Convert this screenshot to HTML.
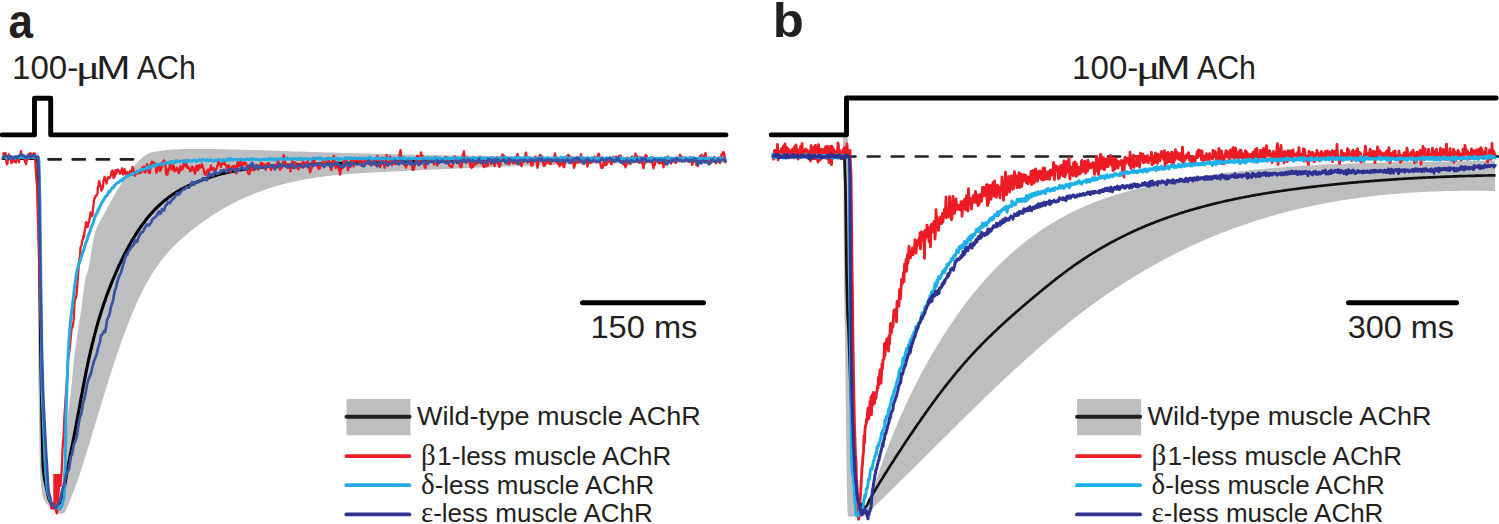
<!DOCTYPE html>
<html><head><meta charset="utf-8"><style>
html,body{margin:0;padding:0;background:#fff;}
body{width:1499px;height:524px;overflow:hidden;font-family:"Liberation Sans",sans-serif;}
svg{display:block;}
</style></head><body>
<svg width="1499" height="524" viewBox="0 0 1499 524">
<path d="M30.0 157.0L30.5 157.0L31.0 157.0L31.5 157.0L32.0 157.0L32.5 157.0L33.0 157.0L33.5 157.0L34.0 157.0L34.5 157.0L35.0 157.0L35.5 157.0L36.0 157.0L36.5 157.0L37.0 157.0L37.5 153.1L38.0 151.0L38.5 153.3L39.0 200.0L39.5 258.3L40.0 320.0L40.5 378.3L41.0 420.0L41.5 438.8L42.0 453.0L42.5 463.1L43.0 470.0L43.5 475.0L44.0 479.2L44.5 482.7L45.0 485.6L45.5 488.0L46.0 490.0L46.5 491.8L47.0 493.4L47.5 494.9L48.0 496.3L48.5 497.5L49.0 498.5L49.5 499.3L50.0 500.0L50.5 500.6L51.0 501.1L51.5 501.6L52.0 502.1L52.5 502.5L53.0 502.7L53.5 502.9L54.0 503.0L54.5 502.9L55.0 502.7L55.5 502.3L56.0 501.9L56.5 501.4L57.0 500.9L57.5 500.5L58.0 500.0L58.5 500.4L59.0 499.9L59.5 498.7L60.0 496.8L60.5 494.4L61.0 491.3L61.5 487.9L62.0 484.0L62.5 479.8L63.0 475.3L63.5 470.6L64.0 465.7L64.5 460.8L65.0 455.8L65.5 450.5L66.0 444.4L66.5 437.2L67.0 428.9L67.5 421.0L68.0 414.7L68.5 409.8L69.0 405.9L69.5 402.4L70.0 399.0L70.5 395.3L71.0 390.8L71.5 385.7L72.0 380.1L72.5 374.5L73.0 369.1L73.5 364.1L74.0 359.5L74.5 355.2L75.0 351.1L75.5 347.3L76.0 343.6L76.5 340.1L77.0 336.7L77.5 333.4L78.0 330.1L78.5 326.9L79.0 323.7L79.5 320.5L80.0 317.2L80.5 313.9L81.0 310.4L81.5 306.9L82.0 303.2L82.5 299.4L83.0 295.4L83.5 291.4L84.0 287.6L84.5 284.1L85.0 281.0L85.5 278.5L86.0 276.6L86.5 275.0L87.0 273.6L87.5 272.1L88.0 270.5L88.5 268.4L89.0 265.9L89.5 263.1L90.0 260.0L90.5 256.8L91.0 253.6L91.5 250.4L92.0 247.2L92.5 244.3L93.0 241.6L93.5 239.1L94.0 236.9L94.5 234.8L95.0 233.0L95.5 231.3L96.0 229.8L96.5 228.4L97.0 227.1L97.5 225.9L98.0 224.9L98.5 223.8L99.0 222.9L99.5 222.0L100.0 221.1L100.5 220.3L101.0 219.4L101.5 218.5L102.0 217.6L102.5 216.7L103.0 215.9L103.5 215.0L104.0 214.1L104.5 213.2L105.0 212.3L105.5 211.4L106.0 210.4L106.5 209.5L107.0 208.6L107.5 207.7L108.0 206.8L108.5 205.9L109.0 205.0L109.5 204.1L110.0 203.1L110.5 202.2L111.0 201.3L111.5 200.4L112.0 199.5L112.5 198.6L113.0 197.7L113.5 196.8L114.0 195.9L114.5 195.1L115.0 194.2L115.5 193.3L116.0 192.4L116.5 191.6L117.0 190.7L117.5 189.9L118.0 189.0L118.5 188.2L119.0 187.4L119.5 186.5L120.0 185.7L120.5 184.9L121.0 184.1L121.5 183.4L122.0 182.6L122.5 181.8L123.0 181.1L123.5 180.3L124.0 179.6L124.5 178.8L125.0 178.1L125.5 177.4L126.0 176.7L126.5 176.0L127.0 175.3L127.5 174.6L128.0 173.9L128.5 173.2L129.0 172.6L129.5 171.9L130.0 171.3L130.5 170.6L131.0 170.0L131.5 169.4L132.0 168.8L132.5 168.1L133.0 167.5L133.5 166.9L134.0 166.3L134.5 165.8L135.0 165.2L135.5 164.6L136.0 164.0L136.5 163.5L137.0 162.9L137.5 162.4L138.0 161.8L138.5 161.3L139.0 160.8L139.5 160.3L140.0 159.8L140.5 159.3L141.0 158.8L141.5 158.4L142.0 157.9L142.5 157.5L143.0 157.1L143.5 156.6L144.0 156.3L144.5 155.9L145.0 155.5L145.5 155.2L146.0 154.9L146.5 154.6L147.0 154.3L147.5 154.0L148.0 153.8L148.5 153.5L149.0 153.3L149.5 153.1L150.0 153.0L150.5 152.8L151.0 152.6L151.5 152.5L152.0 152.3L152.5 152.2L153.0 152.1L153.5 152.0L154.0 151.9L154.5 151.8L155.0 151.7L155.5 151.6L156.0 151.5L156.5 151.4L157.0 151.3L157.5 151.2L158.0 151.2L158.5 151.1L159.0 151.0L159.5 150.9L160.0 150.9L160.5 150.8L161.0 150.7L161.5 150.6L162.0 150.6L162.5 150.5L163.0 150.4L163.5 150.4L164.0 150.3L164.5 150.3L165.0 150.2L165.5 150.1L166.0 150.1L166.5 150.0L167.0 150.0L167.5 149.9L168.0 149.9L168.5 149.8L169.0 149.8L169.5 149.8L170.0 149.7L170.5 149.7L171.0 149.6L171.5 149.6L172.0 149.6L172.5 149.5L173.0 149.5L173.5 149.5L174.0 149.4L174.5 149.4L175.0 149.4L175.5 149.3L176.0 149.3L176.5 149.3L177.0 149.3L177.5 149.2L178.0 149.2L178.5 149.2L179.0 149.2L179.5 149.1L180.0 149.1L180.5 149.1L181.0 149.1L181.5 149.1L182.0 149.1L182.5 149.0L183.0 149.0L183.5 149.0L184.0 149.0L184.5 149.0L185.0 149.0L185.5 149.0L186.0 149.0L186.5 149.0L187.0 149.0L187.5 148.9L188.0 148.9L188.5 148.9L189.0 148.9L189.5 148.9L190.0 148.9L190.5 148.9L191.0 148.9L191.5 148.9L192.0 148.9L192.5 148.9L193.0 148.9L193.5 148.9L194.0 148.9L194.5 148.9L195.0 148.9L195.5 148.9L196.0 148.9L196.5 148.9L197.0 148.9L197.5 148.9L198.0 148.9L198.5 148.9L199.0 148.9L199.5 148.9L200.0 148.9L200.5 149.0L201.0 149.0L201.5 149.0L202.0 149.0L202.5 149.0L203.0 149.0L203.5 149.0L204.0 149.0L204.5 149.0L205.0 149.0L205.5 149.0L206.0 149.0L206.5 149.0L207.0 149.0L207.5 149.0L208.0 149.0L208.5 149.0L209.0 149.0L209.5 149.0L210.0 149.1L210.5 149.1L211.0 149.1L211.5 149.1L212.0 149.1L212.5 149.1L213.0 149.1L213.5 149.1L214.0 149.1L214.5 149.1L215.0 149.1L215.5 149.1L216.0 149.1L216.5 149.2L217.0 149.2L217.5 149.2L218.0 149.2L218.5 149.2L219.0 149.2L219.5 149.2L220.0 149.2L220.5 149.2L221.0 149.2L221.5 149.2L222.0 149.3L222.5 149.3L223.0 149.3L223.5 149.3L224.0 149.3L224.5 149.3L225.0 149.3L225.5 149.3L226.0 149.3L226.5 149.3L227.0 149.4L227.5 149.4L228.0 149.4L228.5 149.4L229.0 149.4L229.5 149.4L230.0 149.4L230.5 149.4L231.0 149.4L231.5 149.5L232.0 149.5L232.5 149.5L233.0 149.5L233.5 149.5L234.0 149.5L234.5 149.5L235.0 149.5L235.5 149.5L236.0 149.6L236.5 149.6L237.0 149.6L237.5 149.6L238.0 149.6L238.5 149.6L239.0 149.6L239.5 149.6L240.0 149.7L240.5 149.7L241.0 149.7L241.5 149.7L242.0 149.7L242.5 149.7L243.0 149.7L243.5 149.8L244.0 149.8L244.5 149.8L245.0 149.8L245.5 149.8L246.0 149.8L246.5 149.8L247.0 149.9L247.5 149.9L248.0 149.9L248.5 149.9L249.0 149.9L249.5 149.9L250.0 149.9L250.5 150.0L251.0 150.0L251.5 150.0L252.0 150.0L252.5 150.0L253.0 150.0L253.5 150.0L254.0 150.1L254.5 150.1L255.0 150.1L255.5 150.1L256.0 150.1L256.5 150.1L257.0 150.1L257.5 150.2L258.0 150.2L258.5 150.2L259.0 150.2L259.5 150.2L260.0 150.2L260.5 150.3L261.0 150.3L261.5 150.3L262.0 150.3L262.5 150.3L263.0 150.3L263.5 150.3L264.0 150.4L264.5 150.4L265.0 150.4L265.5 150.4L266.0 150.4L266.5 150.4L267.0 150.5L267.5 150.5L268.0 150.5L268.5 150.5L269.0 150.5L269.5 150.5L270.0 150.6L270.5 150.6L271.0 150.6L271.5 150.6L272.0 150.6L272.5 150.6L273.0 150.7L273.5 150.7L274.0 150.7L274.5 150.7L275.0 150.7L275.5 150.7L276.0 150.8L276.5 150.8L277.0 150.8L277.5 150.8L278.0 150.8L278.5 150.8L279.0 150.9L279.5 150.9L280.0 150.9L280.5 150.9L281.0 150.9L281.5 150.9L282.0 151.0L282.5 151.0L283.0 151.0L283.5 151.0L284.0 151.0L284.5 151.0L285.0 151.1L285.5 151.1L286.0 151.1L286.5 151.1L287.0 151.1L287.5 151.1L288.0 151.2L288.5 151.2L289.0 151.2L289.5 151.2L290.0 151.2L290.5 151.2L291.0 151.3L291.5 151.3L292.0 151.3L292.5 151.3L293.0 151.3L293.5 151.4L294.0 151.4L294.5 151.4L295.0 151.4L295.5 151.4L296.0 151.4L296.5 151.5L297.0 151.5L297.5 151.5L298.0 151.5L298.5 151.5L299.0 151.5L299.5 151.6L300.0 151.6L300.5 151.6L301.0 151.6L301.5 151.6L302.0 151.6L302.5 151.7L303.0 151.7L303.5 151.7L304.0 151.7L304.5 151.7L305.0 151.7L305.5 151.8L306.0 151.8L306.5 151.8L307.0 151.8L307.5 151.8L308.0 151.8L308.5 151.9L309.0 151.9L309.5 151.9L310.0 151.9L310.5 151.9L311.0 151.9L311.5 151.9L312.0 152.0L312.5 152.0L313.0 152.0L313.5 152.0L314.0 152.0L314.5 152.0L315.0 152.1L315.5 152.1L316.0 152.1L316.5 152.1L317.0 152.1L317.5 152.1L318.0 152.2L318.5 152.2L319.0 152.2L319.5 152.2L320.0 152.2L320.5 152.2L321.0 152.3L321.5 152.3L322.0 152.3L322.5 152.3L323.0 152.3L323.5 152.3L324.0 152.3L324.5 152.4L325.0 152.4L325.5 152.4L326.0 152.4L326.5 152.4L327.0 152.4L327.5 152.5L328.0 152.5L328.5 152.5L329.0 152.5L329.5 152.5L330.0 152.5L330.5 152.5L331.0 152.6L331.5 152.6L332.0 152.6L332.5 152.6L333.0 152.6L333.5 152.6L334.0 152.6L334.5 152.7L335.0 152.7L335.5 152.7L336.0 152.7L336.5 152.7L337.0 152.7L337.5 152.7L338.0 152.8L338.5 152.8L339.0 152.8L339.5 152.8L340.0 152.8L340.5 152.8L341.0 152.9L341.5 152.9L342.0 152.9L342.5 152.9L343.0 152.9L343.5 152.9L344.0 152.9L344.5 153.0L345.0 153.0L345.5 153.0L346.0 153.0L346.5 153.0L347.0 153.0L347.5 153.0L348.0 153.0L348.5 153.1L349.0 153.1L349.5 153.1L350.0 153.1L350.5 153.1L351.0 153.1L351.5 153.1L352.0 153.2L352.5 153.2L353.0 153.2L353.5 153.2L354.0 153.2L354.5 153.2L355.0 153.2L355.5 153.3L356.0 153.3L356.5 153.3L357.0 153.3L357.5 153.3L358.0 153.3L358.5 153.3L359.0 153.4L359.5 153.4L360.0 153.4L360.5 153.4L361.0 153.4L361.5 153.4L362.0 153.4L362.5 153.4L363.0 153.5L363.5 153.5L364.0 153.5L364.5 153.5L365.0 153.5L365.5 153.5L366.0 153.5L366.5 153.5L367.0 153.6L367.5 153.6L368.0 153.6L368.5 153.6L369.0 153.6L369.5 153.6L370.0 153.6L370.5 153.7L371.0 153.7L371.5 153.7L372.0 153.7L372.5 153.7L373.0 153.7L373.5 153.7L374.0 153.7L374.5 153.8L375.0 153.8L375.5 153.8L376.0 153.8L376.5 153.8L377.0 153.8L377.5 153.8L378.0 153.8L378.5 153.9L379.0 153.9L379.5 153.9L380.0 153.9L380.5 153.9L381.0 153.9L381.5 153.9L382.0 153.9L382.5 153.9L383.0 154.0L383.5 154.0L384.0 154.0L384.5 154.0L385.0 154.0L385.5 154.0L386.0 154.0L386.5 154.0L387.0 154.1L387.5 154.1L388.0 154.1L388.5 154.1L389.0 154.1L389.5 154.1L390.0 154.1L390.5 154.1L391.0 154.2L391.5 154.2L392.0 154.2L392.5 154.2L393.0 154.2L393.5 154.2L394.0 154.2L394.5 154.2L395.0 154.2L395.5 154.3L396.0 154.3L396.5 154.3L397.0 154.3L397.5 154.3L398.0 154.3L398.5 154.3L399.0 154.3L399.5 154.3L400.0 154.4L400.5 154.4L401.0 154.4L401.5 154.4L402.0 154.4L402.5 154.4L403.0 154.4L403.5 154.4L404.0 154.4L404.5 154.5L405.0 154.5L405.5 154.5L406.0 154.5L406.5 154.5L407.0 154.5L407.5 154.5L408.0 154.5L408.5 154.5L409.0 154.6L409.5 154.6L410.0 154.6L410.5 154.6L411.0 154.6L411.5 154.6L412.0 154.6L412.5 154.6L413.0 154.6L413.5 154.6L414.0 154.7L414.5 154.7L415.0 154.7L415.5 154.7L416.0 154.7L416.5 154.7L417.0 154.7L417.5 154.7L418.0 154.7L418.5 154.8L419.0 154.8L419.5 154.8L420.0 154.8L420.5 154.8L421.0 154.8L421.5 154.8L422.0 154.8L422.5 154.8L423.0 154.8L423.5 154.9L424.0 154.9L424.5 154.9L425.0 154.9L425.5 154.9L426.0 154.9L426.5 154.9L427.0 154.9L427.5 154.9L428.0 154.9L428.5 154.9L429.0 155.0L429.5 155.0L430.0 155.0L430.5 155.0L431.0 155.0L431.5 155.0L432.0 155.0L432.5 155.0L433.0 155.0L433.5 155.0L434.0 155.1L434.5 155.1L435.0 155.1L435.5 155.1L436.0 155.1L436.5 155.1L437.0 155.1L437.5 155.1L438.0 155.1L438.5 155.1L439.0 155.1L439.5 155.2L440.0 155.2L440.5 155.2L441.0 155.2L441.5 155.2L442.0 155.2L442.5 155.2L443.0 155.2L443.5 155.2L444.0 155.2L444.5 155.2L445.0 155.3L445.5 155.3L446.0 155.3L446.5 155.3L447.0 155.3L447.5 155.3L448.0 155.3L448.5 155.3L449.0 155.3L449.5 155.3L450.0 155.3L450.5 155.4L451.0 155.4L451.5 155.4L452.0 155.4L452.5 155.4L453.0 155.4L453.5 155.4L454.0 155.4L454.5 155.4L455.0 155.4L455.5 155.4L456.0 155.4L456.5 155.5L457.0 155.5L457.5 155.5L458.0 155.5L458.5 155.5L459.0 155.5L459.5 155.5L460.0 155.5L460.5 155.5L461.0 155.5L461.5 155.5L462.0 155.5L462.5 155.5L463.0 155.6L463.5 155.6L464.0 155.6L464.5 155.6L465.0 155.6L465.5 155.6L466.0 155.6L466.5 155.6L467.0 155.6L467.5 155.6L468.0 155.6L468.5 155.6L469.0 155.7L469.5 155.7L470.0 155.7L470.5 155.7L471.0 155.7L471.5 155.7L472.0 155.7L472.5 155.7L473.0 155.7L473.5 155.7L474.0 155.7L474.5 155.7L475.0 155.7L475.5 155.7L476.0 155.8L476.5 155.8L477.0 155.8L477.5 155.8L478.0 155.8L478.5 155.8L479.0 155.8L479.5 155.8L480.0 155.8L480.5 155.8L481.0 155.8L481.5 155.8L482.0 155.8L482.5 155.8L483.0 155.9L483.5 155.9L484.0 155.9L484.5 155.9L485.0 155.9L485.5 155.9L486.0 155.9L486.5 155.9L487.0 155.9L487.5 155.9L488.0 155.9L488.5 155.9L489.0 155.9L489.5 155.9L490.0 156.0L490.5 156.0L491.0 156.0L491.5 156.0L492.0 156.0L492.5 156.0L493.0 156.0L493.5 156.0L494.0 156.0L494.5 156.0L495.0 156.0L495.5 156.0L496.0 156.0L496.5 156.0L497.0 156.0L497.5 156.0L498.0 156.1L498.5 156.1L499.0 156.1L499.5 156.1L500.0 156.1L500.5 156.1L501.0 156.1L501.5 156.1L502.0 156.1L502.5 156.1L503.0 156.1L503.5 156.1L504.0 156.1L504.5 156.1L505.0 156.1L505.5 156.1L506.0 156.2L506.5 156.2L507.0 156.2L507.5 156.2L508.0 156.2L508.5 156.2L509.0 156.2L509.5 156.2L510.0 156.2L510.5 156.2L511.0 156.2L511.5 156.2L512.0 156.2L512.5 156.2L513.0 156.2L513.5 156.2L514.0 156.2L514.5 156.2L515.0 156.3L515.5 156.3L516.0 156.3L516.5 156.3L517.0 156.3L517.5 156.3L518.0 156.3L518.5 156.3L519.0 156.3L519.5 156.3L520.0 156.3L520.5 156.3L521.0 156.3L521.5 156.3L522.0 156.3L522.5 156.3L523.0 156.3L523.5 156.3L524.0 156.3L524.5 156.4L525.0 156.4L525.5 156.4L526.0 156.4L526.5 156.4L527.0 156.4L527.5 156.4L528.0 156.4L528.5 156.4L529.0 156.4L529.5 156.4L530.0 156.4L530.5 156.4L531.0 156.4L531.5 156.4L532.0 156.4L532.5 156.4L533.0 156.4L533.5 156.4L534.0 156.4L534.5 156.5L535.0 156.5L535.5 156.5L536.0 156.5L536.5 156.5L537.0 156.5L537.5 156.5L538.0 156.5L538.5 156.5L539.0 156.5L539.5 156.5L540.0 156.5L540.5 156.5L541.0 156.5L541.5 156.5L542.0 156.5L542.5 156.5L543.0 156.5L543.5 156.5L544.0 156.5L544.5 156.5L545.0 156.5L545.5 156.5L546.0 156.6L546.5 156.6L547.0 156.6L547.5 156.6L548.0 156.6L548.5 156.6L549.0 156.6L549.5 156.6L550.0 156.6L550.5 156.6L551.0 156.6L551.5 156.6L552.0 156.6L552.5 156.6L553.0 156.6L553.5 156.6L554.0 156.6L554.5 156.6L555.0 156.6L555.5 156.6L556.0 156.6L556.5 156.6L557.0 156.6L557.5 156.6L558.0 156.6L558.5 156.6L559.0 156.7L559.5 156.7L560.0 156.7L560.5 156.7L561.0 156.7L561.5 156.7L562.0 156.7L562.5 156.7L563.0 156.7L563.5 156.7L564.0 156.7L564.5 156.7L565.0 156.7L565.5 156.7L566.0 156.7L566.5 156.7L567.0 156.7L567.5 156.7L568.0 156.7L568.5 156.7L569.0 156.7L569.5 156.7L570.0 156.7L570.5 156.7L571.0 156.7L571.5 156.7L572.0 156.7L572.5 156.7L573.0 156.7L573.5 156.7L574.0 156.8L574.5 156.8L575.0 156.8L575.5 156.8L576.0 156.8L576.5 156.8L577.0 156.8L577.5 156.8L578.0 156.8L578.5 156.8L579.0 156.8L579.5 156.8L580.0 156.8L580.5 156.8L581.0 156.8L581.5 156.8L582.0 156.8L582.5 156.8L583.0 156.8L583.5 156.8L584.0 156.8L584.5 156.8L585.0 156.8L585.5 156.8L586.0 156.8L586.5 156.8L587.0 156.8L587.5 156.8L588.0 156.8L588.5 156.8L589.0 156.8L589.5 156.8L590.0 156.8L590.5 156.8L591.0 156.8L591.5 156.8L592.0 156.8L592.5 156.8L593.0 156.8L593.5 156.9L594.0 156.9L594.5 156.9L595.0 156.9L595.5 156.9L596.0 156.9L596.5 156.9L597.0 156.9L597.5 156.9L598.0 156.9L598.5 156.9L599.0 156.9L599.5 156.9L600.0 156.9L600.5 156.9L601.0 156.9L601.5 156.9L602.0 156.9L602.5 156.9L603.0 156.9L603.5 156.9L604.0 156.9L604.5 156.9L605.0 156.9L605.5 156.9L606.0 156.9L606.5 156.9L607.0 156.9L607.5 156.9L608.0 156.9L608.5 156.9L609.0 156.9L609.5 156.9L610.0 156.9L610.5 156.9L611.0 156.9L611.5 156.9L612.0 156.9L612.5 156.9L613.0 156.9L613.5 156.9L614.0 156.9L614.5 156.9L615.0 156.9L615.5 156.9L616.0 156.9L616.5 156.9L617.0 156.9L617.5 156.9L618.0 156.9L618.5 156.9L619.0 156.9L619.5 156.9L620.0 156.9L620.5 156.9L621.0 156.9L621.5 156.9L622.0 156.9L622.5 156.9L623.0 156.9L623.5 156.9L624.0 157.0L624.5 157.0L625.0 157.0L625.5 157.0L626.0 157.0L626.5 157.0L627.0 157.0L627.5 157.0L628.0 157.0L628.5 157.0L629.0 157.0L629.5 157.0L630.0 157.0L630.5 157.0L631.0 157.0L631.5 157.0L632.0 157.0L632.5 157.0L633.0 157.0L633.5 157.0L634.0 157.0L634.5 157.0L635.0 157.0L635.5 157.0L636.0 157.0L636.5 157.0L637.0 157.0L637.5 157.0L638.0 157.0L638.5 157.0L639.0 157.0L639.5 157.0L640.0 157.0L640.5 157.0L641.0 157.0L641.5 157.0L642.0 157.0L642.5 157.0L643.0 157.0L643.5 157.0L644.0 157.0L644.5 157.0L645.0 157.0L645.5 157.0L646.0 157.0L646.5 157.0L647.0 157.0L647.5 157.0L648.0 157.0L648.5 157.0L649.0 157.0L649.5 157.0L650.0 157.0L650.5 157.0L651.0 157.0L651.5 157.0L652.0 157.0L652.5 157.0L653.0 157.0L653.5 157.0L654.0 157.0L654.5 157.0L655.0 157.0L655.5 157.0L656.0 157.0L656.5 157.0L657.0 157.0L657.5 157.0L658.0 157.0L658.5 157.0L659.0 157.0L659.5 157.0L660.0 157.0L660.5 157.0L661.0 157.0L661.5 157.0L662.0 157.0L662.5 157.0L663.0 157.0L663.5 157.0L664.0 157.0L664.5 157.0L665.0 157.0L665.5 157.0L666.0 157.0L666.5 157.0L667.0 157.0L667.5 157.0L668.0 157.0L668.5 157.0L669.0 157.0L669.5 157.0L670.0 157.0L670.5 157.0L671.0 157.0L671.5 157.0L672.0 157.0L672.5 157.0L673.0 157.0L673.5 157.0L674.0 157.0L674.5 157.0L675.0 157.0L675.5 157.0L676.0 157.0L676.5 157.0L677.0 157.0L677.5 157.0L678.0 157.0L678.5 157.0L679.0 157.0L679.5 157.0L680.0 157.0L680.5 157.0L681.0 157.0L681.5 156.9L682.0 156.9L682.5 156.9L683.0 156.9L683.5 156.9L684.0 156.9L684.5 156.9L685.0 156.9L685.5 156.9L686.0 156.9L686.5 156.9L687.0 156.9L687.5 156.9L688.0 156.9L688.5 156.9L689.0 156.9L689.5 156.9L690.0 156.9L690.5 156.9L691.0 156.9L691.5 156.9L692.0 156.9L692.5 156.9L693.0 156.9L693.5 156.9L694.0 156.9L694.5 156.9L695.0 156.9L695.5 156.9L696.0 156.9L696.5 156.9L697.0 156.9L697.5 156.9L698.0 156.9L698.5 156.9L699.0 156.9L699.5 156.9L700.0 156.9L700.5 156.9L701.0 156.9L701.5 156.9L702.0 156.9L702.5 156.9L703.0 156.9L703.5 156.9L704.0 156.9L704.5 156.9L705.0 156.9L705.5 156.9L706.0 156.9L706.5 156.9L707.0 156.9L707.5 156.9L708.0 156.9L708.5 156.9L709.0 156.9L709.5 156.9L710.0 156.9L710.5 156.9L711.0 156.9L711.5 156.9L712.0 156.9L712.5 156.9L713.0 156.9L713.5 156.9L714.0 156.9L714.5 156.8L715.0 156.8L715.5 156.8L716.0 156.8L716.5 156.8L717.0 156.8L717.5 156.8L718.0 156.8L718.5 156.8L719.0 156.8L719.5 156.8L720.0 156.8L720.5 156.8L721.0 156.8L721.5 156.8L722.0 156.8L722.5 156.8L723.0 156.8L723.5 156.8L724.0 156.8L724.5 156.8L725.0 156.8L725.5 156.8L726.0 156.8L726.0 162.7L725.5 162.7L725.0 162.7L724.5 162.7L724.0 162.7L723.5 162.7L723.0 162.7L722.5 162.7L722.0 162.7L721.5 162.7L721.0 162.7L720.5 162.7L720.0 162.7L719.5 162.7L719.0 162.7L718.5 162.7L718.0 162.7L717.5 162.7L717.0 162.7L716.5 162.7L716.0 162.7L715.5 162.7L715.0 162.6L714.5 162.6L714.0 162.6L713.5 162.6L713.0 162.6L712.5 162.6L712.0 162.6L711.5 162.6L711.0 162.6L710.5 162.6L710.0 162.6L709.5 162.6L709.0 162.6L708.5 162.6L708.0 162.6L707.5 162.6L707.0 162.6L706.5 162.6L706.0 162.6L705.5 162.6L705.0 162.6L704.5 162.6L704.0 162.6L703.5 162.6L703.0 162.6L702.5 162.6L702.0 162.6L701.5 162.6L701.0 162.6L700.5 162.6L700.0 162.6L699.5 162.6L699.0 162.6L698.5 162.6L698.0 162.6L697.5 162.6L697.0 162.6L696.5 162.6L696.0 162.6L695.5 162.6L695.0 162.6L694.5 162.6L694.0 162.6L693.5 162.6L693.0 162.6L692.5 162.6L692.0 162.6L691.5 162.6L691.0 162.6L690.5 162.6L690.0 162.6L689.5 162.6L689.0 162.6L688.5 162.6L688.0 162.6L687.5 162.6L687.0 162.6L686.5 162.6L686.0 162.6L685.5 162.6L685.0 162.6L684.5 162.6L684.0 162.6L683.5 162.6L683.0 162.6L682.5 162.6L682.0 162.6L681.5 162.6L681.0 162.6L680.5 162.6L680.0 162.6L679.5 162.6L679.0 162.6L678.5 162.6L678.0 162.6L677.5 162.6L677.0 162.6L676.5 162.6L676.0 162.6L675.5 162.6L675.0 162.6L674.5 162.6L674.0 162.6L673.5 162.6L673.0 162.6L672.5 162.6L672.0 162.6L671.5 162.6L671.0 162.6L670.5 162.6L670.0 162.6L669.5 162.6L669.0 162.6L668.5 162.6L668.0 162.6L667.5 162.6L667.0 162.6L666.5 162.6L666.0 162.6L665.5 162.6L665.0 162.6L664.5 162.6L664.0 162.6L663.5 162.7L663.0 162.7L662.5 162.7L662.0 162.7L661.5 162.7L661.0 162.7L660.5 162.7L660.0 162.7L659.5 162.7L659.0 162.7L658.5 162.7L658.0 162.7L657.5 162.7L657.0 162.7L656.5 162.7L656.0 162.7L655.5 162.7L655.0 162.7L654.5 162.7L654.0 162.7L653.5 162.7L653.0 162.7L652.5 162.7L652.0 162.8L651.5 162.8L651.0 162.8L650.5 162.8L650.0 162.8L649.5 162.8L649.0 162.8L648.5 162.8L648.0 162.8L647.5 162.8L647.0 162.8L646.5 162.8L646.0 162.8L645.5 162.8L645.0 162.8L644.5 162.8L644.0 162.8L643.5 162.8L643.0 162.9L642.5 162.9L642.0 162.9L641.5 162.9L641.0 162.9L640.5 162.9L640.0 162.9L639.5 162.9L639.0 162.9L638.5 162.9L638.0 162.9L637.5 162.9L637.0 162.9L636.5 162.9L636.0 162.9L635.5 163.0L635.0 163.0L634.5 163.0L634.0 163.0L633.5 163.0L633.0 163.0L632.5 163.0L632.0 163.0L631.5 163.0L631.0 163.0L630.5 163.0L630.0 163.0L629.5 163.0L629.0 163.1L628.5 163.1L628.0 163.1L627.5 163.1L627.0 163.1L626.5 163.1L626.0 163.1L625.5 163.1L625.0 163.1L624.5 163.1L624.0 163.1L623.5 163.1L623.0 163.2L622.5 163.2L622.0 163.2L621.5 163.2L621.0 163.2L620.5 163.2L620.0 163.2L619.5 163.2L619.0 163.2L618.5 163.2L618.0 163.2L617.5 163.3L617.0 163.3L616.5 163.3L616.0 163.3L615.5 163.3L615.0 163.3L614.5 163.3L614.0 163.3L613.5 163.3L613.0 163.3L612.5 163.4L612.0 163.4L611.5 163.4L611.0 163.4L610.5 163.4L610.0 163.4L609.5 163.4L609.0 163.4L608.5 163.4L608.0 163.4L607.5 163.5L607.0 163.5L606.5 163.5L606.0 163.5L605.5 163.5L605.0 163.5L604.5 163.5L604.0 163.5L603.5 163.5L603.0 163.5L602.5 163.6L602.0 163.6L601.5 163.6L601.0 163.6L600.5 163.6L600.0 163.6L599.5 163.6L599.0 163.6L598.5 163.6L598.0 163.7L597.5 163.7L597.0 163.7L596.5 163.7L596.0 163.7L595.5 163.7L595.0 163.7L594.5 163.7L594.0 163.8L593.5 163.8L593.0 163.8L592.5 163.8L592.0 163.8L591.5 163.8L591.0 163.8L590.5 163.8L590.0 163.8L589.5 163.9L589.0 163.9L588.5 163.9L588.0 163.9L587.5 163.9L587.0 163.9L586.5 163.9L586.0 163.9L585.5 164.0L585.0 164.0L584.5 164.0L584.0 164.0L583.5 164.0L583.0 164.0L582.5 164.0L582.0 164.1L581.5 164.1L581.0 164.1L580.5 164.1L580.0 164.1L579.5 164.1L579.0 164.1L578.5 164.1L578.0 164.2L577.5 164.2L577.0 164.2L576.5 164.2L576.0 164.2L575.5 164.2L575.0 164.2L574.5 164.3L574.0 164.3L573.5 164.3L573.0 164.3L572.5 164.3L572.0 164.3L571.5 164.3L571.0 164.4L570.5 164.4L570.0 164.4L569.5 164.4L569.0 164.4L568.5 164.4L568.0 164.4L567.5 164.5L567.0 164.5L566.5 164.5L566.0 164.5L565.5 164.5L565.0 164.5L564.5 164.5L564.0 164.6L563.5 164.6L563.0 164.6L562.5 164.6L562.0 164.6L561.5 164.6L561.0 164.6L560.5 164.7L560.0 164.7L559.5 164.7L559.0 164.7L558.5 164.7L558.0 164.7L557.5 164.7L557.0 164.8L556.5 164.8L556.0 164.8L555.5 164.8L555.0 164.8L554.5 164.8L554.0 164.9L553.5 164.9L553.0 164.9L552.5 164.9L552.0 164.9L551.5 164.9L551.0 165.0L550.5 165.0L550.0 165.0L549.5 165.0L549.0 165.0L548.5 165.0L548.0 165.0L547.5 165.1L547.0 165.1L546.5 165.1L546.0 165.1L545.5 165.1L545.0 165.1L544.5 165.2L544.0 165.2L543.5 165.2L543.0 165.2L542.5 165.2L542.0 165.2L541.5 165.3L541.0 165.3L540.5 165.3L540.0 165.3L539.5 165.3L539.0 165.3L538.5 165.4L538.0 165.4L537.5 165.4L537.0 165.4L536.5 165.4L536.0 165.4L535.5 165.5L535.0 165.5L534.5 165.5L534.0 165.5L533.5 165.5L533.0 165.5L532.5 165.6L532.0 165.6L531.5 165.6L531.0 165.6L530.5 165.6L530.0 165.7L529.5 165.7L529.0 165.7L528.5 165.7L528.0 165.7L527.5 165.7L527.0 165.8L526.5 165.8L526.0 165.8L525.5 165.8L525.0 165.8L524.5 165.8L524.0 165.9L523.5 165.9L523.0 165.9L522.5 165.9L522.0 165.9L521.5 166.0L521.0 166.0L520.5 166.0L520.0 166.0L519.5 166.0L519.0 166.0L518.5 166.1L518.0 166.1L517.5 166.1L517.0 166.1L516.5 166.1L516.0 166.2L515.5 166.2L515.0 166.2L514.5 166.2L514.0 166.2L513.5 166.3L513.0 166.3L512.5 166.3L512.0 166.3L511.5 166.3L511.0 166.3L510.5 166.4L510.0 166.4L509.5 166.4L509.0 166.4L508.5 166.4L508.0 166.5L507.5 166.5L507.0 166.5L506.5 166.5L506.0 166.5L505.5 166.6L505.0 166.6L504.5 166.6L504.0 166.6L503.5 166.6L503.0 166.7L502.5 166.7L502.0 166.7L501.5 166.7L501.0 166.7L500.5 166.8L500.0 166.8L499.5 166.8L499.0 166.8L498.5 166.8L498.0 166.8L497.5 166.9L497.0 166.9L496.5 166.9L496.0 166.9L495.5 166.9L495.0 167.0L494.5 167.0L494.0 167.0L493.5 167.0L493.0 167.0L492.5 167.1L492.0 167.1L491.5 167.1L491.0 167.1L490.5 167.1L490.0 167.2L489.5 167.2L489.0 167.2L488.5 167.2L488.0 167.3L487.5 167.3L487.0 167.3L486.5 167.3L486.0 167.3L485.5 167.4L485.0 167.4L484.5 167.4L484.0 167.4L483.5 167.4L483.0 167.5L482.5 167.5L482.0 167.5L481.5 167.5L481.0 167.5L480.5 167.6L480.0 167.6L479.5 167.6L479.0 167.6L478.5 167.6L478.0 167.7L477.5 167.7L477.0 167.7L476.5 167.7L476.0 167.7L475.5 167.8L475.0 167.8L474.5 167.8L474.0 167.8L473.5 167.9L473.0 167.9L472.5 167.9L472.0 167.9L471.5 167.9L471.0 168.0L470.5 168.0L470.0 168.0L469.5 168.0L469.0 168.0L468.5 168.1L468.0 168.1L467.5 168.1L467.0 168.1L466.5 168.2L466.0 168.2L465.5 168.2L465.0 168.2L464.5 168.2L464.0 168.3L463.5 168.3L463.0 168.3L462.5 168.3L462.0 168.3L461.5 168.4L461.0 168.4L460.5 168.4L460.0 168.4L459.5 168.5L459.0 168.5L458.5 168.5L458.0 168.5L457.5 168.5L457.0 168.6L456.5 168.6L456.0 168.6L455.5 168.6L455.0 168.7L454.5 168.7L454.0 168.7L453.5 168.7L453.0 168.7L452.5 168.8L452.0 168.8L451.5 168.8L451.0 168.8L450.5 168.9L450.0 168.9L449.5 168.9L449.0 168.9L448.5 168.9L448.0 169.0L447.5 169.0L447.0 169.0L446.5 169.0L446.0 169.1L445.5 169.1L445.0 169.1L444.5 169.1L444.0 169.1L443.5 169.2L443.0 169.2L442.5 169.2L442.0 169.2L441.5 169.3L441.0 169.3L440.5 169.3L440.0 169.3L439.5 169.3L439.0 169.4L438.5 169.4L438.0 169.4L437.5 169.4L437.0 169.5L436.5 169.5L436.0 169.5L435.5 169.5L435.0 169.5L434.5 169.6L434.0 169.6L433.5 169.6L433.0 169.6L432.5 169.7L432.0 169.7L431.5 169.7L431.0 169.7L430.5 169.8L430.0 169.8L429.5 169.8L429.0 169.8L428.5 169.8L428.0 169.9L427.5 169.9L427.0 169.9L426.5 169.9L426.0 170.0L425.5 170.0L425.0 170.0L424.5 170.0L424.0 170.1L423.5 170.1L423.0 170.1L422.5 170.1L422.0 170.1L421.5 170.2L421.0 170.2L420.5 170.2L420.0 170.2L419.5 170.3L419.0 170.3L418.5 170.3L418.0 170.3L417.5 170.4L417.0 170.4L416.5 170.4L416.0 170.4L415.5 170.5L415.0 170.5L414.5 170.5L414.0 170.5L413.5 170.5L413.0 170.6L412.5 170.6L412.0 170.6L411.5 170.6L411.0 170.7L410.5 170.7L410.0 170.7L409.5 170.7L409.0 170.8L408.5 170.8L408.0 170.8L407.5 170.8L407.0 170.8L406.5 170.9L406.0 170.9L405.5 170.9L405.0 170.9L404.5 171.0L404.0 171.0L403.5 171.0L403.0 171.0L402.5 171.1L402.0 171.1L401.5 171.1L401.0 171.1L400.5 171.2L400.0 171.2L399.5 171.2L399.0 171.2L398.5 171.3L398.0 171.3L397.5 171.3L397.0 171.3L396.5 171.3L396.0 171.4L395.5 171.4L395.0 171.4L394.5 171.4L394.0 171.5L393.5 171.5L393.0 171.5L392.5 171.5L392.0 171.6L391.5 171.6L391.0 171.6L390.5 171.6L390.0 171.7L389.5 171.7L389.0 171.7L388.5 171.7L388.0 171.8L387.5 171.8L387.0 171.8L386.5 171.8L386.0 171.8L385.5 171.9L385.0 171.9L384.5 171.9L384.0 171.9L383.5 172.0L383.0 172.0L382.5 172.0L382.0 172.0L381.5 172.1L381.0 172.1L380.5 172.1L380.0 172.1L379.5 172.2L379.0 172.2L378.5 172.2L378.0 172.2L377.5 172.3L377.0 172.3L376.5 172.3L376.0 172.3L375.5 172.4L375.0 172.4L374.5 172.4L374.0 172.4L373.5 172.5L373.0 172.5L372.5 172.5L372.0 172.5L371.5 172.6L371.0 172.6L370.5 172.6L370.0 172.7L369.5 172.7L369.0 172.7L368.5 172.7L368.0 172.8L367.5 172.8L367.0 172.8L366.5 172.8L366.0 172.9L365.5 172.9L365.0 172.9L364.5 173.0L364.0 173.0L363.5 173.0L363.0 173.0L362.5 173.1L362.0 173.1L361.5 173.1L361.0 173.2L360.5 173.2L360.0 173.2L359.5 173.3L359.0 173.3L358.5 173.3L358.0 173.4L357.5 173.4L357.0 173.4L356.5 173.5L356.0 173.5L355.5 173.5L355.0 173.6L354.5 173.6L354.0 173.6L353.5 173.7L353.0 173.7L352.5 173.7L352.0 173.8L351.5 173.8L351.0 173.8L350.5 173.9L350.0 173.9L349.5 174.0L349.0 174.0L348.5 174.0L348.0 174.1L347.5 174.1L347.0 174.2L346.5 174.2L346.0 174.2L345.5 174.3L345.0 174.3L344.5 174.4L344.0 174.4L343.5 174.4L343.0 174.5L342.5 174.5L342.0 174.6L341.5 174.6L341.0 174.7L340.5 174.7L340.0 174.8L339.5 174.8L339.0 174.8L338.5 174.9L338.0 174.9L337.5 175.0L337.0 175.0L336.5 175.1L336.0 175.1L335.5 175.2L335.0 175.2L334.5 175.3L334.0 175.3L333.5 175.4L333.0 175.4L332.5 175.5L332.0 175.6L331.5 175.6L331.0 175.7L330.5 175.7L330.0 175.8L329.5 175.8L329.0 175.9L328.5 175.9L328.0 176.0L327.5 176.1L327.0 176.1L326.5 176.2L326.0 176.2L325.5 176.3L325.0 176.4L324.5 176.4L324.0 176.5L323.5 176.6L323.0 176.6L322.5 176.7L322.0 176.8L321.5 176.8L321.0 176.9L320.5 177.0L320.0 177.0L319.5 177.1L319.0 177.2L318.5 177.2L318.0 177.3L317.5 177.4L317.0 177.4L316.5 177.5L316.0 177.6L315.5 177.7L315.0 177.7L314.5 177.8L314.0 177.9L313.5 178.0L313.0 178.1L312.5 178.1L312.0 178.2L311.5 178.3L311.0 178.4L310.5 178.5L310.0 178.5L309.5 178.6L309.0 178.7L308.5 178.8L308.0 178.9L307.5 179.0L307.0 179.0L306.5 179.1L306.0 179.2L305.5 179.3L305.0 179.4L304.5 179.5L304.0 179.6L303.5 179.7L303.0 179.8L302.5 179.9L302.0 180.0L301.5 180.1L301.0 180.2L300.5 180.3L300.0 180.4L299.5 180.5L299.0 180.6L298.5 180.7L298.0 180.8L297.5 180.9L297.0 181.0L296.5 181.1L296.0 181.2L295.5 181.3L295.0 181.4L294.5 181.5L294.0 181.6L293.5 181.7L293.0 181.8L292.5 181.9L292.0 182.1L291.5 182.2L291.0 182.3L290.5 182.4L290.0 182.5L289.5 182.6L289.0 182.8L288.5 182.9L288.0 183.0L287.5 183.1L287.0 183.2L286.5 183.4L286.0 183.5L285.5 183.6L285.0 183.7L284.5 183.9L284.0 184.0L283.5 184.1L283.0 184.3L282.5 184.4L282.0 184.5L281.5 184.7L281.0 184.8L280.5 184.9L280.0 185.1L279.5 185.2L279.0 185.3L278.5 185.5L278.0 185.6L277.5 185.8L277.0 185.9L276.5 186.0L276.0 186.2L275.5 186.3L275.0 186.5L274.5 186.6L274.0 186.8L273.5 186.9L273.0 187.1L272.5 187.2L272.0 187.4L271.5 187.6L271.0 187.7L270.5 187.9L270.0 188.0L269.5 188.2L269.0 188.4L268.5 188.5L268.0 188.7L267.5 188.8L267.0 189.0L266.5 189.2L266.0 189.3L265.5 189.5L265.0 189.7L264.5 189.9L264.0 190.0L263.5 190.2L263.0 190.4L262.5 190.6L262.0 190.7L261.5 190.9L261.0 191.1L260.5 191.3L260.0 191.5L259.5 191.6L259.0 191.8L258.5 192.0L258.0 192.2L257.5 192.4L257.0 192.6L256.5 192.8L256.0 193.0L255.5 193.2L255.0 193.4L254.5 193.6L254.0 193.8L253.5 194.0L253.0 194.2L252.5 194.4L252.0 194.6L251.5 194.8L251.0 195.0L250.5 195.2L250.0 195.4L249.5 195.6L249.0 195.8L248.5 196.0L248.0 196.2L247.5 196.5L247.0 196.7L246.5 196.9L246.0 197.1L245.5 197.3L245.0 197.6L244.5 197.8L244.0 198.0L243.5 198.2L243.0 198.5L242.5 198.7L242.0 198.9L241.5 199.2L241.0 199.4L240.5 199.6L240.0 199.9L239.5 200.1L239.0 200.3L238.5 200.6L238.0 200.8L237.5 201.1L237.0 201.3L236.5 201.6L236.0 201.8L235.5 202.1L235.0 202.3L234.5 202.6L234.0 202.8L233.5 203.1L233.0 203.3L232.5 203.6L232.0 203.9L231.5 204.1L231.0 204.4L230.5 204.6L230.0 204.9L229.5 205.2L229.0 205.5L228.5 205.7L228.0 206.0L227.5 206.3L227.0 206.5L226.5 206.8L226.0 207.1L225.5 207.4L225.0 207.7L224.5 208.0L224.0 208.2L223.5 208.5L223.0 208.8L222.5 209.1L222.0 209.4L221.5 209.7L221.0 210.0L220.5 210.3L220.0 210.6L219.5 210.9L219.0 211.2L218.5 211.5L218.0 211.8L217.5 212.1L217.0 212.4L216.5 212.7L216.0 213.0L215.5 213.3L215.0 213.7L214.5 214.0L214.0 214.3L213.5 214.6L213.0 214.9L212.5 215.3L212.0 215.6L211.5 215.9L211.0 216.3L210.5 216.6L210.0 216.9L209.5 217.2L209.0 217.6L208.5 217.9L208.0 218.3L207.5 218.6L207.0 218.9L206.5 219.3L206.0 219.6L205.5 220.0L205.0 220.3L204.5 220.7L204.0 221.0L203.5 221.4L203.0 221.8L202.5 222.1L202.0 222.5L201.5 222.8L201.0 223.2L200.5 223.6L200.0 223.9L199.5 224.3L199.0 224.7L198.5 225.1L198.0 225.4L197.5 225.8L197.0 226.2L196.5 226.6L196.0 227.0L195.5 227.3L195.0 227.7L194.5 228.1L194.0 228.5L193.5 228.9L193.0 229.3L192.5 229.7L192.0 230.1L191.5 230.5L191.0 230.9L190.5 231.3L190.0 231.7L189.5 232.1L189.0 232.5L188.5 232.9L188.0 233.4L187.5 233.8L187.0 234.2L186.5 234.6L186.0 235.0L185.5 235.5L185.0 235.9L184.5 236.3L184.0 236.7L183.5 237.2L183.0 237.6L182.5 238.1L182.0 238.5L181.5 238.9L181.0 239.4L180.5 239.8L180.0 240.3L179.5 240.8L179.0 241.2L178.5 241.7L178.0 242.1L177.5 242.6L177.0 243.1L176.5 243.6L176.0 244.1L175.5 244.5L175.0 245.0L174.5 245.5L174.0 246.0L173.5 246.5L173.0 247.1L172.5 247.6L172.0 248.1L171.5 248.6L171.0 249.1L170.5 249.7L170.0 250.2L169.5 250.8L169.0 251.3L168.5 251.9L168.0 252.4L167.5 253.0L167.0 253.6L166.5 254.2L166.0 254.7L165.5 255.3L165.0 255.9L164.5 256.5L164.0 257.1L163.5 257.8L163.0 258.4L162.5 259.0L162.0 259.7L161.5 260.3L161.0 260.9L160.5 261.6L160.0 262.3L159.5 262.9L159.0 263.6L158.5 264.3L158.0 265.0L157.5 265.7L157.0 266.4L156.5 267.1L156.0 267.9L155.5 268.6L155.0 269.3L154.5 270.1L154.0 270.9L153.5 271.6L153.0 272.4L152.5 273.2L152.0 274.0L151.5 274.8L151.0 275.6L150.5 276.4L150.0 277.3L149.5 278.1L149.0 278.9L148.5 279.8L148.0 280.7L147.5 281.5L147.0 282.4L146.5 283.3L146.0 284.2L145.5 285.2L145.0 286.1L144.5 287.0L144.0 288.0L143.5 288.9L143.0 289.9L142.5 290.9L142.0 291.9L141.5 292.9L141.0 293.9L140.5 294.9L140.0 295.9L139.5 297.0L139.0 298.1L138.5 299.1L138.0 300.2L137.5 301.3L137.0 302.4L136.5 303.5L136.0 304.6L135.5 305.8L135.0 306.9L134.5 308.1L134.0 309.3L133.5 310.4L133.0 311.6L132.5 312.8L132.0 314.0L131.5 315.3L131.0 316.5L130.5 317.7L130.0 319.0L129.5 320.2L129.0 321.5L128.5 322.8L128.0 324.1L127.5 325.4L127.0 326.7L126.5 328.0L126.0 329.3L125.5 330.7L125.0 332.0L124.5 333.3L124.0 334.7L123.5 336.1L123.0 337.5L122.5 338.8L122.0 340.2L121.5 341.6L121.0 343.1L120.5 344.5L120.0 345.9L119.5 347.3L119.0 348.8L118.5 350.2L118.0 351.7L117.5 353.1L117.0 354.6L116.5 356.1L116.0 357.6L115.5 359.1L115.0 360.6L114.5 362.1L114.0 363.6L113.5 365.1L113.0 366.7L112.5 368.2L112.0 369.7L111.5 371.3L111.0 372.8L110.5 374.4L110.0 375.9L109.5 377.5L109.0 379.1L108.5 380.7L108.0 382.3L107.5 383.9L107.0 385.5L106.5 387.1L106.0 388.7L105.5 390.3L105.0 391.9L104.5 393.5L104.0 395.1L103.5 396.8L103.0 398.4L102.5 400.1L102.0 401.7L101.5 403.4L101.0 405.0L100.5 406.7L100.0 408.3L99.5 410.0L99.0 411.6L98.5 413.3L98.0 415.0L97.5 416.6L97.0 418.3L96.5 420.0L96.0 421.6L95.5 423.3L95.0 425.0L94.5 426.6L94.0 428.3L93.5 430.0L93.0 431.6L92.5 433.3L92.0 435.0L91.5 436.6L91.0 438.3L90.5 439.9L90.0 441.6L89.5 443.2L89.0 444.8L88.5 446.5L88.0 448.1L87.5 449.7L87.0 451.3L86.5 452.9L86.0 454.5L85.5 456.1L85.0 457.7L84.5 459.3L84.0 460.9L83.5 462.5L83.0 464.0L82.5 465.6L82.0 467.1L81.5 468.7L81.0 470.2L80.5 471.7L80.0 473.2L79.5 474.7L79.0 476.2L78.5 477.6L78.0 479.1L77.5 480.6L77.0 482.0L76.5 483.4L76.0 484.8L75.5 486.2L75.0 487.6L74.5 489.0L74.0 490.4L73.5 491.7L73.0 493.0L72.5 494.3L72.0 495.6L71.5 496.9L71.0 498.2L70.5 499.5L70.0 500.7L69.5 501.9L69.0 503.1L68.5 504.3L68.0 505.5L67.5 506.6L67.0 507.8L66.5 508.9L66.0 510.0L65.5 511.0L65.0 512.1L64.5 512.8L64.0 513.0L63.5 513.2L63.0 513.3L62.5 513.4L62.0 513.5L61.5 513.6L61.0 513.7L60.5 513.7L60.0 513.7L59.5 513.7L59.0 513.6L58.5 513.4L58.0 513.2L57.5 512.9L57.0 512.6L56.5 512.3L56.0 511.9L55.5 511.6L55.0 511.2L54.5 510.8L54.0 510.5L53.5 510.2L53.0 509.8L52.5 509.4L52.0 509.0L51.5 508.5L51.0 508.1L50.5 507.6L50.0 507.1L49.5 506.6L49.0 506.1L48.5 505.6L48.0 505.0L47.5 504.5L47.0 503.9L46.5 503.4L46.0 502.9L45.5 502.2L45.0 501.6L44.5 500.8L44.0 499.8L43.5 498.8L43.0 497.4L42.5 495.4L42.0 492.6L41.5 489.1L41.0 485.0L40.5 479.3L40.0 470.0L39.5 449.5L39.0 420.0L38.5 388.2L38.0 322.1L37.5 181.2L37.0 160.0L36.5 160.0L36.0 160.0L35.5 160.0L35.0 160.0L34.5 160.0L34.0 160.0L33.5 160.0L33.0 160.0L32.5 160.0L32.0 160.0L31.5 160.0L31.0 160.0L30.5 160.0L30.0 160.0Z" fill="#bcbec0"/>
<path d="M840.0 158.0L840.5 158.0L841.0 158.0L841.5 158.0L842.0 158.0L842.5 158.0L843.0 158.0L843.5 158.0L844.0 137.0L844.5 137.0L845.0 137.0L845.5 137.0L846.0 137.0L846.5 137.0L847.0 137.0L847.5 137.0L848.0 155.4L848.5 195.5L849.0 250.0L849.5 300.0L850.0 337.1L850.5 369.7L851.0 400.0L851.5 431.5L852.0 455.0L852.5 467.5L853.0 477.2L853.5 484.6L854.0 490.0L854.5 494.5L855.0 498.5L855.5 502.0L856.0 504.9L856.5 506.9L857.0 508.0L857.5 508.6L858.0 509.1L858.5 509.5L859.0 509.9L859.5 510.2L860.0 510.5L860.5 510.7L861.0 510.9L861.5 511.0L862.0 511.0L862.5 511.0L863.0 510.8L863.5 510.7L864.0 510.4L864.5 510.1L865.0 509.8L865.5 509.4L866.0 509.0L866.5 508.5L867.0 508.0L867.5 507.3L868.0 506.3L868.5 504.9L869.0 503.3L869.5 501.6L870.0 499.8L870.5 497.9L871.0 496.1L871.5 494.3L872.0 492.7L872.5 491.1L873.0 489.6L873.5 488.0L874.0 486.5L874.5 485.0L875.0 483.5L875.5 482.0L876.0 480.5L876.5 479.0L877.0 477.6L877.5 476.1L878.0 474.7L878.5 473.2L879.0 471.8L879.5 470.3L880.0 468.9L880.5 467.5L881.0 466.1L881.5 464.7L882.0 463.3L882.5 461.9L883.0 460.5L883.5 459.1L884.0 457.8L884.5 456.4L885.0 455.1L885.5 453.7L886.0 452.4L886.5 451.1L887.0 449.7L887.5 448.4L888.0 447.1L888.5 445.8L889.0 444.5L889.5 443.2L890.0 442.0L890.5 440.7L891.0 439.4L891.5 438.2L892.0 436.9L892.5 435.7L893.0 434.4L893.5 433.2L894.0 432.0L894.5 430.7L895.0 429.5L895.5 428.3L896.0 427.1L896.5 425.9L897.0 424.7L897.5 423.5L898.0 422.4L898.5 421.2L899.0 420.0L899.5 418.9L900.0 417.7L900.5 416.6L901.0 415.4L901.5 414.3L902.0 413.2L902.5 412.0L903.0 410.9L903.5 409.8L904.0 408.7L904.5 407.6L905.0 406.5L905.5 405.4L906.0 404.3L906.5 403.2L907.0 402.2L907.5 401.1L908.0 400.0L908.5 399.0L909.0 397.9L909.5 396.9L910.0 395.8L910.5 394.8L911.0 393.7L911.5 392.7L912.0 391.7L912.5 390.7L913.0 389.7L913.5 388.7L914.0 387.7L914.5 386.7L915.0 385.7L915.5 384.7L916.0 383.7L916.5 382.7L917.0 381.7L917.5 380.8L918.0 379.8L918.5 378.8L919.0 377.9L919.5 376.9L920.0 376.0L920.5 375.0L921.0 374.1L921.5 373.1L922.0 372.2L922.5 371.3L923.0 370.3L923.5 369.4L924.0 368.5L924.5 367.6L925.0 366.7L925.5 365.8L926.0 364.9L926.5 364.0L927.0 363.1L927.5 362.2L928.0 361.3L928.5 360.4L929.0 359.5L929.5 358.7L930.0 357.8L930.5 356.9L931.0 356.0L931.5 355.2L932.0 354.3L932.5 353.5L933.0 352.6L933.5 351.7L934.0 350.9L934.5 350.1L935.0 349.2L935.5 348.4L936.0 347.5L936.5 346.7L937.0 345.9L937.5 345.0L938.0 344.2L938.5 343.4L939.0 342.6L939.5 341.8L940.0 341.0L940.5 340.2L941.0 339.4L941.5 338.6L942.0 337.8L942.5 337.0L943.0 336.2L943.5 335.4L944.0 334.6L944.5 333.8L945.0 333.0L945.5 332.2L946.0 331.5L946.5 330.7L947.0 329.9L947.5 329.2L948.0 328.4L948.5 327.6L949.0 326.9L949.5 326.1L950.0 325.4L950.5 324.6L951.0 323.9L951.5 323.2L952.0 322.4L952.5 321.7L953.0 320.9L953.5 320.2L954.0 319.5L954.5 318.8L955.0 318.0L955.5 317.3L956.0 316.6L956.5 315.9L957.0 315.2L957.5 314.5L958.0 313.8L958.5 313.1L959.0 312.4L959.5 311.7L960.0 311.0L960.5 310.3L961.0 309.6L961.5 308.9L962.0 308.2L962.5 307.6L963.0 306.9L963.5 306.2L964.0 305.6L964.5 304.9L965.0 304.2L965.5 303.6L966.0 302.9L966.5 302.2L967.0 301.6L967.5 300.9L968.0 300.3L968.5 299.6L969.0 299.0L969.5 298.4L970.0 297.7L970.5 297.1L971.0 296.4L971.5 295.8L972.0 295.2L972.5 294.6L973.0 293.9L973.5 293.3L974.0 292.7L974.5 292.1L975.0 291.5L975.5 290.9L976.0 290.3L976.5 289.7L977.0 289.0L977.5 288.4L978.0 287.9L978.5 287.3L979.0 286.7L979.5 286.1L980.0 285.5L980.5 284.9L981.0 284.3L981.5 283.7L982.0 283.2L982.5 282.6L983.0 282.0L983.5 281.5L984.0 280.9L984.5 280.3L985.0 279.8L985.5 279.2L986.0 278.6L986.5 278.1L987.0 277.5L987.5 277.0L988.0 276.4L988.5 275.9L989.0 275.3L989.5 274.8L990.0 274.3L990.5 273.7L991.0 273.2L991.5 272.7L992.0 272.1L992.5 271.6L993.0 271.1L993.5 270.6L994.0 270.0L994.5 269.5L995.0 269.0L995.5 268.5L996.0 268.0L996.5 267.5L997.0 267.0L997.5 266.5L998.0 266.0L998.5 265.5L999.0 265.0L999.5 264.5L1000.0 264.0L1000.5 263.5L1001.0 263.0L1001.5 262.5L1002.0 262.0L1002.5 261.5L1003.0 261.1L1003.5 260.6L1004.0 260.1L1004.5 259.6L1005.0 259.2L1005.5 258.7L1006.0 258.2L1006.5 257.8L1007.0 257.3L1007.5 256.8L1008.0 256.4L1008.5 255.9L1009.0 255.5L1009.5 255.0L1010.0 254.6L1010.5 254.1L1011.0 253.7L1011.5 253.2L1012.0 252.8L1012.5 252.3L1013.0 251.9L1013.5 251.5L1014.0 251.0L1014.5 250.6L1015.0 250.2L1015.5 249.7L1016.0 249.3L1016.5 248.9L1017.0 248.5L1017.5 248.0L1018.0 247.6L1018.5 247.2L1019.0 246.8L1019.5 246.4L1020.0 246.0L1020.5 245.6L1021.0 245.2L1021.5 244.7L1022.0 244.3L1022.5 243.9L1023.0 243.5L1023.5 243.1L1024.0 242.7L1024.5 242.4L1025.0 242.0L1025.5 241.6L1026.0 241.2L1026.5 240.8L1027.0 240.4L1027.5 240.0L1028.0 239.6L1028.5 239.3L1029.0 238.9L1029.5 238.5L1030.0 238.1L1030.5 237.8L1031.0 237.4L1031.5 237.0L1032.0 236.7L1032.5 236.3L1033.0 235.9L1033.5 235.6L1034.0 235.2L1034.5 234.8L1035.0 234.5L1035.5 234.1L1036.0 233.8L1036.5 233.4L1037.0 233.1L1037.5 232.7L1038.0 232.4L1038.5 232.0L1039.0 231.7L1039.5 231.3L1040.0 231.0L1040.5 230.7L1041.0 230.3L1041.5 230.0L1042.0 229.6L1042.5 229.3L1043.0 229.0L1043.5 228.6L1044.0 228.3L1044.5 228.0L1045.0 227.7L1045.5 227.3L1046.0 227.0L1046.5 226.7L1047.0 226.4L1047.5 226.1L1048.0 225.7L1048.5 225.4L1049.0 225.1L1049.5 224.8L1050.0 224.5L1050.5 224.2L1051.0 223.9L1051.5 223.6L1052.0 223.3L1052.5 223.0L1053.0 222.7L1053.5 222.4L1054.0 222.1L1054.5 221.8L1055.0 221.5L1055.5 221.2L1056.0 220.9L1056.5 220.6L1057.0 220.3L1057.5 220.0L1058.0 219.7L1058.5 219.4L1059.0 219.2L1059.5 218.9L1060.0 218.6L1060.5 218.3L1061.0 218.0L1061.5 217.8L1062.0 217.5L1062.5 217.2L1063.0 216.9L1063.5 216.7L1064.0 216.4L1064.5 216.1L1065.0 215.9L1065.5 215.6L1066.0 215.3L1066.5 215.1L1067.0 214.8L1067.5 214.5L1068.0 214.3L1068.5 214.0L1069.0 213.8L1069.5 213.5L1070.0 213.2L1070.5 213.0L1071.0 212.7L1071.5 212.5L1072.0 212.2L1072.5 212.0L1073.0 211.7L1073.5 211.5L1074.0 211.3L1074.5 211.0L1075.0 210.8L1075.5 210.5L1076.0 210.3L1076.5 210.1L1077.0 209.8L1077.5 209.6L1078.0 209.3L1078.5 209.1L1079.0 208.9L1079.5 208.6L1080.0 208.4L1080.5 208.2L1081.0 208.0L1081.5 207.7L1082.0 207.5L1082.5 207.3L1083.0 207.1L1083.5 206.8L1084.0 206.6L1084.5 206.4L1085.0 206.2L1085.5 206.0L1086.0 205.8L1086.5 205.5L1087.0 205.3L1087.5 205.1L1088.0 204.9L1088.5 204.7L1089.0 204.5L1089.5 204.3L1090.0 204.1L1090.5 203.9L1091.0 203.7L1091.5 203.5L1092.0 203.2L1092.5 203.0L1093.0 202.8L1093.5 202.6L1094.0 202.4L1094.5 202.3L1095.0 202.1L1095.5 201.9L1096.0 201.7L1096.5 201.5L1097.0 201.3L1097.5 201.1L1098.0 200.9L1098.5 200.7L1099.0 200.5L1099.5 200.3L1100.0 200.2L1100.5 200.0L1101.0 199.8L1101.5 199.6L1102.0 199.4L1102.5 199.2L1103.0 199.1L1103.5 198.9L1104.0 198.7L1104.5 198.5L1105.0 198.3L1105.5 198.2L1106.0 198.0L1106.5 197.8L1107.0 197.7L1107.5 197.5L1108.0 197.3L1108.5 197.1L1109.0 197.0L1109.5 196.8L1110.0 196.6L1110.5 196.5L1111.0 196.3L1111.5 196.1L1112.0 196.0L1112.5 195.8L1113.0 195.7L1113.5 195.5L1114.0 195.3L1114.5 195.2L1115.0 195.0L1115.5 194.9L1116.0 194.7L1116.5 194.5L1117.0 194.4L1117.5 194.2L1118.0 194.1L1118.5 193.9L1119.0 193.8L1119.5 193.6L1120.0 193.5L1120.5 193.3L1121.0 193.2L1121.5 193.0L1122.0 192.9L1122.5 192.7L1123.0 192.6L1123.5 192.4L1124.0 192.3L1124.5 192.2L1125.0 192.0L1125.5 191.9L1126.0 191.7L1126.5 191.6L1127.0 191.5L1127.5 191.3L1128.0 191.2L1128.5 191.0L1129.0 190.9L1129.5 190.8L1130.0 190.6L1130.5 190.5L1131.0 190.4L1131.5 190.2L1132.0 190.1L1132.5 190.0L1133.0 189.8L1133.5 189.7L1134.0 189.6L1134.5 189.5L1135.0 189.3L1135.5 189.2L1136.0 189.1L1136.5 188.9L1137.0 188.8L1137.5 188.7L1138.0 188.6L1138.5 188.4L1139.0 188.3L1139.5 188.2L1140.0 188.1L1140.5 188.0L1141.0 187.8L1141.5 187.7L1142.0 187.6L1142.5 187.5L1143.0 187.4L1143.5 187.2L1144.0 187.1L1144.5 187.0L1145.0 186.9L1145.5 186.8L1146.0 186.7L1146.5 186.5L1147.0 186.4L1147.5 186.3L1148.0 186.2L1148.5 186.1L1149.0 186.0L1149.5 185.9L1150.0 185.7L1150.5 185.6L1151.0 185.5L1151.5 185.4L1152.0 185.3L1152.5 185.2L1153.0 185.1L1153.5 185.0L1154.0 184.9L1154.5 184.8L1155.0 184.7L1155.5 184.6L1156.0 184.5L1156.5 184.3L1157.0 184.2L1157.5 184.1L1158.0 184.0L1158.5 183.9L1159.0 183.8L1159.5 183.7L1160.0 183.6L1160.5 183.5L1161.0 183.4L1161.5 183.3L1162.0 183.2L1162.5 183.1L1163.0 183.0L1163.5 182.9L1164.0 182.8L1164.5 182.7L1165.0 182.6L1165.5 182.5L1166.0 182.4L1166.5 182.3L1167.0 182.2L1167.5 182.1L1168.0 182.0L1168.5 181.9L1169.0 181.8L1169.5 181.8L1170.0 181.7L1170.5 181.6L1171.0 181.5L1171.5 181.4L1172.0 181.3L1172.5 181.2L1173.0 181.1L1173.5 181.0L1174.0 180.9L1174.5 180.8L1175.0 180.7L1175.5 180.6L1176.0 180.5L1176.5 180.4L1177.0 180.4L1177.5 180.3L1178.0 180.2L1178.5 180.1L1179.0 180.0L1179.5 179.9L1180.0 179.8L1180.5 179.7L1181.0 179.6L1181.5 179.6L1182.0 179.5L1182.5 179.4L1183.0 179.3L1183.5 179.2L1184.0 179.1L1184.5 179.0L1185.0 178.9L1185.5 178.9L1186.0 178.8L1186.5 178.7L1187.0 178.6L1187.5 178.5L1188.0 178.4L1188.5 178.4L1189.0 178.3L1189.5 178.2L1190.0 178.1L1190.5 178.0L1191.0 177.9L1191.5 177.9L1192.0 177.8L1192.5 177.7L1193.0 177.6L1193.5 177.5L1194.0 177.4L1194.5 177.4L1195.0 177.3L1195.5 177.2L1196.0 177.1L1196.5 177.1L1197.0 177.0L1197.5 176.9L1198.0 176.8L1198.5 176.7L1199.0 176.7L1199.5 176.6L1200.0 176.5L1200.5 176.4L1201.0 176.4L1201.5 176.3L1202.0 176.2L1202.5 176.1L1203.0 176.0L1203.5 176.0L1204.0 175.9L1204.5 175.8L1205.0 175.7L1205.5 175.7L1206.0 175.6L1206.5 175.5L1207.0 175.5L1207.5 175.4L1208.0 175.3L1208.5 175.2L1209.0 175.2L1209.5 175.1L1210.0 175.0L1210.5 174.9L1211.0 174.9L1211.5 174.8L1212.0 174.7L1212.5 174.7L1213.0 174.6L1213.5 174.5L1214.0 174.5L1214.5 174.4L1215.0 174.3L1215.5 174.3L1216.0 174.2L1216.5 174.1L1217.0 174.0L1217.5 174.0L1218.0 173.9L1218.5 173.8L1219.0 173.8L1219.5 173.7L1220.0 173.6L1220.5 173.6L1221.0 173.5L1221.5 173.4L1222.0 173.4L1222.5 173.3L1223.0 173.3L1223.5 173.2L1224.0 173.1L1224.5 173.1L1225.0 173.0L1225.5 172.9L1226.0 172.9L1226.5 172.8L1227.0 172.7L1227.5 172.7L1228.0 172.6L1228.5 172.6L1229.0 172.5L1229.5 172.4L1230.0 172.4L1230.5 172.3L1231.0 172.3L1231.5 172.2L1232.0 172.1L1232.5 172.1L1233.0 172.0L1233.5 172.0L1234.0 171.9L1234.5 171.8L1235.0 171.8L1235.5 171.7L1236.0 171.7L1236.5 171.6L1237.0 171.5L1237.5 171.5L1238.0 171.4L1238.5 171.4L1239.0 171.3L1239.5 171.3L1240.0 171.2L1240.5 171.1L1241.0 171.1L1241.5 171.0L1242.0 171.0L1242.5 170.9L1243.0 170.9L1243.5 170.8L1244.0 170.8L1244.5 170.7L1245.0 170.7L1245.5 170.6L1246.0 170.5L1246.5 170.5L1247.0 170.4L1247.5 170.4L1248.0 170.3L1248.5 170.3L1249.0 170.2L1249.5 170.2L1250.0 170.1L1250.5 170.1L1251.0 170.0L1251.5 170.0L1252.0 169.9L1252.5 169.9L1253.0 169.8L1253.5 169.8L1254.0 169.7L1254.5 169.7L1255.0 169.6L1255.5 169.6L1256.0 169.5L1256.5 169.5L1257.0 169.4L1257.5 169.4L1258.0 169.3L1258.5 169.3L1259.0 169.2L1259.5 169.2L1260.0 169.1L1260.5 169.1L1261.0 169.0L1261.5 169.0L1262.0 169.0L1262.5 168.9L1263.0 168.9L1263.5 168.8L1264.0 168.8L1264.5 168.7L1265.0 168.7L1265.5 168.6L1266.0 168.6L1266.5 168.5L1267.0 168.5L1267.5 168.5L1268.0 168.4L1268.5 168.4L1269.0 168.3L1269.5 168.3L1270.0 168.2L1270.5 168.2L1271.0 168.2L1271.5 168.1L1272.0 168.1L1272.5 168.0L1273.0 168.0L1273.5 167.9L1274.0 167.9L1274.5 167.9L1275.0 167.8L1275.5 167.8L1276.0 167.7L1276.5 167.7L1277.0 167.7L1277.5 167.6L1278.0 167.6L1278.5 167.5L1279.0 167.5L1279.5 167.5L1280.0 167.4L1280.5 167.4L1281.0 167.3L1281.5 167.3L1282.0 167.3L1282.5 167.2L1283.0 167.2L1283.5 167.1L1284.0 167.1L1284.5 167.1L1285.0 167.0L1285.5 167.0L1286.0 167.0L1286.5 166.9L1287.0 166.9L1287.5 166.9L1288.0 166.8L1288.5 166.8L1289.0 166.7L1289.5 166.7L1290.0 166.7L1290.5 166.6L1291.0 166.6L1291.5 166.6L1292.0 166.5L1292.5 166.5L1293.0 166.5L1293.5 166.4L1294.0 166.4L1294.5 166.4L1295.0 166.3L1295.5 166.3L1296.0 166.3L1296.5 166.2L1297.0 166.2L1297.5 166.2L1298.0 166.1L1298.5 166.1L1299.0 166.1L1299.5 166.0L1300.0 166.0L1300.5 166.0L1301.0 165.9L1301.5 165.9L1302.0 165.9L1302.5 165.8L1303.0 165.8L1303.5 165.8L1304.0 165.8L1304.5 165.7L1305.0 165.7L1305.5 165.7L1306.0 165.6L1306.5 165.6L1307.0 165.6L1307.5 165.5L1308.0 165.5L1308.5 165.5L1309.0 165.5L1309.5 165.4L1310.0 165.4L1310.5 165.4L1311.0 165.3L1311.5 165.3L1312.0 165.3L1312.5 165.3L1313.0 165.2L1313.5 165.2L1314.0 165.2L1314.5 165.1L1315.0 165.1L1315.5 165.1L1316.0 165.1L1316.5 165.0L1317.0 165.0L1317.5 165.0L1318.0 165.0L1318.5 164.9L1319.0 164.9L1319.5 164.9L1320.0 164.9L1320.5 164.8L1321.0 164.8L1321.5 164.8L1322.0 164.8L1322.5 164.7L1323.0 164.7L1323.5 164.7L1324.0 164.7L1324.5 164.6L1325.0 164.6L1325.5 164.6L1326.0 164.6L1326.5 164.5L1327.0 164.5L1327.5 164.5L1328.0 164.5L1328.5 164.4L1329.0 164.4L1329.5 164.4L1330.0 164.4L1330.5 164.3L1331.0 164.3L1331.5 164.3L1332.0 164.3L1332.5 164.3L1333.0 164.2L1333.5 164.2L1334.0 164.2L1334.5 164.2L1335.0 164.1L1335.5 164.1L1336.0 164.1L1336.5 164.1L1337.0 164.1L1337.5 164.0L1338.0 164.0L1338.5 164.0L1339.0 164.0L1339.5 164.0L1340.0 163.9L1340.5 163.9L1341.0 163.9L1341.5 163.9L1342.0 163.9L1342.5 163.8L1343.0 163.8L1343.5 163.8L1344.0 163.8L1344.5 163.8L1345.0 163.7L1345.5 163.7L1346.0 163.7L1346.5 163.7L1347.0 163.7L1347.5 163.6L1348.0 163.6L1348.5 163.6L1349.0 163.6L1349.5 163.6L1350.0 163.6L1350.5 163.5L1351.0 163.5L1351.5 163.5L1352.0 163.5L1352.5 163.5L1353.0 163.4L1353.5 163.4L1354.0 163.4L1354.5 163.4L1355.0 163.4L1355.5 163.4L1356.0 163.3L1356.5 163.3L1357.0 163.3L1357.5 163.3L1358.0 163.3L1358.5 163.3L1359.0 163.2L1359.5 163.2L1360.0 163.2L1360.5 163.2L1361.0 163.2L1361.5 163.2L1362.0 163.2L1362.5 163.1L1363.0 163.1L1363.5 163.1L1364.0 163.1L1364.5 163.1L1365.0 163.1L1365.5 163.0L1366.0 163.0L1366.5 163.0L1367.0 163.0L1367.5 163.0L1368.0 163.0L1368.5 163.0L1369.0 162.9L1369.5 162.9L1370.0 162.9L1370.5 162.9L1371.0 162.9L1371.5 162.9L1372.0 162.9L1372.5 162.8L1373.0 162.8L1373.5 162.8L1374.0 162.8L1374.5 162.8L1375.0 162.8L1375.5 162.8L1376.0 162.8L1376.5 162.7L1377.0 162.7L1377.5 162.7L1378.0 162.7L1378.5 162.7L1379.0 162.7L1379.5 162.7L1380.0 162.7L1380.5 162.6L1381.0 162.6L1381.5 162.6L1382.0 162.6L1382.5 162.6L1383.0 162.6L1383.5 162.6L1384.0 162.6L1384.5 162.5L1385.0 162.5L1385.5 162.5L1386.0 162.5L1386.5 162.5L1387.0 162.5L1387.5 162.5L1388.0 162.5L1388.5 162.4L1389.0 162.4L1389.5 162.4L1390.0 162.4L1390.5 162.4L1391.0 162.4L1391.5 162.4L1392.0 162.4L1392.5 162.4L1393.0 162.3L1393.5 162.3L1394.0 162.3L1394.5 162.3L1395.0 162.3L1395.5 162.3L1396.0 162.3L1396.5 162.3L1397.0 162.3L1397.5 162.3L1398.0 162.2L1398.5 162.2L1399.0 162.2L1399.5 162.2L1400.0 162.2L1400.5 162.2L1401.0 162.2L1401.5 162.2L1402.0 162.2L1402.5 162.2L1403.0 162.1L1403.5 162.1L1404.0 162.1L1404.5 162.1L1405.0 162.1L1405.5 162.1L1406.0 162.1L1406.5 162.1L1407.0 162.1L1407.5 162.1L1408.0 162.1L1408.5 162.0L1409.0 162.0L1409.5 162.0L1410.0 162.0L1410.5 162.0L1411.0 162.0L1411.5 162.0L1412.0 162.0L1412.5 162.0L1413.0 162.0L1413.5 162.0L1414.0 161.9L1414.5 161.9L1415.0 161.9L1415.5 161.9L1416.0 161.9L1416.5 161.9L1417.0 161.9L1417.5 161.9L1418.0 161.9L1418.5 161.9L1419.0 161.9L1419.5 161.9L1420.0 161.8L1420.5 161.8L1421.0 161.8L1421.5 161.8L1422.0 161.8L1422.5 161.8L1423.0 161.8L1423.5 161.8L1424.0 161.8L1424.5 161.8L1425.0 161.8L1425.5 161.8L1426.0 161.7L1426.5 161.7L1427.0 161.7L1427.5 161.7L1428.0 161.7L1428.5 161.7L1429.0 161.7L1429.5 161.7L1430.0 161.7L1430.5 161.7L1431.0 161.7L1431.5 161.7L1432.0 161.6L1432.5 161.6L1433.0 161.6L1433.5 161.6L1434.0 161.6L1434.5 161.6L1435.0 161.6L1435.5 161.6L1436.0 161.6L1436.5 161.6L1437.0 161.6L1437.5 161.6L1438.0 161.6L1438.5 161.5L1439.0 161.5L1439.5 161.5L1440.0 161.5L1440.5 161.5L1441.0 161.5L1441.5 161.5L1442.0 161.5L1442.5 161.5L1443.0 161.5L1443.5 161.5L1444.0 161.5L1444.5 161.5L1445.0 161.4L1445.5 161.4L1446.0 161.4L1446.5 161.4L1447.0 161.4L1447.5 161.4L1448.0 161.4L1448.5 161.4L1449.0 161.4L1449.5 161.4L1450.0 161.4L1450.5 161.4L1451.0 161.4L1451.5 161.3L1452.0 161.3L1452.5 161.3L1453.0 161.3L1453.5 161.3L1454.0 161.3L1454.5 161.3L1455.0 161.3L1455.5 161.3L1456.0 161.3L1456.5 161.3L1457.0 161.3L1457.5 161.3L1458.0 161.2L1458.5 161.2L1459.0 161.2L1459.5 161.2L1460.0 161.2L1460.5 161.2L1461.0 161.2L1461.5 161.2L1462.0 161.2L1462.5 161.2L1463.0 161.2L1463.5 161.2L1464.0 161.2L1464.5 161.1L1465.0 161.1L1465.5 161.1L1466.0 161.1L1466.5 161.1L1467.0 161.1L1467.5 161.1L1468.0 161.1L1468.5 161.1L1469.0 161.1L1469.5 161.1L1470.0 161.1L1470.5 161.0L1471.0 161.0L1471.5 161.0L1472.0 161.0L1472.5 161.0L1473.0 161.0L1473.5 161.0L1474.0 161.0L1474.5 161.0L1475.0 161.0L1475.5 161.0L1476.0 161.0L1476.5 160.9L1477.0 160.9L1477.5 160.9L1478.0 160.9L1478.5 160.9L1479.0 160.9L1479.5 160.9L1480.0 160.9L1480.5 160.9L1481.0 160.9L1481.5 160.9L1482.0 160.8L1482.5 160.8L1483.0 160.8L1483.5 160.8L1484.0 160.8L1484.5 160.8L1485.0 160.8L1485.5 160.8L1486.0 160.8L1486.5 160.8L1487.0 160.7L1487.5 160.7L1488.0 160.7L1488.5 160.7L1489.0 160.7L1489.5 160.7L1490.0 160.7L1490.5 160.7L1491.0 160.7L1491.5 160.7L1492.0 160.6L1492.5 160.6L1493.0 160.6L1493.5 160.6L1494.0 160.6L1494.5 160.6L1495.0 160.6L1495.0 191.0L1494.5 191.0L1494.0 191.0L1493.5 191.0L1493.0 190.9L1492.5 190.9L1492.0 190.9L1491.5 190.9L1491.0 190.9L1490.5 190.9L1490.0 190.9L1489.5 190.9L1489.0 190.9L1488.5 190.9L1488.0 190.9L1487.5 190.9L1487.0 190.9L1486.5 190.9L1486.0 190.9L1485.5 190.8L1485.0 190.8L1484.5 190.8L1484.0 190.8L1483.5 190.8L1483.0 190.8L1482.5 190.8L1482.0 190.8L1481.5 190.8L1481.0 190.8L1480.5 190.8L1480.0 190.8L1479.5 190.8L1479.0 190.8L1478.5 190.8L1478.0 190.8L1477.5 190.8L1477.0 190.8L1476.5 190.8L1476.0 190.8L1475.5 190.8L1475.0 190.8L1474.5 190.8L1474.0 190.8L1473.5 190.8L1473.0 190.8L1472.5 190.8L1472.0 190.8L1471.5 190.8L1471.0 190.8L1470.5 190.8L1470.0 190.8L1469.5 190.8L1469.0 190.8L1468.5 190.8L1468.0 190.8L1467.5 190.8L1467.0 190.8L1466.5 190.8L1466.0 190.8L1465.5 190.8L1465.0 190.8L1464.5 190.8L1464.0 190.8L1463.5 190.8L1463.0 190.8L1462.5 190.8L1462.0 190.8L1461.5 190.8L1461.0 190.8L1460.5 190.8L1460.0 190.8L1459.5 190.9L1459.0 190.9L1458.5 190.9L1458.0 190.9L1457.5 190.9L1457.0 190.9L1456.5 190.9L1456.0 190.9L1455.5 190.9L1455.0 190.9L1454.5 190.9L1454.0 190.9L1453.5 190.9L1453.0 191.0L1452.5 191.0L1452.0 191.0L1451.5 191.0L1451.0 191.0L1450.5 191.0L1450.0 191.0L1449.5 191.0L1449.0 191.0L1448.5 191.0L1448.0 191.1L1447.5 191.1L1447.0 191.1L1446.5 191.1L1446.0 191.1L1445.5 191.1L1445.0 191.1L1444.5 191.1L1444.0 191.2L1443.5 191.2L1443.0 191.2L1442.5 191.2L1442.0 191.2L1441.5 191.2L1441.0 191.2L1440.5 191.3L1440.0 191.3L1439.5 191.3L1439.0 191.3L1438.5 191.3L1438.0 191.3L1437.5 191.4L1437.0 191.4L1436.5 191.4L1436.0 191.4L1435.5 191.4L1435.0 191.4L1434.5 191.5L1434.0 191.5L1433.5 191.5L1433.0 191.5L1432.5 191.5L1432.0 191.6L1431.5 191.6L1431.0 191.6L1430.5 191.6L1430.0 191.6L1429.5 191.7L1429.0 191.7L1428.5 191.7L1428.0 191.7L1427.5 191.8L1427.0 191.8L1426.5 191.8L1426.0 191.8L1425.5 191.8L1425.0 191.9L1424.5 191.9L1424.0 191.9L1423.5 191.9L1423.0 192.0L1422.5 192.0L1422.0 192.0L1421.5 192.0L1421.0 192.1L1420.5 192.1L1420.0 192.1L1419.5 192.2L1419.0 192.2L1418.5 192.2L1418.0 192.2L1417.5 192.3L1417.0 192.3L1416.5 192.3L1416.0 192.4L1415.5 192.4L1415.0 192.4L1414.5 192.4L1414.0 192.5L1413.5 192.5L1413.0 192.5L1412.5 192.6L1412.0 192.6L1411.5 192.6L1411.0 192.7L1410.5 192.7L1410.0 192.7L1409.5 192.8L1409.0 192.8L1408.5 192.8L1408.0 192.9L1407.5 192.9L1407.0 192.9L1406.5 193.0L1406.0 193.0L1405.5 193.0L1405.0 193.1L1404.5 193.1L1404.0 193.1L1403.5 193.2L1403.0 193.2L1402.5 193.3L1402.0 193.3L1401.5 193.3L1401.0 193.4L1400.5 193.4L1400.0 193.5L1399.5 193.5L1399.0 193.5L1398.5 193.6L1398.0 193.6L1397.5 193.7L1397.0 193.7L1396.5 193.7L1396.0 193.8L1395.5 193.8L1395.0 193.9L1394.5 193.9L1394.0 193.9L1393.5 194.0L1393.0 194.0L1392.5 194.1L1392.0 194.1L1391.5 194.2L1391.0 194.2L1390.5 194.3L1390.0 194.3L1389.5 194.3L1389.0 194.4L1388.5 194.4L1388.0 194.5L1387.5 194.5L1387.0 194.6L1386.5 194.6L1386.0 194.7L1385.5 194.7L1385.0 194.8L1384.5 194.8L1384.0 194.9L1383.5 194.9L1383.0 195.0L1382.5 195.0L1382.0 195.1L1381.5 195.1L1381.0 195.2L1380.5 195.2L1380.0 195.3L1379.5 195.3L1379.0 195.4L1378.5 195.4L1378.0 195.5L1377.5 195.6L1377.0 195.6L1376.5 195.7L1376.0 195.7L1375.5 195.8L1375.0 195.8L1374.5 195.9L1374.0 195.9L1373.5 196.0L1373.0 196.1L1372.5 196.1L1372.0 196.2L1371.5 196.2L1371.0 196.3L1370.5 196.3L1370.0 196.4L1369.5 196.5L1369.0 196.5L1368.5 196.6L1368.0 196.7L1367.5 196.7L1367.0 196.8L1366.5 196.8L1366.0 196.9L1365.5 197.0L1365.0 197.0L1364.5 197.1L1364.0 197.2L1363.5 197.2L1363.0 197.3L1362.5 197.3L1362.0 197.4L1361.5 197.5L1361.0 197.5L1360.5 197.6L1360.0 197.7L1359.5 197.7L1359.0 197.8L1358.5 197.9L1358.0 197.9L1357.5 198.0L1357.0 198.1L1356.5 198.2L1356.0 198.2L1355.5 198.3L1355.0 198.4L1354.5 198.4L1354.0 198.5L1353.5 198.6L1353.0 198.7L1352.5 198.7L1352.0 198.8L1351.5 198.9L1351.0 198.9L1350.5 199.0L1350.0 199.1L1349.5 199.2L1349.0 199.2L1348.5 199.3L1348.0 199.4L1347.5 199.5L1347.0 199.5L1346.5 199.6L1346.0 199.7L1345.5 199.8L1345.0 199.9L1344.5 199.9L1344.0 200.0L1343.5 200.1L1343.0 200.2L1342.5 200.3L1342.0 200.3L1341.5 200.4L1341.0 200.5L1340.5 200.6L1340.0 200.7L1339.5 200.7L1339.0 200.8L1338.5 200.9L1338.0 201.0L1337.5 201.1L1337.0 201.2L1336.5 201.3L1336.0 201.3L1335.5 201.4L1335.0 201.5L1334.5 201.6L1334.0 201.7L1333.5 201.8L1333.0 201.9L1332.5 201.9L1332.0 202.0L1331.5 202.1L1331.0 202.2L1330.5 202.3L1330.0 202.4L1329.5 202.5L1329.0 202.6L1328.5 202.7L1328.0 202.8L1327.5 202.9L1327.0 202.9L1326.5 203.0L1326.0 203.1L1325.5 203.2L1325.0 203.3L1324.5 203.4L1324.0 203.5L1323.5 203.6L1323.0 203.7L1322.5 203.8L1322.0 203.9L1321.5 204.0L1321.0 204.1L1320.5 204.2L1320.0 204.3L1319.5 204.4L1319.0 204.5L1318.5 204.6L1318.0 204.7L1317.5 204.8L1317.0 204.9L1316.5 205.0L1316.0 205.1L1315.5 205.2L1315.0 205.3L1314.5 205.4L1314.0 205.5L1313.5 205.6L1313.0 205.7L1312.5 205.8L1312.0 205.9L1311.5 206.0L1311.0 206.2L1310.5 206.3L1310.0 206.4L1309.5 206.5L1309.0 206.6L1308.5 206.7L1308.0 206.8L1307.5 206.9L1307.0 207.0L1306.5 207.1L1306.0 207.2L1305.5 207.4L1305.0 207.5L1304.5 207.6L1304.0 207.7L1303.5 207.8L1303.0 207.9L1302.5 208.0L1302.0 208.2L1301.5 208.3L1301.0 208.4L1300.5 208.5L1300.0 208.6L1299.5 208.7L1299.0 208.8L1298.5 209.0L1298.0 209.1L1297.5 209.2L1297.0 209.3L1296.5 209.4L1296.0 209.6L1295.5 209.7L1295.0 209.8L1294.5 209.9L1294.0 210.1L1293.5 210.2L1293.0 210.3L1292.5 210.4L1292.0 210.5L1291.5 210.7L1291.0 210.8L1290.5 210.9L1290.0 211.0L1289.5 211.2L1289.0 211.3L1288.5 211.4L1288.0 211.6L1287.5 211.7L1287.0 211.8L1286.5 211.9L1286.0 212.1L1285.5 212.2L1285.0 212.3L1284.5 212.5L1284.0 212.6L1283.5 212.7L1283.0 212.9L1282.5 213.0L1282.0 213.1L1281.5 213.3L1281.0 213.4L1280.5 213.5L1280.0 213.7L1279.5 213.8L1279.0 213.9L1278.5 214.1L1278.0 214.2L1277.5 214.3L1277.0 214.5L1276.5 214.6L1276.0 214.8L1275.5 214.9L1275.0 215.0L1274.5 215.2L1274.0 215.3L1273.5 215.5L1273.0 215.6L1272.5 215.8L1272.0 215.9L1271.5 216.0L1271.0 216.2L1270.5 216.3L1270.0 216.5L1269.5 216.6L1269.0 216.8L1268.5 216.9L1268.0 217.1L1267.5 217.2L1267.0 217.4L1266.5 217.5L1266.0 217.7L1265.5 217.8L1265.0 218.0L1264.5 218.1L1264.0 218.3L1263.5 218.4L1263.0 218.6L1262.5 218.7L1262.0 218.9L1261.5 219.0L1261.0 219.2L1260.5 219.3L1260.0 219.5L1259.5 219.6L1259.0 219.8L1258.5 220.0L1258.0 220.1L1257.5 220.3L1257.0 220.4L1256.5 220.6L1256.0 220.7L1255.5 220.9L1255.0 221.1L1254.5 221.2L1254.0 221.4L1253.5 221.5L1253.0 221.7L1252.5 221.9L1252.0 222.0L1251.5 222.2L1251.0 222.4L1250.5 222.5L1250.0 222.7L1249.5 222.9L1249.0 223.0L1248.5 223.2L1248.0 223.4L1247.5 223.5L1247.0 223.7L1246.5 223.9L1246.0 224.0L1245.5 224.2L1245.0 224.4L1244.5 224.6L1244.0 224.7L1243.5 224.9L1243.0 225.1L1242.5 225.2L1242.0 225.4L1241.5 225.6L1241.0 225.8L1240.5 225.9L1240.0 226.1L1239.5 226.3L1239.0 226.5L1238.5 226.7L1238.0 226.8L1237.5 227.0L1237.0 227.2L1236.5 227.4L1236.0 227.5L1235.5 227.7L1235.0 227.9L1234.5 228.1L1234.0 228.3L1233.5 228.5L1233.0 228.6L1232.5 228.8L1232.0 229.0L1231.5 229.2L1231.0 229.4L1230.5 229.6L1230.0 229.8L1229.5 229.9L1229.0 230.1L1228.5 230.3L1228.0 230.5L1227.5 230.7L1227.0 230.9L1226.5 231.1L1226.0 231.3L1225.5 231.5L1225.0 231.7L1224.5 231.9L1224.0 232.0L1223.5 232.2L1223.0 232.4L1222.5 232.6L1222.0 232.8L1221.5 233.0L1221.0 233.2L1220.5 233.4L1220.0 233.6L1219.5 233.8L1219.0 234.0L1218.5 234.2L1218.0 234.4L1217.5 234.6L1217.0 234.8L1216.5 235.0L1216.0 235.2L1215.5 235.4L1215.0 235.6L1214.5 235.8L1214.0 236.0L1213.5 236.2L1213.0 236.5L1212.5 236.7L1212.0 236.9L1211.5 237.1L1211.0 237.3L1210.5 237.5L1210.0 237.7L1209.5 237.9L1209.0 238.1L1208.5 238.3L1208.0 238.5L1207.5 238.8L1207.0 239.0L1206.5 239.2L1206.0 239.4L1205.5 239.6L1205.0 239.8L1204.5 240.0L1204.0 240.3L1203.5 240.5L1203.0 240.7L1202.5 240.9L1202.0 241.1L1201.5 241.4L1201.0 241.6L1200.5 241.8L1200.0 242.0L1199.5 242.2L1199.0 242.5L1198.5 242.7L1198.0 242.9L1197.5 243.1L1197.0 243.4L1196.5 243.6L1196.0 243.8L1195.5 244.0L1195.0 244.3L1194.5 244.5L1194.0 244.7L1193.5 245.0L1193.0 245.2L1192.5 245.4L1192.0 245.6L1191.5 245.9L1191.0 246.1L1190.5 246.3L1190.0 246.6L1189.5 246.8L1189.0 247.0L1188.5 247.3L1188.0 247.5L1187.5 247.8L1187.0 248.0L1186.5 248.2L1186.0 248.5L1185.5 248.7L1185.0 248.9L1184.5 249.2L1184.0 249.4L1183.5 249.7L1183.0 249.9L1182.5 250.1L1182.0 250.4L1181.5 250.6L1181.0 250.9L1180.5 251.1L1180.0 251.4L1179.5 251.6L1179.0 251.9L1178.5 252.1L1178.0 252.4L1177.5 252.6L1177.0 252.9L1176.5 253.1L1176.0 253.4L1175.5 253.6L1175.0 253.9L1174.5 254.1L1174.0 254.4L1173.5 254.6L1173.0 254.9L1172.5 255.1L1172.0 255.4L1171.5 255.6L1171.0 255.9L1170.5 256.2L1170.0 256.4L1169.5 256.7L1169.0 256.9L1168.5 257.2L1168.0 257.5L1167.5 257.7L1167.0 258.0L1166.5 258.2L1166.0 258.5L1165.5 258.8L1165.0 259.0L1164.5 259.3L1164.0 259.6L1163.5 259.8L1163.0 260.1L1162.5 260.4L1162.0 260.6L1161.5 260.9L1161.0 261.2L1160.5 261.4L1160.0 261.7L1159.5 262.0L1159.0 262.3L1158.5 262.5L1158.0 262.8L1157.5 263.1L1157.0 263.4L1156.5 263.6L1156.0 263.9L1155.5 264.2L1155.0 264.5L1154.5 264.7L1154.0 265.0L1153.5 265.3L1153.0 265.6L1152.5 265.9L1152.0 266.1L1151.5 266.4L1151.0 266.7L1150.5 267.0L1150.0 267.3L1149.5 267.6L1149.0 267.8L1148.5 268.1L1148.0 268.4L1147.5 268.7L1147.0 269.0L1146.5 269.3L1146.0 269.6L1145.5 269.9L1145.0 270.1L1144.5 270.4L1144.0 270.7L1143.5 271.0L1143.0 271.3L1142.5 271.6L1142.0 271.9L1141.5 272.2L1141.0 272.5L1140.5 272.8L1140.0 273.1L1139.5 273.4L1139.0 273.7L1138.5 274.0L1138.0 274.3L1137.5 274.6L1137.0 274.9L1136.5 275.2L1136.0 275.5L1135.5 275.8L1135.0 276.1L1134.5 276.4L1134.0 276.7L1133.5 277.0L1133.0 277.3L1132.5 277.6L1132.0 277.9L1131.5 278.2L1131.0 278.6L1130.5 278.9L1130.0 279.2L1129.5 279.5L1129.0 279.8L1128.5 280.1L1128.0 280.4L1127.5 280.7L1127.0 281.1L1126.5 281.4L1126.0 281.7L1125.5 282.0L1125.0 282.3L1124.5 282.6L1124.0 283.0L1123.5 283.3L1123.0 283.6L1122.5 283.9L1122.0 284.2L1121.5 284.6L1121.0 284.9L1120.5 285.2L1120.0 285.5L1119.5 285.9L1119.0 286.2L1118.5 286.5L1118.0 286.8L1117.5 287.2L1117.0 287.5L1116.5 287.8L1116.0 288.2L1115.5 288.5L1115.0 288.8L1114.5 289.2L1114.0 289.5L1113.5 289.8L1113.0 290.2L1112.5 290.5L1112.0 290.8L1111.5 291.2L1111.0 291.5L1110.5 291.8L1110.0 292.2L1109.5 292.5L1109.0 292.9L1108.5 293.2L1108.0 293.5L1107.5 293.9L1107.0 294.2L1106.5 294.6L1106.0 294.9L1105.5 295.3L1105.0 295.6L1104.5 296.0L1104.0 296.3L1103.5 296.7L1103.0 297.0L1102.5 297.4L1102.0 297.7L1101.5 298.1L1101.0 298.4L1100.5 298.8L1100.0 299.1L1099.5 299.5L1099.0 299.8L1098.5 300.2L1098.0 300.5L1097.5 300.9L1097.0 301.3L1096.5 301.6L1096.0 302.0L1095.5 302.3L1095.0 302.7L1094.5 303.1L1094.0 303.4L1093.5 303.8L1093.0 304.1L1092.5 304.5L1092.0 304.9L1091.5 305.2L1091.0 305.6L1090.5 306.0L1090.0 306.3L1089.5 306.7L1089.0 307.1L1088.5 307.4L1088.0 307.8L1087.5 308.2L1087.0 308.6L1086.5 308.9L1086.0 309.3L1085.5 309.7L1085.0 310.1L1084.5 310.4L1084.0 310.8L1083.5 311.2L1083.0 311.6L1082.5 311.9L1082.0 312.3L1081.5 312.7L1081.0 313.1L1080.5 313.5L1080.0 313.9L1079.5 314.2L1079.0 314.6L1078.5 315.0L1078.0 315.4L1077.5 315.8L1077.0 316.2L1076.5 316.6L1076.0 316.9L1075.5 317.3L1075.0 317.7L1074.5 318.1L1074.0 318.5L1073.5 318.9L1073.0 319.3L1072.5 319.7L1072.0 320.1L1071.5 320.5L1071.0 320.9L1070.5 321.3L1070.0 321.7L1069.5 322.1L1069.0 322.5L1068.5 322.9L1068.0 323.3L1067.5 323.7L1067.0 324.1L1066.5 324.5L1066.0 324.9L1065.5 325.3L1065.0 325.7L1064.5 326.1L1064.0 326.5L1063.5 326.9L1063.0 327.3L1062.5 327.7L1062.0 328.1L1061.5 328.5L1061.0 329.0L1060.5 329.4L1060.0 329.8L1059.5 330.2L1059.0 330.6L1058.5 331.0L1058.0 331.4L1057.5 331.8L1057.0 332.3L1056.5 332.7L1056.0 333.1L1055.5 333.5L1055.0 333.9L1054.5 334.4L1054.0 334.8L1053.5 335.2L1053.0 335.6L1052.5 336.0L1052.0 336.5L1051.5 336.9L1051.0 337.3L1050.5 337.7L1050.0 338.2L1049.5 338.6L1049.0 339.0L1048.5 339.4L1048.0 339.9L1047.5 340.3L1047.0 340.7L1046.5 341.1L1046.0 341.6L1045.5 342.0L1045.0 342.4L1044.5 342.9L1044.0 343.3L1043.5 343.7L1043.0 344.2L1042.5 344.6L1042.0 345.0L1041.5 345.5L1041.0 345.9L1040.5 346.3L1040.0 346.8L1039.5 347.2L1039.0 347.6L1038.5 348.1L1038.0 348.5L1037.5 349.0L1037.0 349.4L1036.5 349.8L1036.0 350.3L1035.5 350.7L1035.0 351.2L1034.5 351.6L1034.0 352.0L1033.5 352.5L1033.0 352.9L1032.5 353.4L1032.0 353.8L1031.5 354.3L1031.0 354.7L1030.5 355.2L1030.0 355.6L1029.5 356.1L1029.0 356.5L1028.5 356.9L1028.0 357.4L1027.5 357.8L1027.0 358.3L1026.5 358.7L1026.0 359.2L1025.5 359.6L1025.0 360.1L1024.5 360.6L1024.0 361.0L1023.5 361.5L1023.0 361.9L1022.5 362.4L1022.0 362.8L1021.5 363.3L1021.0 363.7L1020.5 364.2L1020.0 364.6L1019.5 365.1L1019.0 365.6L1018.5 366.0L1018.0 366.5L1017.5 366.9L1017.0 367.4L1016.5 367.9L1016.0 368.3L1015.5 368.8L1015.0 369.2L1014.5 369.7L1014.0 370.2L1013.5 370.6L1013.0 371.1L1012.5 371.5L1012.0 372.0L1011.5 372.5L1011.0 372.9L1010.5 373.4L1010.0 373.9L1009.5 374.3L1009.0 374.8L1008.5 375.3L1008.0 375.7L1007.5 376.2L1007.0 376.7L1006.5 377.1L1006.0 377.6L1005.5 378.1L1005.0 378.5L1004.5 379.0L1004.0 379.5L1003.5 380.0L1003.0 380.4L1002.5 380.9L1002.0 381.4L1001.5 381.8L1001.0 382.3L1000.5 382.8L1000.0 383.3L999.5 383.7L999.0 384.2L998.5 384.7L998.0 385.2L997.5 385.6L997.0 386.1L996.5 386.6L996.0 387.1L995.5 387.5L995.0 388.0L994.5 388.5L994.0 389.0L993.5 389.4L993.0 389.9L992.5 390.4L992.0 390.9L991.5 391.4L991.0 391.8L990.5 392.3L990.0 392.8L989.5 393.3L989.0 393.7L988.5 394.2L988.0 394.7L987.5 395.2L987.0 395.7L986.5 396.2L986.0 396.6L985.5 397.1L985.0 397.6L984.5 398.1L984.0 398.6L983.5 399.0L983.0 399.5L982.5 400.0L982.0 400.5L981.5 401.0L981.0 401.5L980.5 402.0L980.0 402.4L979.5 402.9L979.0 403.4L978.5 403.9L978.0 404.4L977.5 404.9L977.0 405.4L976.5 405.8L976.0 406.3L975.5 406.8L975.0 407.3L974.5 407.8L974.0 408.3L973.5 408.8L973.0 409.3L972.5 409.7L972.0 410.2L971.5 410.7L971.0 411.2L970.5 411.7L970.0 412.2L969.5 412.7L969.0 413.2L968.5 413.7L968.0 414.2L967.5 414.6L967.0 415.1L966.5 415.6L966.0 416.1L965.5 416.6L965.0 417.1L964.5 417.6L964.0 418.1L963.5 418.6L963.0 419.1L962.5 419.6L962.0 420.1L961.5 420.5L961.0 421.0L960.5 421.5L960.0 422.0L959.5 422.5L959.0 423.0L958.5 423.5L958.0 424.0L957.5 424.5L957.0 425.0L956.5 425.5L956.0 426.0L955.5 426.5L955.0 427.0L954.5 427.5L954.0 428.0L953.5 428.4L953.0 428.9L952.5 429.4L952.0 429.9L951.5 430.4L951.0 430.9L950.5 431.4L950.0 431.9L949.5 432.4L949.0 432.9L948.5 433.4L948.0 433.9L947.5 434.4L947.0 434.9L946.5 435.4L946.0 435.9L945.5 436.4L945.0 436.9L944.5 437.4L944.0 437.9L943.5 438.4L943.0 438.9L942.5 439.4L942.0 439.9L941.5 440.4L941.0 440.9L940.5 441.3L940.0 441.8L939.5 442.3L939.0 442.8L938.5 443.3L938.0 443.8L937.5 444.3L937.0 444.8L936.5 445.3L936.0 445.8L935.5 446.3L935.0 446.8L934.5 447.3L934.0 447.8L933.5 448.3L933.0 448.8L932.5 449.3L932.0 449.8L931.5 450.3L931.0 450.8L930.5 451.3L930.0 451.8L929.5 452.3L929.0 452.8L928.5 453.3L928.0 453.8L927.5 454.3L927.0 454.8L926.5 455.3L926.0 455.8L925.5 456.3L925.0 456.8L924.5 457.3L924.0 457.8L923.5 458.3L923.0 458.8L922.5 459.3L922.0 459.8L921.5 460.3L921.0 460.7L920.5 461.2L920.0 461.7L919.5 462.2L919.0 462.7L918.5 463.2L918.0 463.7L917.5 464.2L917.0 464.7L916.5 465.2L916.0 465.7L915.5 466.2L915.0 466.7L914.5 467.2L914.0 467.7L913.5 468.2L913.0 468.7L912.5 469.2L912.0 469.7L911.5 470.2L911.0 470.7L910.5 471.2L910.0 471.7L909.5 472.2L909.0 472.7L908.5 473.2L908.0 473.6L907.5 474.1L907.0 474.6L906.5 475.1L906.0 475.6L905.5 476.1L905.0 476.6L904.5 477.1L904.0 477.6L903.5 478.1L903.0 478.6L902.5 479.1L902.0 479.6L901.5 480.1L901.0 480.6L900.5 481.1L900.0 481.5L899.5 482.0L899.0 482.5L898.5 483.0L898.0 483.5L897.5 484.0L897.0 484.5L896.5 485.0L896.0 485.5L895.5 486.0L895.0 486.5L894.5 487.0L894.0 487.4L893.5 487.9L893.0 488.4L892.5 488.9L892.0 489.4L891.5 489.9L891.0 490.4L890.5 490.9L890.0 491.4L889.5 491.9L889.0 492.3L888.5 492.8L888.0 493.3L887.5 493.8L887.0 494.3L886.5 494.8L886.0 495.3L885.5 495.8L885.0 496.2L884.5 496.7L884.0 497.2L883.5 497.7L883.0 498.2L882.5 498.7L882.0 499.2L881.5 499.6L881.0 500.1L880.5 500.6L880.0 501.1L879.5 501.6L879.0 502.1L878.5 502.6L878.0 503.0L877.5 503.5L877.0 504.0L876.5 504.5L876.0 505.0L875.5 505.4L875.0 505.9L874.5 506.4L874.0 506.9L873.5 507.4L873.0 507.9L872.5 508.3L872.0 508.8L871.5 509.3L871.0 509.8L870.5 510.3L870.0 511.5L869.5 514.6L869.0 516.4L868.5 516.4L868.0 516.4L867.5 516.4L867.0 516.4L866.5 516.4L866.0 516.4L865.5 516.4L865.0 516.4L864.5 516.4L864.0 516.4L863.5 516.4L863.0 516.4L862.5 516.4L862.0 516.4L861.5 516.4L861.0 516.4L860.5 516.4L860.0 516.4L859.5 516.4L859.0 516.4L858.5 516.4L858.0 516.4L857.5 516.4L857.0 516.4L856.5 516.4L856.0 516.4L855.5 516.4L855.0 516.4L854.5 516.4L854.0 516.4L853.5 516.4L853.0 516.4L852.5 516.4L852.0 516.4L851.5 516.4L851.0 516.4L850.5 516.4L850.0 516.4L849.5 516.4L849.0 516.4L848.5 516.4L848.0 516.4L847.5 511.0L847.0 494.0L846.5 462.7L846.0 424.3L845.5 381.7L845.0 336.1L844.5 316.4L844.0 287.4L843.5 186.3L843.0 160.0L842.5 160.0L842.0 160.0L841.5 160.0L841.0 160.0L840.5 160.0L840.0 160.0Z" fill="#bcbec0"/>
<rect x="843.1" y="137" width="4.5" height="40" fill="#bcbec0"/>
<line x1="48.6" y1="159.45" x2="136" y2="159.45" stroke="#231f20" stroke-width="2.8" stroke-linecap="round" stroke-dasharray="12.1 12.0"/>
<line x1="843.6" y1="156.5" x2="1499" y2="156.5" stroke="#231f20" stroke-width="2.7" stroke-linecap="round" stroke-dasharray="11.9 12.15"/>
<path d="M2.2 134.9H34.5V98.2H50.7V134.9H726" fill="none" stroke="#000" stroke-width="4.9" stroke-linejoin="round" stroke-linecap="round"/>
<path d="M771.2 134.9H846.5V98H1496.3" fill="none" stroke="#000" stroke-width="4.9" stroke-linejoin="round" stroke-linecap="round"/>
<path d="M2.0 158.5L3.0 158.5L4.0 158.5L5.0 158.5L6.0 158.5L7.0 158.5L8.0 158.5L9.0 158.5L10.0 158.5L11.0 158.5L12.0 158.5L13.0 158.5L14.0 158.5L15.0 158.5L16.0 158.5L17.0 158.5L18.0 158.5L19.0 158.5L20.0 158.5L21.0 158.5L22.0 158.5L23.0 158.5L24.0 158.5L25.0 158.5L26.0 158.5L27.0 158.5L28.0 158.5L29.0 158.5L30.0 158.5L31.0 158.5L32.0 158.5L33.0 158.5L34.0 158.5L35.0 158.5L36.0 158.5L37.0 158.5L38.0 163.7L39.0 206.5L40.0 285.1L41.0 370.0L42.0 420.0L43.0 465.6L44.0 475.2L45.0 481.5L46.0 486.0L47.0 490.5L48.0 495.3L49.0 499.2L50.0 501.4L51.0 503.0L52.0 504.0L53.0 504.6L54.0 505.1L55.0 505.4L56.0 505.5L57.0 505.2L58.0 504.4L59.0 503.5L60.0 502.6L61.0 501.5L62.0 499.1L63.0 494.5L64.0 489.4L65.0 483.8L66.0 478.0L67.0 472.3L68.0 466.7L69.0 461.4L70.0 456.3L71.0 451.3L72.0 446.4L73.0 441.4L74.0 436.3L75.0 431.0L76.0 425.7L77.0 420.4L78.0 414.9L79.0 409.5L80.0 404.1L81.0 398.6L82.0 393.2L83.0 387.9L84.0 382.6L85.0 377.5L86.0 372.4L87.0 367.5L88.0 362.8L89.0 358.2L90.0 353.7L91.0 349.4L92.0 345.2L93.0 341.1L94.0 337.1L95.0 333.3L96.0 329.6L97.0 325.9L98.0 322.4L99.0 319.0L100.0 315.7L101.0 312.5L102.0 309.3L103.0 306.3L104.0 303.3L105.0 300.4L106.0 297.6L107.0 294.8L108.0 292.1L109.0 289.5L110.0 286.9L111.0 284.4L112.0 281.9L113.0 279.5L114.0 277.1L115.0 274.8L116.0 272.4L117.0 270.2L118.0 267.9L119.0 265.7L120.0 263.6L121.0 261.5L122.0 259.4L123.0 257.3L124.0 255.3L125.0 253.3L126.0 251.4L127.0 249.5L128.0 247.6L129.0 245.8L130.0 244.0L131.0 242.3L132.0 240.5L133.0 238.8L134.0 237.2L135.0 235.6L136.0 234.0L137.0 232.4L138.0 230.9L139.0 229.4L140.0 227.9L141.0 226.5L142.0 225.1L143.0 223.7L144.0 222.4L145.0 221.1L146.0 219.8L147.0 218.5L148.0 217.3L149.0 216.1L150.0 214.9L151.0 213.8L152.0 212.6L153.0 211.6L154.0 210.5L155.0 209.4L156.0 208.4L157.0 207.4L158.0 206.4L159.0 205.5L160.0 204.6L161.0 203.7L162.0 202.8L163.0 201.9L164.0 201.1L165.0 200.2L166.0 199.4L167.0 198.7L168.0 197.9L169.0 197.1L170.0 196.4L171.0 195.7L172.0 195.0L173.0 194.3L174.0 193.7L175.0 193.0L176.0 192.4L177.0 191.8L178.0 191.2L179.0 190.6L180.0 190.0L181.0 189.5L182.0 188.9L183.0 188.4L184.0 187.9L185.0 187.4L186.0 186.9L187.0 186.4L188.0 185.9L189.0 185.4L190.0 185.0L191.0 184.5L192.0 184.1L193.0 183.6L194.0 183.2L195.0 182.8L196.0 182.4L197.0 182.0L198.0 181.6L199.0 181.2L200.0 180.8L201.0 180.4L202.0 180.0L203.0 179.6L204.0 179.3L205.0 178.9L206.0 178.6L207.0 178.2L208.0 177.9L209.0 177.6L210.0 177.2L211.0 176.9L212.0 176.6L213.0 176.3L214.0 176.0L215.0 175.7L216.0 175.4L217.0 175.1L218.0 174.8L219.0 174.5L220.0 174.3L221.0 174.0L222.0 173.8L223.0 173.5L224.0 173.3L225.0 173.0L226.0 172.8L227.0 172.5L228.0 172.3L229.0 172.1L230.0 171.9L231.0 171.6L232.0 171.4L233.0 171.2L234.0 171.0L235.0 170.8L236.0 170.6L237.0 170.4L238.0 170.3L239.0 170.1L240.0 169.9L241.0 169.7L242.0 169.6L243.0 169.4L244.0 169.2L245.0 169.1L246.0 168.9L247.0 168.8L248.0 168.6L249.0 168.5L250.0 168.4L251.0 168.2L252.0 168.1L253.0 168.0L254.0 167.8L255.0 167.7L256.0 167.6L257.0 167.5L258.0 167.4L259.0 167.3L260.0 167.2L261.0 167.1L262.0 167.0L263.0 166.9L264.0 166.8L265.0 166.7L266.0 166.6L267.0 166.5L268.0 166.4L269.0 166.3L270.0 166.3L271.0 166.2L272.0 166.1L273.0 166.0L274.0 166.0L275.0 165.9L276.0 165.8L277.0 165.8L278.0 165.7L279.0 165.6L280.0 165.6L281.0 165.5L282.0 165.5L283.0 165.4L284.0 165.4L285.0 165.3L286.0 165.3L287.0 165.2L288.0 165.2L289.0 165.1L290.0 165.1L291.0 165.0L292.0 165.0L293.0 165.0L294.0 164.9L295.0 164.9L296.0 164.8L297.0 164.8L298.0 164.8L299.0 164.7L300.0 164.7L301.0 164.6L302.0 164.6L303.0 164.6L304.0 164.5L305.0 164.5L306.0 164.5L307.0 164.4L308.0 164.4L309.0 164.4L310.0 164.3L311.0 164.3L312.0 164.3L313.0 164.2L314.0 164.2L315.0 164.2L316.0 164.1L317.0 164.1L318.0 164.1L319.0 164.0L320.0 164.0L321.0 164.0L322.0 163.9L323.0 163.9L324.0 163.9L325.0 163.9L326.0 163.8L327.0 163.8L328.0 163.8L329.0 163.7L330.0 163.7L331.0 163.7L332.0 163.6L333.0 163.6L334.0 163.6L335.0 163.5L336.0 163.5L337.0 163.5L338.0 163.5L339.0 163.4L340.0 163.4L341.0 163.4L342.0 163.3L343.0 163.3L344.0 163.3L345.0 163.3L346.0 163.2L347.0 163.2L348.0 163.2L349.0 163.1L350.0 163.1L351.0 163.1L352.0 163.1L353.0 163.0L354.0 163.0L355.0 163.0L356.0 162.9L357.0 162.9L358.0 162.9L359.0 162.9L360.0 162.8L361.0 162.8L362.0 162.8L363.0 162.8L364.0 162.7L365.0 162.7L366.0 162.7L367.0 162.7L368.0 162.6L369.0 162.6L370.0 162.6L371.0 162.6L372.0 162.5L373.0 162.5L374.0 162.5L375.0 162.5L376.0 162.4L377.0 162.4L378.0 162.4L379.0 162.4L380.0 162.3L381.0 162.3L382.0 162.3L383.0 162.3L384.0 162.2L385.0 162.2L386.0 162.2L387.0 162.2L388.0 162.1L389.0 162.1L390.0 162.1L391.0 162.1L392.0 162.1L393.0 162.0L394.0 162.0L395.0 162.0L396.0 162.0L397.0 161.9L398.0 161.9L399.0 161.9L400.0 161.9L401.0 161.9L402.0 161.8L403.0 161.8L404.0 161.8L405.0 161.8L406.0 161.7L407.0 161.7L408.0 161.7L409.0 161.7L410.0 161.7L411.0 161.6L412.0 161.6L413.0 161.6L414.0 161.6L415.0 161.6L416.0 161.5L417.0 161.5L418.0 161.5L419.0 161.5L420.0 161.5L421.0 161.4L422.0 161.4L423.0 161.4L424.0 161.4L425.0 161.4L426.0 161.3L427.0 161.3L428.0 161.3L429.0 161.3L430.0 161.3L431.0 161.3L432.0 161.2L433.0 161.2L434.0 161.2L435.0 161.2L436.0 161.2L437.0 161.2L438.0 161.1L439.0 161.1L440.0 161.1L441.0 161.1L442.0 161.1L443.0 161.0L444.0 161.0L445.0 161.0L446.0 161.0L447.0 161.0L448.0 161.0L449.0 160.9L450.0 160.9L451.0 160.9L452.0 160.9L453.0 160.9L454.0 160.9L455.0 160.9L456.0 160.8L457.0 160.8L458.0 160.8L459.0 160.8L460.0 160.8L461.0 160.8L462.0 160.7L463.0 160.7L464.0 160.7L465.0 160.7L466.0 160.7L467.0 160.7L468.0 160.7L469.0 160.6L470.0 160.6L471.0 160.6L472.0 160.6L473.0 160.6L474.0 160.6L475.0 160.6L476.0 160.5L477.0 160.5L478.0 160.5L479.0 160.5L480.0 160.5L481.0 160.5L482.0 160.5L483.0 160.5L484.0 160.4L485.0 160.4L486.0 160.4L487.0 160.4L488.0 160.4L489.0 160.4L490.0 160.4L491.0 160.4L492.0 160.3L493.0 160.3L494.0 160.3L495.0 160.3L496.0 160.3L497.0 160.3L498.0 160.3L499.0 160.3L500.0 160.3L501.0 160.2L502.0 160.2L503.0 160.2L504.0 160.2L505.0 160.2L506.0 160.2L507.0 160.2L508.0 160.2L509.0 160.2L510.0 160.1L511.0 160.1L512.0 160.1L513.0 160.1L514.0 160.1L515.0 160.1L516.0 160.1L517.0 160.1L518.0 160.1L519.0 160.1L520.0 160.0L521.0 160.0L522.0 160.0L523.0 160.0L524.0 160.0L525.0 160.0L526.0 160.0L527.0 160.0L528.0 160.0L529.0 160.0L530.0 160.0L531.0 159.9L532.0 159.9L533.0 159.9L534.0 159.9L535.0 159.9L536.0 159.9L537.0 159.9L538.0 159.9L539.0 159.9L540.0 159.9L541.0 159.9L542.0 159.9L543.0 159.8L544.0 159.8L545.0 159.8L546.0 159.8L547.0 159.8L548.0 159.8L549.0 159.8L550.0 159.8L551.0 159.8L552.0 159.8L553.0 159.8L554.0 159.8L555.0 159.8L556.0 159.8L557.0 159.7L558.0 159.7L559.0 159.7L560.0 159.7L561.0 159.7L562.0 159.7L563.0 159.7L564.0 159.7L565.0 159.7L566.0 159.7L567.0 159.7L568.0 159.7L569.0 159.7L570.0 159.7L571.0 159.7L572.0 159.7L573.0 159.7L574.0 159.6L575.0 159.6L576.0 159.6L577.0 159.6L578.0 159.6L579.0 159.6L580.0 159.6L581.0 159.6L582.0 159.6L583.0 159.6L584.0 159.6L585.0 159.6L586.0 159.6L587.0 159.6L588.0 159.6L589.0 159.6L590.0 159.6L591.0 159.6L592.0 159.6L593.0 159.6L594.0 159.6L595.0 159.5L596.0 159.5L597.0 159.5L598.0 159.5L599.0 159.5L600.0 159.5L601.0 159.5L602.0 159.5L603.0 159.5L604.0 159.5L605.0 159.5L606.0 159.5L607.0 159.5L608.0 159.5L609.0 159.5L610.0 159.5L611.0 159.5L612.0 159.5L613.0 159.5L614.0 159.5L615.0 159.5L616.0 159.5L617.0 159.5L618.0 159.5L619.0 159.5L620.0 159.5L621.0 159.5L622.0 159.5L623.0 159.5L624.0 159.5L625.0 159.5L626.0 159.5L627.0 159.5L628.0 159.5L629.0 159.4L630.0 159.4L631.0 159.4L632.0 159.4L633.0 159.4L634.0 159.4L635.0 159.4L636.0 159.4L637.0 159.4L638.0 159.4L639.0 159.4L640.0 159.4L641.0 159.4L642.0 159.4L643.0 159.4L644.0 159.4L645.0 159.4L646.0 159.4L647.0 159.4L648.0 159.4L649.0 159.4L650.0 159.4L651.0 159.4L652.0 159.4L653.0 159.4L654.0 159.4L655.0 159.4L656.0 159.4L657.0 159.4L658.0 159.4L659.0 159.4L660.0 159.4L661.0 159.4L662.0 159.4L663.0 159.4L664.0 159.4L665.0 159.4L666.0 159.4L667.0 159.4L668.0 159.4L669.0 159.4L670.0 159.4L671.0 159.4L672.0 159.4L673.0 159.4L674.0 159.4L675.0 159.4L676.0 159.4L677.0 159.4L678.0 159.4L679.0 159.4L680.0 159.4L681.0 159.4L682.0 159.4L683.0 159.4L684.0 159.4L685.0 159.4L686.0 159.4L687.0 159.4L688.0 159.4L689.0 159.4L690.0 159.4L691.0 159.4L692.0 159.4L693.0 159.4L694.0 159.4L695.0 159.4L696.0 159.4L697.0 159.4L698.0 159.4L699.0 159.4L700.0 159.4L701.0 159.4L702.0 159.4L703.0 159.4L704.0 159.4L705.0 159.4L706.0 159.4L707.0 159.4L708.0 159.4L709.0 159.4L710.0 159.4L711.0 159.4L712.0 159.4L713.0 159.4L714.0 159.4L715.0 159.4L716.0 159.4L717.0 159.5L718.0 159.5L719.0 159.5L720.0 159.5L721.0 159.5L722.0 159.5L723.0 159.5L724.0 159.5L725.0 159.5L726.0 159.5" fill="none" stroke="#000" stroke-width="3.1" stroke-linejoin="round"/>
<path d="M2.0 157.6L2.5 158.3L3.0 157.4L3.5 153.3L4.0 157.1L4.5 153.1L5.0 153.7L5.5 153.0L6.0 158.8L6.5 162.6L7.0 164.3L7.5 163.3L8.0 156.7L8.5 158.0L9.0 154.5L9.5 155.8L10.0 156.5L10.5 159.8L11.0 160.2L11.5 163.2L12.0 162.4L12.5 161.7L13.0 161.2L13.5 160.8L14.0 159.2L14.5 161.5L15.0 161.9L15.5 161.8L16.0 162.5L16.5 156.8L17.0 157.8L17.5 159.7L18.0 159.0L18.5 160.6L19.0 162.2L19.5 156.0L20.0 156.8L20.5 155.0L21.0 151.1L21.5 156.3L22.0 155.8L22.5 156.6L23.0 156.0L23.5 157.2L24.0 155.9L24.5 159.0L25.0 162.0L25.5 162.3L26.0 164.2L26.5 161.6L27.0 158.8L27.5 159.4L28.0 158.6L28.5 158.5L29.0 158.0L29.5 158.2L30.0 153.1L30.5 154.6L31.0 156.7L31.5 153.6L32.0 157.8L32.5 155.1L33.0 155.5L33.5 154.9L34.0 153.3L34.5 156.0L35.0 153.7L35.5 165.2L36.0 173.3L36.5 180.1L37.0 185.5L37.5 204.3L38.0 219.9L38.5 239.0L39.0 256.9L39.5 275.8L40.0 297.6L40.5 316.1L41.0 331.4L41.5 350.7L42.0 373.9L42.5 391.6L43.0 411.3L43.5 422.7L44.0 433.9L44.5 444.7L45.0 453.9L45.5 466.6L46.0 474.1L46.5 482.3L47.0 488.2L47.5 488.7L48.0 494.3L48.5 494.7L49.0 493.5L49.5 494.3L50.0 496.8L50.5 502.0L51.0 507.1L51.5 508.2L52.0 507.9L52.5 507.1L53.0 508.7L53.5 507.7L54.0 507.0L54.5 506.7L55.0 505.6L55.5 506.8L56.0 510.5L56.5 512.6L57.0 513.3L57.5 508.0L58.0 501.1L58.5 492.5L59.0 485.6L59.5 483.3L60.0 484.8L60.5 485.9L61.0 478.4L61.5 474.5L62.0 462.6L62.5 450.2L63.0 442.2L63.5 436.4L64.0 426.9L64.5 414.6L65.0 408.3L65.5 399.3L66.0 393.2L66.5 387.2L67.0 378.5L67.5 369.0L68.0 360.8L68.5 356.0L69.0 354.4L69.5 349.9L70.0 346.5L70.5 340.7L71.0 334.5L71.5 329.7L72.0 327.7L72.5 327.6L73.0 324.6L73.5 321.4L74.0 314.3L74.5 303.2L75.0 300.2L75.5 298.2L76.0 297.8L76.5 294.1L77.0 288.7L77.5 282.7L78.0 275.3L78.5 269.3L79.0 263.2L79.5 258.6L80.0 256.2L80.5 247.6L81.0 246.5L81.5 245.7L82.0 242.2L82.5 240.0L83.0 239.0L83.5 235.8L84.0 237.2L84.5 231.5L85.0 229.8L85.5 226.3L86.0 222.2L86.5 226.3L87.0 225.6L87.5 227.2L88.0 226.1L88.5 222.3L89.0 222.3L89.5 218.6L90.0 218.1L90.5 212.5L91.0 215.0L91.5 215.3L92.0 215.9L92.5 215.0L93.0 208.5L93.5 204.9L94.0 200.8L94.5 198.1L95.0 197.9L95.5 196.0L96.0 196.2L96.5 194.8L97.0 194.9L97.5 192.7L98.0 187.1L98.5 186.1L99.0 181.2L99.5 181.9L100.0 184.8L100.5 185.8L101.0 188.5L101.5 190.6L102.0 189.5L102.5 188.4L103.0 186.3L103.5 180.1L104.0 180.6L104.5 176.8L105.0 178.1L105.5 180.6L106.0 180.9L106.5 183.5L107.0 180.6L107.5 178.7L108.0 177.6L108.5 177.1L109.0 178.3L109.5 177.1L110.0 177.5L110.5 176.0L111.0 175.3L111.5 171.5L112.0 171.3L112.5 170.4L113.0 172.4L113.5 178.1L114.0 174.7L114.5 176.8L115.0 174.4L115.5 170.1L116.0 174.2L116.5 173.0L117.0 169.9L117.5 171.0L118.0 169.6L118.5 170.4L119.0 171.1L119.5 172.5L120.0 173.8L120.5 171.4L121.0 172.3L121.5 170.9L122.0 168.5L122.5 173.5L123.0 174.6L123.5 172.8L124.0 172.3L124.5 169.0L125.0 172.5L125.5 173.8L126.0 175.2L126.5 176.0L127.0 171.9L127.5 176.0L128.0 174.7L128.5 175.0L129.0 175.2L129.5 172.2L130.0 171.0L130.5 172.7L131.0 172.1L131.5 171.0L132.0 171.3L132.5 166.9L133.0 168.0L133.5 169.6L134.0 172.3L134.5 175.6L135.0 175.8L135.5 174.0L136.0 174.1L136.5 173.0L137.0 171.5L137.5 172.6L138.0 173.3L138.5 172.7L139.0 172.2L139.5 172.1L140.0 173.1L140.5 172.3L141.0 172.7L141.5 171.2L142.0 170.0L142.5 167.2L143.0 167.9L143.5 170.1L144.0 166.6L144.5 172.3L145.0 172.5L145.5 169.5L146.0 171.2L146.5 166.1L147.0 164.2L147.5 168.2L148.0 166.3L148.5 172.0L149.0 172.8L149.5 171.4L150.0 173.0L150.5 164.3L151.0 165.1L151.5 163.8L152.0 161.7L152.5 163.2L153.0 164.8L153.5 163.4L154.0 162.4L154.5 163.6L155.0 164.4L155.5 164.7L156.0 169.1L156.5 172.9L157.0 171.5L157.5 170.3L158.0 166.5L158.5 163.9L159.0 165.3L159.5 167.7L160.0 170.8L160.5 170.1L161.0 169.1L161.5 167.8L162.0 166.4L162.5 164.9L163.0 161.7L163.5 161.7L164.0 160.4L164.5 160.9L165.0 164.7L165.5 165.3L166.0 172.2L166.5 174.7L167.0 173.1L167.5 174.6L168.0 170.3L168.5 168.6L169.0 170.5L169.5 167.8L170.0 162.0L170.5 164.5L171.0 161.6L171.5 165.4L172.0 169.5L172.5 166.1L173.0 169.8L173.5 165.5L174.0 166.9L174.5 171.3L175.0 168.9L175.5 170.6L176.0 170.4L176.5 169.4L177.0 167.8L177.5 168.9L178.0 169.7L178.5 172.3L179.0 173.1L179.5 170.5L180.0 170.7L180.5 166.1L181.0 167.1L181.5 168.9L182.0 169.6L182.5 169.2L183.0 168.5L183.5 163.9L184.0 160.4L184.5 164.2L185.0 163.1L185.5 166.3L186.0 165.7L186.5 164.1L187.0 165.5L187.5 167.9L188.0 167.9L188.5 167.3L189.0 168.3L189.5 169.2L190.0 171.0L190.5 171.2L191.0 169.7L191.5 169.9L192.0 166.6L192.5 167.3L193.0 167.1L193.5 169.7L194.0 171.1L194.5 171.9L195.0 173.8L195.5 171.8L196.0 167.6L196.5 165.8L197.0 165.8L197.5 166.1L198.0 170.3L198.5 169.0L199.0 167.0L199.5 165.1L200.0 166.4L200.5 167.5L201.0 167.3L201.5 166.6L202.0 164.1L202.5 166.2L203.0 167.8L203.5 168.8L204.0 171.5L204.5 174.1L205.0 172.3L205.5 174.9L206.0 174.4L206.5 172.9L207.0 171.0L207.5 169.9L208.0 170.4L208.5 169.9L209.0 172.0L209.5 169.8L210.0 168.5L210.5 169.7L211.0 165.7L211.5 169.9L212.0 170.0L212.5 169.3L213.0 168.9L213.5 167.9L214.0 168.4L214.5 169.5L215.0 170.6L215.5 171.0L216.0 169.6L216.5 169.1L217.0 167.2L217.5 164.8L218.0 164.6L218.5 161.0L219.0 161.8L219.5 164.2L220.0 164.8L220.5 164.8L221.0 167.1L221.5 164.0L222.0 164.1L222.5 163.2L223.0 159.7L223.5 163.7L224.0 162.1L224.5 163.4L225.0 164.8L225.5 164.5L226.0 165.1L226.5 166.4L227.0 168.9L227.5 166.9L228.0 169.3L228.5 165.3L229.0 165.5L229.5 168.4L230.0 171.3L230.5 171.9L231.0 169.9L231.5 169.6L232.0 166.8L232.5 168.2L233.0 169.7L233.5 166.0L234.0 167.6L234.5 165.9L235.0 167.6L235.5 173.2L236.0 173.1L236.5 173.3L237.0 166.5L237.5 162.5L238.0 162.7L238.5 160.8L239.0 166.0L239.5 163.0L240.0 162.6L240.5 164.6L241.0 161.2L241.5 165.3L242.0 167.4L242.5 164.8L243.0 164.5L243.5 164.1L244.0 162.2L244.5 162.5L245.0 164.4L245.5 163.2L246.0 162.9L246.5 164.8L247.0 167.5L247.5 170.7L248.0 173.2L248.5 172.9L249.0 174.1L249.5 173.3L250.0 172.2L250.5 168.9L251.0 168.6L251.5 166.4L252.0 168.0L252.5 170.2L253.0 169.6L253.5 170.0L254.0 170.1L254.5 170.2L255.0 168.9L255.5 168.8L256.0 165.2L256.5 165.2L257.0 165.6L257.5 165.5L258.0 169.5L258.5 168.5L259.0 168.6L259.5 167.2L260.0 165.7L260.5 164.3L261.0 163.1L261.5 163.4L262.0 163.1L262.5 165.0L263.0 165.3L263.5 163.9L264.0 163.9L264.5 166.3L265.0 167.7L265.5 169.5L266.0 169.3L266.5 165.3L267.0 164.2L267.5 163.5L268.0 163.2L268.5 164.7L269.0 163.2L269.5 165.5L270.0 167.8L270.5 167.4L271.0 170.1L271.5 168.7L272.0 167.1L272.5 165.1L273.0 167.1L273.5 165.9L274.0 166.6L274.5 169.3L275.0 165.9L275.5 166.4L276.0 165.8L276.5 164.2L277.0 164.2L277.5 163.6L278.0 159.2L278.5 162.8L279.0 164.4L279.5 165.2L280.0 170.0L280.5 166.2L281.0 165.1L281.5 168.0L282.0 167.7L282.5 165.5L283.0 160.0L283.5 155.4L284.0 155.5L284.5 158.4L285.0 163.6L285.5 166.4L286.0 163.1L286.5 164.2L287.0 165.9L287.5 165.7L288.0 167.8L288.5 166.4L289.0 166.0L289.5 164.4L290.0 165.9L290.5 171.3L291.0 169.1L291.5 166.2L292.0 163.3L292.5 159.2L293.0 162.6L293.5 168.0L294.0 167.4L294.5 165.4L295.0 165.8L295.5 162.1L296.0 165.2L296.5 166.2L297.0 165.3L297.5 168.3L298.0 167.8L298.5 169.5L299.0 166.6L299.5 164.6L300.0 164.6L300.5 163.7L301.0 167.4L301.5 166.5L302.0 165.2L302.5 163.5L303.0 160.9L303.5 162.6L304.0 162.4L304.5 165.5L305.0 166.5L305.5 164.9L306.0 164.0L306.5 162.5L307.0 163.1L307.5 160.5L308.0 164.7L308.5 167.1L309.0 166.5L309.5 169.0L310.0 172.3L310.5 171.6L311.0 169.5L311.5 168.6L312.0 164.3L312.5 162.0L313.0 159.5L313.5 160.8L314.0 160.0L314.5 158.2L315.0 164.2L315.5 164.4L316.0 164.9L316.5 163.3L317.0 164.4L317.5 166.8L318.0 165.3L318.5 168.9L319.0 168.4L319.5 165.2L320.0 168.2L320.5 164.6L321.0 165.8L321.5 165.8L322.0 164.0L322.5 163.3L323.0 160.2L323.5 162.8L324.0 162.4L324.5 164.5L325.0 165.1L325.5 164.1L326.0 161.4L326.5 159.5L327.0 159.9L327.5 157.8L328.0 158.9L328.5 160.7L329.0 160.7L329.5 161.7L330.0 165.7L330.5 167.5L331.0 169.7L331.5 170.0L332.0 166.4L332.5 162.3L333.0 159.6L333.5 156.2L334.0 156.0L334.5 159.7L335.0 163.0L335.5 168.1L336.0 167.6L336.5 167.1L337.0 163.1L337.5 162.9L338.0 164.1L338.5 164.7L339.0 170.3L339.5 170.5L340.0 174.5L340.5 173.4L341.0 168.5L341.5 169.2L342.0 168.2L342.5 166.9L343.0 167.6L343.5 163.0L344.0 159.7L344.5 162.1L345.0 161.9L345.5 163.3L346.0 160.4L346.5 160.4L347.0 163.7L347.5 163.8L348.0 170.3L348.5 163.8L349.0 165.4L349.5 164.3L350.0 163.6L350.5 167.0L351.0 160.4L351.5 160.4L352.0 160.4L352.5 159.8L353.0 161.8L353.5 166.5L354.0 163.7L354.5 162.5L355.0 160.5L355.5 160.0L356.0 160.9L356.5 158.7L357.0 159.2L357.5 159.6L358.0 161.6L358.5 161.5L359.0 163.6L359.5 158.1L360.0 157.6L360.5 163.9L361.0 160.7L361.5 165.9L362.0 164.5L362.5 163.3L363.0 161.4L363.5 161.4L364.0 163.6L364.5 159.6L365.0 163.2L365.5 160.4L366.0 159.0L366.5 160.7L367.0 158.6L367.5 161.7L368.0 161.8L368.5 163.9L369.0 163.7L369.5 162.0L370.0 159.9L370.5 161.7L371.0 162.2L371.5 163.8L372.0 164.2L372.5 161.4L373.0 163.2L373.5 160.8L374.0 161.0L374.5 164.8L375.0 161.6L375.5 163.2L376.0 160.5L376.5 157.2L377.0 156.5L377.5 156.0L378.0 157.7L378.5 158.8L379.0 163.9L379.5 165.0L380.0 167.0L380.5 166.6L381.0 163.6L381.5 161.7L382.0 157.6L382.5 157.8L383.0 160.9L383.5 163.1L384.0 165.2L384.5 167.8L385.0 164.4L385.5 162.5L386.0 161.4L386.5 155.1L387.0 157.3L387.5 161.7L388.0 161.3L388.5 163.2L389.0 162.6L389.5 158.9L390.0 156.4L390.5 158.3L391.0 160.5L391.5 163.6L392.0 165.2L392.5 162.9L393.0 161.6L393.5 160.5L394.0 161.3L394.5 160.8L395.0 164.0L395.5 161.9L396.0 161.0L396.5 163.9L397.0 162.7L397.5 163.0L398.0 162.3L398.5 161.9L399.0 159.6L399.5 154.3L400.0 152.7L400.5 150.1L401.0 153.6L401.5 159.7L402.0 161.5L402.5 163.6L403.0 163.3L403.5 164.0L404.0 162.3L404.5 164.5L405.0 165.5L405.5 164.0L406.0 167.6L406.5 164.9L407.0 165.3L407.5 163.3L408.0 159.6L408.5 159.0L409.0 158.2L409.5 158.2L410.0 159.5L410.5 159.4L411.0 160.4L411.5 165.0L412.0 165.3L412.5 169.9L413.0 169.0L413.5 169.6L414.0 169.4L414.5 164.0L415.0 165.6L415.5 161.7L416.0 159.8L416.5 161.4L417.0 156.2L417.5 156.1L418.0 156.0L418.5 159.6L419.0 163.4L419.5 160.9L420.0 160.1L420.5 156.7L421.0 152.4L421.5 155.0L422.0 157.4L422.5 155.6L423.0 159.4L423.5 160.4L424.0 162.8L424.5 166.5L425.0 167.5L425.5 168.1L426.0 164.5L426.5 162.7L427.0 161.0L427.5 160.8L428.0 160.0L428.5 157.7L429.0 159.2L429.5 159.0L430.0 158.6L430.5 159.3L431.0 160.1L431.5 159.0L432.0 160.0L432.5 161.0L433.0 160.4L433.5 162.3L434.0 164.6L434.5 162.2L435.0 159.0L435.5 156.9L436.0 157.9L436.5 160.4L437.0 165.5L437.5 163.1L438.0 160.3L438.5 161.2L439.0 159.9L439.5 161.8L440.0 161.8L440.5 160.9L441.0 159.6L441.5 159.8L442.0 161.2L442.5 159.8L443.0 159.9L443.5 160.7L444.0 161.7L444.5 161.4L445.0 160.7L445.5 156.8L446.0 159.2L446.5 157.5L447.0 157.7L447.5 160.5L448.0 160.0L448.5 162.8L449.0 165.5L449.5 165.7L450.0 165.4L450.5 165.7L451.0 167.1L451.5 166.2L452.0 167.1L452.5 165.3L453.0 164.1L453.5 161.7L454.0 156.7L454.5 159.3L455.0 156.4L455.5 159.2L456.0 160.0L456.5 161.8L457.0 163.2L457.5 160.6L458.0 162.7L458.5 161.5L459.0 160.2L459.5 162.9L460.0 166.0L460.5 166.0L461.0 167.3L461.5 166.7L462.0 163.0L462.5 159.1L463.0 154.1L463.5 153.9L464.0 151.1L464.5 156.5L465.0 161.8L465.5 161.3L466.0 161.2L466.5 159.1L467.0 157.5L467.5 158.1L468.0 159.9L468.5 159.2L469.0 160.8L469.5 161.9L470.0 164.2L470.5 166.9L471.0 164.0L471.5 168.1L472.0 166.2L472.5 165.4L473.0 166.9L473.5 163.2L474.0 163.3L474.5 161.5L475.0 164.1L475.5 164.6L476.0 162.6L476.5 162.2L477.0 162.0L477.5 162.1L478.0 163.2L478.5 162.9L479.0 161.4L479.5 158.5L480.0 156.9L480.5 159.9L481.0 159.5L481.5 161.5L482.0 162.4L482.5 161.9L483.0 165.5L483.5 165.0L484.0 167.1L484.5 163.6L485.0 160.9L485.5 165.6L486.0 163.3L486.5 166.6L487.0 164.3L487.5 163.4L488.0 165.4L488.5 159.1L489.0 160.7L489.5 161.1L490.0 160.4L490.5 159.9L491.0 164.2L491.5 162.8L492.0 161.9L492.5 162.3L493.0 160.1L493.5 162.1L494.0 163.4L494.5 166.0L495.0 162.3L495.5 160.1L496.0 158.9L496.5 157.5L497.0 160.8L497.5 158.0L498.0 163.9L498.5 161.2L499.0 164.7L499.5 167.0L500.0 163.2L500.5 165.0L501.0 159.6L501.5 156.4L502.0 156.3L502.5 154.3L503.0 157.4L503.5 155.3L504.0 156.0L504.5 158.4L505.0 159.4L505.5 162.3L506.0 160.1L506.5 157.3L507.0 158.4L507.5 159.0L508.0 160.0L508.5 164.0L509.0 164.4L509.5 163.2L510.0 163.0L510.5 159.8L511.0 157.7L511.5 160.3L512.0 159.0L512.5 160.3L513.0 163.4L513.5 159.7L514.0 161.4L514.5 161.9L515.0 162.2L515.5 163.1L516.0 160.8L516.5 156.4L517.0 156.1L517.5 153.9L518.0 156.6L518.5 160.7L519.0 160.3L519.5 161.9L520.0 162.7L520.5 164.1L521.0 165.6L521.5 166.2L522.0 163.5L522.5 161.4L523.0 161.8L523.5 160.9L524.0 161.8L524.5 160.2L525.0 158.4L525.5 153.8L526.0 152.6L526.5 156.6L527.0 161.3L527.5 162.5L528.0 160.6L528.5 159.8L529.0 158.6L529.5 157.9L530.0 162.3L530.5 161.2L531.0 162.7L531.5 165.5L532.0 165.2L532.5 165.4L533.0 162.4L533.5 160.7L534.0 158.1L534.5 159.0L535.0 158.9L535.5 156.7L536.0 159.0L536.5 159.5L537.0 163.5L537.5 167.9L538.0 164.2L538.5 161.2L539.0 157.9L539.5 156.0L540.0 154.9L540.5 156.1L541.0 157.4L541.5 155.9L542.0 159.6L542.5 161.6L543.0 161.2L543.5 164.6L544.0 166.0L544.5 164.7L545.0 165.3L545.5 162.9L546.0 163.3L546.5 161.8L547.0 160.1L547.5 161.8L548.0 158.6L548.5 160.1L549.0 163.0L549.5 161.9L550.0 163.3L550.5 164.1L551.0 163.6L551.5 160.9L552.0 158.6L552.5 159.3L553.0 158.7L553.5 157.8L554.0 157.7L554.5 155.5L555.0 153.3L555.5 157.5L556.0 161.8L556.5 160.6L557.0 160.3L557.5 160.6L558.0 163.7L558.5 161.5L559.0 164.5L559.5 166.2L560.0 164.1L560.5 165.3L561.0 161.2L561.5 158.1L562.0 158.3L562.5 160.0L563.0 164.0L563.5 167.0L564.0 167.2L564.5 164.9L565.0 160.9L565.5 159.6L566.0 159.0L566.5 159.8L567.0 159.3L567.5 158.1L568.0 154.8L568.5 154.9L569.0 155.7L569.5 156.3L570.0 159.3L570.5 159.2L571.0 163.2L571.5 161.7L572.0 157.5L572.5 158.9L573.0 158.9L573.5 163.1L574.0 168.0L574.5 166.5L575.0 164.4L575.5 159.9L576.0 158.5L576.5 158.4L577.0 157.3L577.5 162.6L578.0 161.0L578.5 159.4L579.0 162.2L579.5 158.0L580.0 158.7L580.5 157.2L581.0 154.2L581.5 157.7L582.0 160.2L582.5 163.3L583.0 163.6L583.5 162.5L584.0 162.0L584.5 159.7L585.0 159.8L585.5 158.7L586.0 160.5L586.5 161.9L587.0 163.5L587.5 166.5L588.0 163.2L588.5 161.2L589.0 162.0L589.5 159.4L590.0 160.6L590.5 163.1L591.0 160.9L591.5 161.0L592.0 160.6L592.5 161.5L593.0 160.1L593.5 157.9L594.0 158.7L594.5 156.6L595.0 159.7L595.5 160.9L596.0 159.8L596.5 161.0L597.0 158.9L597.5 156.4L598.0 155.5L598.5 153.8L599.0 153.9L599.5 156.6L600.0 160.0L600.5 164.6L601.0 166.0L601.5 167.9L602.0 166.1L602.5 167.9L603.0 166.9L603.5 163.0L604.0 164.9L604.5 164.0L605.0 161.5L605.5 164.9L606.0 165.0L606.5 164.4L607.0 163.4L607.5 162.4L608.0 161.1L608.5 161.1L609.0 158.8L609.5 158.7L610.0 161.4L610.5 161.2L611.0 164.0L611.5 164.3L612.0 160.9L612.5 158.5L613.0 158.0L613.5 156.8L614.0 159.8L614.5 159.7L615.0 162.0L615.5 159.6L616.0 156.7L616.5 158.1L617.0 158.4L617.5 160.0L618.0 157.7L618.5 158.5L619.0 156.5L619.5 155.7L620.0 157.6L620.5 155.7L621.0 155.9L621.5 158.8L622.0 158.1L622.5 163.0L623.0 162.8L623.5 161.1L624.0 164.6L624.5 161.0L625.0 164.9L625.5 167.4L626.0 165.6L626.5 164.8L627.0 160.1L627.5 157.7L628.0 159.5L628.5 159.0L629.0 162.5L629.5 162.9L630.0 161.6L630.5 164.2L631.0 158.3L631.5 156.9L632.0 158.1L632.5 156.6L633.0 159.8L633.5 162.0L634.0 160.0L634.5 159.7L635.0 157.5L635.5 153.7L636.0 156.8L636.5 155.5L637.0 156.6L637.5 162.0L638.0 161.7L638.5 162.3L639.0 162.6L639.5 160.2L640.0 156.9L640.5 158.6L641.0 159.7L641.5 160.1L642.0 162.9L642.5 163.2L643.0 166.0L643.5 168.3L644.0 164.2L644.5 164.5L645.0 159.6L645.5 155.2L646.0 158.7L646.5 155.7L647.0 157.4L647.5 161.6L648.0 159.3L648.5 159.0L649.0 160.0L649.5 159.2L650.0 162.2L650.5 161.2L651.0 159.5L651.5 157.3L652.0 159.6L652.5 163.6L653.0 166.1L653.5 168.3L654.0 164.6L654.5 163.9L655.0 164.9L655.5 159.8L656.0 160.1L656.5 160.4L657.0 157.8L657.5 160.7L658.0 162.0L658.5 162.8L659.0 163.3L659.5 162.1L660.0 163.3L660.5 162.9L661.0 162.8L661.5 163.0L662.0 163.0L662.5 161.5L663.0 163.5L663.5 167.3L664.0 164.9L664.5 164.9L665.0 162.6L665.5 157.3L666.0 159.8L666.5 159.7L667.0 159.4L667.5 159.0L668.0 156.5L668.5 158.0L669.0 158.7L669.5 161.4L670.0 160.6L670.5 159.9L671.0 163.6L671.5 161.8L672.0 161.9L672.5 161.0L673.0 161.0L673.5 157.9L674.0 158.8L674.5 160.0L675.0 160.8L675.5 162.9L676.0 162.3L676.5 161.7L677.0 160.0L677.5 158.4L678.0 159.4L678.5 159.6L679.0 159.1L679.5 158.9L680.0 154.7L680.5 155.6L681.0 156.4L681.5 157.3L682.0 159.0L682.5 157.5L683.0 159.1L683.5 160.3L684.0 157.9L684.5 161.4L685.0 160.4L685.5 157.5L686.0 160.5L686.5 158.6L687.0 158.4L687.5 158.5L688.0 158.1L688.5 158.6L689.0 158.8L689.5 158.4L690.0 157.2L690.5 157.8L691.0 160.2L691.5 161.7L692.0 164.9L692.5 164.2L693.0 160.3L693.5 161.4L694.0 157.5L694.5 158.1L695.0 161.1L695.5 160.2L696.0 161.6L696.5 165.0L697.0 164.6L697.5 164.6L698.0 166.0L698.5 161.8L699.0 161.3L699.5 161.4L700.0 156.2L700.5 158.7L701.0 157.1L701.5 154.7L702.0 159.5L702.5 158.5L703.0 158.5L703.5 159.1L704.0 156.3L704.5 155.1L705.0 154.7L705.5 153.0L706.0 155.5L706.5 159.2L707.0 159.8L707.5 162.7L708.0 162.0L708.5 160.7L709.0 159.7L709.5 160.9L710.0 161.1L710.5 162.7L711.0 163.0L711.5 160.7L712.0 161.3L712.5 160.8L713.0 160.7L713.5 159.0L714.0 156.9L714.5 157.6L715.0 159.1L715.5 161.9L716.0 163.3L716.5 161.3L717.0 161.1L717.5 160.6L718.0 158.1L718.5 157.5L719.0 160.7L719.5 162.4L720.0 163.0L720.5 159.6L721.0 159.9L721.5 154.2L722.0 154.9L722.5 155.2L723.0 152.2L723.5 152.0L724.0 152.8L724.5 156.3L725.0 158.7L725.5 162.5L726.0 162.9" fill="none" stroke="#ed1c24" stroke-width="2.3" stroke-linejoin="round"/>
<path d="M2.0 157.1L3.0 156.8L4.0 157.4L5.0 157.7L6.0 158.1L7.0 157.6L8.0 157.2L9.0 157.1L10.0 157.9L11.0 158.3L12.0 157.6L13.0 156.9L14.0 157.0L15.0 158.3L16.0 157.6L17.0 156.6L18.0 157.5L19.0 156.9L20.0 157.2L21.0 157.3L22.0 157.1L23.0 157.8L24.0 157.5L25.0 157.2L26.0 157.7L27.0 157.9L28.0 156.7L29.0 157.4L30.0 157.0L31.0 157.4L32.0 156.9L33.0 157.5L34.0 157.5L35.0 157.3L36.0 157.0L37.0 157.3L38.0 157.0L39.0 160.6L40.0 204.6L41.0 299.4L42.0 390.4L43.0 411.3L44.0 436.1L45.0 461.3L46.0 475.9L47.0 486.6L48.0 492.8L49.0 496.2L50.0 499.9L51.0 501.6L52.0 503.6L53.0 503.6L54.0 505.4L55.0 505.1L56.0 506.2L57.0 506.5L58.0 508.1L59.0 507.9L60.0 508.9L61.0 507.1L62.0 505.4L63.0 501.0L64.0 498.5L65.0 470.9L66.0 415.4L67.0 384.9L68.0 357.4L69.0 339.5L70.0 326.9L71.0 316.5L72.0 308.5L73.0 301.0L74.0 292.4L75.0 283.4L76.0 277.3L77.0 270.9L78.0 266.8L79.0 263.4L80.0 261.6L81.0 258.0L82.0 254.7L83.0 251.6L84.0 249.3L85.0 245.5L86.0 242.4L87.0 240.3L88.0 236.4L89.0 233.9L90.0 231.2L91.0 228.1L92.0 225.5L93.0 223.5L94.0 220.0L95.0 217.1L96.0 214.4L97.0 212.9L98.0 210.6L99.0 208.8L100.0 206.4L101.0 204.4L102.0 202.4L103.0 200.8L104.0 199.4L105.0 197.5L106.0 196.2L107.0 195.7L108.0 193.6L109.0 191.2L110.0 191.6L111.0 189.7L112.0 187.9L113.0 187.8L114.0 186.3L115.0 185.0L116.0 184.0L117.0 183.0L118.0 182.6L119.0 182.4L120.0 180.9L121.0 180.5L122.0 180.6L123.0 178.4L124.0 178.5L125.0 177.6L126.0 176.6L127.0 176.1L128.0 176.0L129.0 175.7L130.0 174.7L131.0 174.5L132.0 174.3L133.0 173.6L134.0 173.4L135.0 172.7L136.0 172.3L137.0 172.5L138.0 171.5L139.0 170.8L140.0 170.7L141.0 169.5L142.0 169.4L143.0 169.6L144.0 169.2L145.0 169.3L146.0 168.1L147.0 167.1L148.0 168.5L149.0 167.7L150.0 166.3L151.0 167.3L152.0 166.3L153.0 165.1L154.0 165.5L155.0 165.2L156.0 166.0L157.0 164.6L158.0 164.6L159.0 164.4L160.0 164.1L161.0 163.6L162.0 164.0L163.0 164.2L164.0 163.8L165.0 162.8L166.0 162.6L167.0 163.0L168.0 162.5L169.0 162.3L170.0 161.7L171.0 163.3L172.0 162.7L173.0 161.6L174.0 162.4L175.0 162.5L176.0 160.6L177.0 161.4L178.0 161.3L179.0 161.8L180.0 161.3L181.0 161.1L182.0 161.1L183.0 162.0L184.0 162.1L185.0 160.7L186.0 160.4L187.0 162.2L188.0 160.3L189.0 160.4L190.0 160.7L191.0 160.9L192.0 161.1L193.0 160.7L194.0 160.1L195.0 160.7L196.0 160.5L197.0 161.3L198.0 160.3L199.0 159.7L200.0 159.8L201.0 161.0L202.0 160.0L203.0 159.2L204.0 159.9L205.0 160.2L206.0 160.8L207.0 159.6L208.0 160.5L209.0 160.5L210.0 159.7L211.0 160.0L212.0 161.0L213.0 160.9L214.0 160.5L215.0 160.2L216.0 160.6L217.0 159.9L218.0 159.9L219.0 159.5L220.0 159.9L221.0 159.9L222.0 161.3L223.0 159.8L224.0 160.5L225.0 160.5L226.0 159.8L227.0 160.4L228.0 158.7L229.0 159.8L230.0 160.2L231.0 158.6L232.0 159.2L233.0 160.3L234.0 159.6L235.0 159.2L236.0 159.5L237.0 159.4L238.0 160.0L239.0 159.9L240.0 159.5L241.0 159.3L242.0 159.6L243.0 160.3L244.0 159.8L245.0 159.9L246.0 159.5L247.0 158.9L248.0 159.2L249.0 159.8L250.0 159.6L251.0 159.0L252.0 158.7L253.0 159.5L254.0 159.3L255.0 159.3L256.0 159.3L257.0 159.6L258.0 159.6L259.0 159.9L260.0 159.8L261.0 160.0L262.0 159.8L263.0 159.2L264.0 159.3L265.0 159.6L266.0 159.2L267.0 159.6L268.0 159.9L269.0 158.9L270.0 158.4L271.0 159.8L272.0 159.3L273.0 159.6L274.0 158.6L275.0 160.1L276.0 159.6L277.0 159.1L278.0 159.0L279.0 159.2L280.0 159.1L281.0 159.0L282.0 158.6L283.0 159.8L284.0 159.1L285.0 159.1L286.0 159.1L287.0 157.9L288.0 159.3L289.0 158.9L290.0 158.9L291.0 159.1L292.0 158.5L293.0 159.4L294.0 158.7L295.0 158.6L296.0 158.6L297.0 159.1L298.0 159.4L299.0 158.7L300.0 158.2L301.0 159.5L302.0 158.4L303.0 159.5L304.0 158.9L305.0 158.6L306.0 158.6L307.0 159.1L308.0 159.3L309.0 158.8L310.0 159.3L311.0 159.9L312.0 158.8L313.0 158.3L314.0 158.3L315.0 158.1L316.0 158.5L317.0 158.5L318.0 158.1L319.0 159.1L320.0 157.5L321.0 158.1L322.0 159.8L323.0 159.3L324.0 159.0L325.0 159.0L326.0 159.6L327.0 159.0L328.0 158.8L329.0 158.1L330.0 158.7L331.0 158.4L332.0 158.4L333.0 158.3L334.0 158.7L335.0 158.5L336.0 159.1L337.0 158.0L338.0 158.6L339.0 159.6L340.0 158.7L341.0 159.3L342.0 159.2L343.0 159.3L344.0 159.0L345.0 157.9L346.0 158.5L347.0 158.4L348.0 157.8L349.0 158.4L350.0 158.0L351.0 157.8L352.0 158.7L353.0 158.6L354.0 158.2L355.0 158.1L356.0 158.3L357.0 158.4L358.0 158.4L359.0 158.5L360.0 158.3L361.0 158.7L362.0 158.8L363.0 158.7L364.0 158.2L365.0 158.2L366.0 158.7L367.0 158.4L368.0 158.5L369.0 157.3L370.0 157.1L371.0 158.7L372.0 158.7L373.0 159.2L374.0 158.8L375.0 158.6L376.0 158.5L377.0 157.8L378.0 158.9L379.0 158.2L380.0 158.7L381.0 158.6L382.0 158.6L383.0 158.9L384.0 158.2L385.0 158.2L386.0 158.0L387.0 158.2L388.0 159.3L389.0 158.2L390.0 159.0L391.0 158.8L392.0 158.8L393.0 158.8L394.0 157.9L395.0 158.6L396.0 159.2L397.0 158.0L398.0 158.4L399.0 158.0L400.0 158.5L401.0 157.8L402.0 159.2L403.0 158.2L404.0 157.6L405.0 159.3L406.0 158.9L407.0 158.6L408.0 158.6L409.0 158.2L410.0 158.3L411.0 158.7L412.0 158.8L413.0 158.8L414.0 158.5L415.0 158.1L416.0 158.3L417.0 158.9L418.0 159.1L419.0 158.2L420.0 158.1L421.0 159.0L422.0 158.7L423.0 158.7L424.0 157.7L425.0 158.1L426.0 158.1L427.0 158.4L428.0 157.5L429.0 159.0L430.0 158.5L431.0 158.5L432.0 157.7L433.0 158.3L434.0 159.0L435.0 157.5L436.0 158.5L437.0 158.7L438.0 158.0L439.0 158.7L440.0 158.1L441.0 158.9L442.0 158.6L443.0 158.4L444.0 159.3L445.0 158.7L446.0 159.0L447.0 157.7L448.0 158.0L449.0 158.7L450.0 158.7L451.0 158.3L452.0 158.7L453.0 157.8L454.0 158.4L455.0 157.7L456.0 158.5L457.0 158.0L458.0 158.0L459.0 158.3L460.0 159.2L461.0 157.8L462.0 158.0L463.0 158.8L464.0 158.1L465.0 159.2L466.0 158.4L467.0 158.3L468.0 158.5L469.0 159.2L470.0 158.6L471.0 158.5L472.0 158.4L473.0 157.5L474.0 157.8L475.0 159.0L476.0 158.7L477.0 158.5L478.0 158.6L479.0 158.0L480.0 158.5L481.0 157.8L482.0 158.5L483.0 157.9L484.0 158.2L485.0 158.5L486.0 158.1L487.0 158.6L488.0 158.5L489.0 158.5L490.0 158.9L491.0 157.5L492.0 157.5L493.0 158.6L494.0 158.8L495.0 159.3L496.0 158.7L497.0 158.7L498.0 157.8L499.0 158.7L500.0 158.6L501.0 157.8L502.0 157.8L503.0 158.2L504.0 158.4L505.0 156.8L506.0 158.3L507.0 158.4L508.0 158.2L509.0 158.4L510.0 158.5L511.0 157.8L512.0 158.5L513.0 158.2L514.0 157.8L515.0 158.4L516.0 159.0L517.0 157.6L518.0 157.5L519.0 157.5L520.0 159.3L521.0 158.2L522.0 158.3L523.0 157.9L524.0 157.8L525.0 157.3L526.0 158.4L527.0 158.4L528.0 157.3L529.0 157.8L530.0 157.9L531.0 158.3L532.0 158.4L533.0 158.9L534.0 159.0L535.0 158.9L536.0 159.0L537.0 157.7L538.0 158.0L539.0 158.9L540.0 158.5L541.0 158.3L542.0 157.3L543.0 157.4L544.0 158.7L545.0 158.5L546.0 158.2L547.0 158.1L548.0 157.5L549.0 158.5L550.0 158.9L551.0 159.2L552.0 158.4L553.0 158.2L554.0 157.8L555.0 159.0L556.0 159.2L557.0 158.0L558.0 158.5L559.0 158.4L560.0 158.1L561.0 157.1L562.0 158.2L563.0 158.7L564.0 157.6L565.0 157.9L566.0 156.7L567.0 159.0L568.0 158.6L569.0 158.4L570.0 158.2L571.0 158.0L572.0 158.3L573.0 158.2L574.0 158.2L575.0 158.3L576.0 158.4L577.0 159.1L578.0 157.6L579.0 158.5L580.0 158.1L581.0 157.8L582.0 157.2L583.0 158.7L584.0 157.9L585.0 158.0L586.0 158.6L587.0 157.8L588.0 158.4L589.0 158.3L590.0 158.8L591.0 158.9L592.0 157.9L593.0 158.8L594.0 158.3L595.0 158.4L596.0 158.3L597.0 158.8L598.0 157.8L599.0 158.5L600.0 159.0L601.0 158.3L602.0 159.4L603.0 158.0L604.0 158.5L605.0 158.2L606.0 158.1L607.0 157.8L608.0 158.1L609.0 158.4L610.0 158.0L611.0 158.8L612.0 159.2L613.0 157.6L614.0 158.8L615.0 158.5L616.0 158.5L617.0 159.6L618.0 159.0L619.0 158.6L620.0 158.5L621.0 157.3L622.0 158.8L623.0 158.0L624.0 158.5L625.0 158.5L626.0 158.9L627.0 159.4L628.0 158.9L629.0 159.1L630.0 158.3L631.0 158.7L632.0 158.8L633.0 157.7L634.0 159.5L635.0 158.1L636.0 157.8L637.0 159.3L638.0 159.5L639.0 158.1L640.0 158.1L641.0 160.0L642.0 158.5L643.0 157.4L644.0 158.1L645.0 159.4L646.0 158.8L647.0 158.8L648.0 159.1L649.0 158.8L650.0 158.3L651.0 157.6L652.0 158.7L653.0 157.9L654.0 158.4L655.0 159.3L656.0 158.7L657.0 158.5L658.0 158.5L659.0 158.8L660.0 158.9L661.0 157.8L662.0 158.5L663.0 159.3L664.0 158.8L665.0 158.1L666.0 158.1L667.0 157.4L668.0 158.1L669.0 159.3L670.0 158.4L671.0 158.0L672.0 158.2L673.0 158.4L674.0 158.4L675.0 158.3L676.0 158.1L677.0 158.8L678.0 159.2L679.0 158.2L680.0 158.2L681.0 159.0L682.0 157.7L683.0 158.2L684.0 158.3L685.0 158.5L686.0 158.3L687.0 158.0L688.0 158.6L689.0 157.9L690.0 157.6L691.0 157.4L692.0 158.8L693.0 157.6L694.0 158.7L695.0 158.8L696.0 158.9L697.0 158.4L698.0 158.2L699.0 158.5L700.0 158.2L701.0 157.8L702.0 159.1L703.0 158.0L704.0 159.3L705.0 158.7L706.0 158.2L707.0 158.7L708.0 159.1L709.0 157.8L710.0 158.0L711.0 157.9L712.0 158.5L713.0 158.6L714.0 158.5L715.0 158.1L716.0 158.2L717.0 159.0L718.0 159.0L719.0 158.5L720.0 157.8L721.0 158.7L722.0 158.6L723.0 158.6L724.0 159.3L725.0 158.8L726.0 157.9" fill="none" stroke="#27aae1" stroke-width="3.0" stroke-linejoin="round"/>
<path d="M2.0 157.4L3.0 157.7L4.0 157.4L5.0 156.3L6.0 156.1L7.0 156.1L8.0 156.5L9.0 158.7L10.0 158.2L11.0 156.4L12.0 157.3L13.0 158.2L14.0 157.8L15.0 156.6L16.0 156.5L17.0 158.0L18.0 156.8L19.0 155.7L20.0 155.2L21.0 154.4L22.0 154.5L23.0 155.5L24.0 156.0L25.0 156.5L26.0 157.8L27.0 157.4L28.0 154.9L29.0 154.6L30.0 156.9L31.0 157.5L32.0 156.1L33.0 155.5L34.0 156.0L35.0 155.7L36.0 157.6L37.0 157.6L38.0 156.6L39.0 176.2L40.0 251.7L41.0 304.1L42.0 354.0L43.0 389.0L44.0 412.1L45.0 430.7L46.0 450.5L47.0 466.2L48.0 484.2L49.0 494.9L50.0 496.7L51.0 501.9L52.0 506.1L53.0 503.6L54.0 504.1L55.0 507.5L56.0 507.1L57.0 506.3L58.0 504.9L59.0 501.9L60.0 501.1L61.0 496.1L62.0 491.1L63.0 488.0L64.0 484.4L65.0 479.8L66.0 475.1L67.0 472.8L68.0 471.1L69.0 469.2L70.0 462.3L71.0 455.8L72.0 454.8L73.0 449.3L74.0 443.6L75.0 441.9L76.0 439.5L77.0 435.6L78.0 428.2L79.0 421.6L80.0 416.8L81.0 414.8L82.0 410.0L83.0 403.0L84.0 399.8L85.0 395.8L86.0 390.7L87.0 385.0L88.0 381.1L89.0 377.9L90.0 375.6L91.0 373.4L92.0 368.2L93.0 364.9L94.0 361.2L95.0 358.8L96.0 356.3L97.0 352.8L98.0 348.2L99.0 345.1L100.0 341.8L101.0 335.6L102.0 334.7L103.0 333.3L104.0 331.0L105.0 332.2L106.0 327.5L107.0 320.2L108.0 318.0L109.0 315.9L110.0 311.6L111.0 306.8L112.0 304.0L113.0 301.1L114.0 294.9L115.0 290.3L116.0 287.9L117.0 283.0L118.0 279.8L119.0 276.7L120.0 274.4L121.0 272.7L122.0 268.8L123.0 265.1L124.0 262.3L125.0 258.2L126.0 254.8L127.0 255.4L128.0 252.2L129.0 250.8L130.0 249.3L131.0 247.4L132.0 246.8L133.0 245.1L134.0 244.6L135.0 240.4L136.0 240.2L137.0 242.1L138.0 239.2L139.0 235.9L140.0 234.4L141.0 232.3L142.0 232.5L143.0 231.7L144.0 229.2L145.0 227.7L146.0 226.0L147.0 224.3L148.0 225.3L149.0 225.4L150.0 224.0L151.0 223.1L152.0 220.3L153.0 218.9L154.0 218.0L155.0 217.3L156.0 216.5L157.0 215.2L158.0 213.1L159.0 211.5L160.0 213.8L161.0 212.9L162.0 209.0L163.0 209.0L164.0 210.5L165.0 207.6L166.0 204.8L167.0 204.7L168.0 202.0L169.0 202.4L170.0 203.1L171.0 201.4L172.0 199.6L173.0 199.0L174.0 198.2L175.0 196.6L176.0 195.1L177.0 193.0L178.0 194.6L179.0 194.4L180.0 192.5L181.0 192.1L182.0 190.5L183.0 189.2L184.0 189.5L185.0 188.9L186.0 187.4L187.0 187.0L188.0 187.7L189.0 187.7L190.0 186.2L191.0 184.4L192.0 182.0L193.0 183.0L194.0 184.7L195.0 183.1L196.0 182.1L197.0 182.5L198.0 182.3L199.0 182.0L200.0 180.3L201.0 180.4L202.0 179.2L203.0 178.2L204.0 179.4L205.0 179.1L206.0 180.0L207.0 180.2L208.0 177.0L209.0 173.6L210.0 175.1L211.0 175.5L212.0 174.3L213.0 175.8L214.0 173.9L215.0 170.8L216.0 172.4L217.0 174.1L218.0 173.4L219.0 173.1L220.0 172.3L221.0 170.5L222.0 170.9L223.0 171.2L224.0 169.6L225.0 170.8L226.0 172.0L227.0 171.7L228.0 170.6L229.0 169.4L230.0 169.2L231.0 168.8L232.0 169.7L233.0 169.7L234.0 169.6L235.0 170.5L236.0 171.9L237.0 170.1L238.0 168.9L239.0 170.0L240.0 169.0L241.0 167.6L242.0 167.0L243.0 168.9L244.0 169.2L245.0 168.4L246.0 168.1L247.0 169.0L248.0 169.1L249.0 165.9L250.0 165.1L251.0 165.3L252.0 162.8L253.0 164.0L254.0 168.2L255.0 168.7L256.0 166.2L257.0 165.2L258.0 167.3L259.0 168.3L260.0 167.2L261.0 166.9L262.0 166.9L263.0 167.6L264.0 168.0L265.0 167.4L266.0 165.9L267.0 166.1L268.0 166.4L269.0 166.9L270.0 166.3L271.0 165.1L272.0 166.2L273.0 165.1L274.0 166.6L275.0 169.2L276.0 167.1L277.0 166.4L278.0 167.2L279.0 164.0L280.0 163.8L281.0 166.2L282.0 166.0L283.0 165.0L284.0 164.7L285.0 165.5L286.0 166.8L287.0 167.3L288.0 166.1L289.0 167.2L290.0 166.7L291.0 164.9L292.0 163.7L293.0 165.5L294.0 168.0L295.0 167.4L296.0 167.1L297.0 166.3L298.0 165.9L299.0 165.5L300.0 165.1L301.0 165.3L302.0 166.9L303.0 167.4L304.0 165.9L305.0 164.8L306.0 164.2L307.0 166.2L308.0 167.3L309.0 165.8L310.0 165.0L311.0 163.9L312.0 164.1L313.0 165.9L314.0 165.6L315.0 164.5L316.0 164.7L317.0 165.0L318.0 163.7L319.0 163.3L320.0 164.0L321.0 165.0L322.0 165.1L323.0 164.7L324.0 166.9L325.0 166.0L326.0 164.0L327.0 164.4L328.0 165.0L329.0 163.8L330.0 164.3L331.0 167.0L332.0 166.3L333.0 164.2L334.0 163.5L335.0 163.9L336.0 163.7L337.0 162.4L338.0 164.7L339.0 164.9L340.0 164.7L341.0 166.9L342.0 166.1L343.0 165.2L344.0 166.7L345.0 166.0L346.0 163.6L347.0 162.5L348.0 163.1L349.0 165.7L350.0 166.5L351.0 164.3L352.0 162.5L353.0 162.9L354.0 164.0L355.0 164.2L356.0 164.1L357.0 164.6L358.0 164.1L359.0 163.7L360.0 164.2L361.0 164.1L362.0 164.4L363.0 166.2L364.0 166.2L365.0 164.5L366.0 162.4L367.0 162.7L368.0 162.4L369.0 160.7L370.0 163.3L371.0 165.2L372.0 164.3L373.0 162.0L374.0 161.8L375.0 162.7L376.0 163.6L377.0 166.3L378.0 165.9L379.0 163.1L380.0 161.8L381.0 162.4L382.0 163.3L383.0 162.3L384.0 162.5L385.0 162.5L386.0 163.4L387.0 165.4L388.0 165.4L389.0 163.9L390.0 163.4L391.0 163.7L392.0 162.8L393.0 162.6L394.0 161.7L395.0 160.7L396.0 162.6L397.0 163.7L398.0 163.2L399.0 164.3L400.0 162.4L401.0 160.8L402.0 162.5L403.0 163.6L404.0 163.0L405.0 163.6L406.0 164.1L407.0 162.0L408.0 161.0L409.0 162.8L410.0 164.1L411.0 161.6L412.0 162.4L413.0 164.6L414.0 164.6L415.0 163.7L416.0 162.2L417.0 161.5L418.0 164.0L419.0 164.9L420.0 164.0L421.0 163.6L422.0 162.2L423.0 161.3L424.0 160.7L425.0 163.2L426.0 162.3L427.0 162.4L428.0 163.8L429.0 161.9L430.0 161.1L431.0 161.6L432.0 162.0L433.0 161.9L434.0 161.2L435.0 161.4L436.0 161.2L437.0 160.2L438.0 161.1L439.0 163.1L440.0 161.7L441.0 160.9L442.0 161.7L443.0 160.8L444.0 162.1L445.0 162.5L446.0 163.1L447.0 162.9L448.0 161.8L449.0 162.3L450.0 161.2L451.0 162.0L452.0 162.5L453.0 162.5L454.0 162.6L455.0 161.0L456.0 160.9L457.0 162.0L458.0 162.9L459.0 162.0L460.0 161.1L461.0 160.3L462.0 160.9L463.0 161.5L464.0 159.2L465.0 160.2L466.0 162.8L467.0 161.5L468.0 159.4L469.0 160.1L470.0 160.1L471.0 161.1L472.0 161.4L473.0 160.3L474.0 161.6L475.0 161.6L476.0 161.4L477.0 161.2L478.0 159.7L479.0 158.8L480.0 161.7L481.0 163.0L482.0 161.5L483.0 161.8L484.0 161.7L485.0 161.8L486.0 163.3L487.0 162.3L488.0 159.1L489.0 159.1L490.0 159.3L491.0 160.9L492.0 162.9L493.0 161.3L494.0 159.3L495.0 159.8L496.0 162.4L497.0 160.1L498.0 159.3L499.0 160.9L500.0 161.3L501.0 161.3L502.0 160.1L503.0 159.7L504.0 159.0L505.0 161.7L506.0 163.3L507.0 161.6L508.0 160.1L509.0 158.7L510.0 159.1L511.0 160.8L512.0 161.1L513.0 161.0L514.0 160.0L515.0 160.1L516.0 161.0L517.0 162.3L518.0 164.0L519.0 162.7L520.0 160.3L521.0 160.3L522.0 160.4L523.0 159.8L524.0 160.3L525.0 160.0L526.0 160.6L527.0 161.5L528.0 161.1L529.0 161.0L530.0 160.1L531.0 159.4L532.0 159.9L533.0 160.2L534.0 160.6L535.0 161.1L536.0 159.7L537.0 159.7L538.0 159.7L539.0 159.1L540.0 160.0L541.0 158.7L542.0 159.0L543.0 161.1L544.0 160.8L545.0 160.3L546.0 160.1L547.0 159.6L548.0 159.7L549.0 160.0L550.0 160.4L551.0 159.7L552.0 159.9L553.0 161.1L554.0 160.7L555.0 160.2L556.0 160.8L557.0 159.7L558.0 159.6L559.0 161.4L560.0 161.2L561.0 161.3L562.0 160.4L563.0 159.8L564.0 161.0L565.0 161.6L566.0 161.2L567.0 159.4L568.0 159.7L569.0 162.2L570.0 162.6L571.0 161.8L572.0 159.4L573.0 160.0L574.0 161.3L575.0 158.1L576.0 158.6L577.0 159.6L578.0 158.0L579.0 158.8L580.0 161.2L581.0 161.4L582.0 160.5L583.0 162.4L584.0 163.6L585.0 161.9L586.0 160.2L587.0 159.2L588.0 158.7L589.0 160.3L590.0 161.3L591.0 161.0L592.0 161.5L593.0 160.7L594.0 159.7L595.0 161.1L596.0 161.7L597.0 162.0L598.0 161.8L599.0 160.6L600.0 160.5L601.0 159.9L602.0 158.0L603.0 159.5L604.0 161.0L605.0 160.7L606.0 159.2L607.0 158.6L608.0 159.6L609.0 159.1L610.0 157.6L611.0 158.1L612.0 161.0L613.0 161.6L614.0 160.3L615.0 159.9L616.0 161.1L617.0 158.6L618.0 157.8L619.0 160.8L620.0 161.6L621.0 162.6L622.0 163.1L623.0 161.8L624.0 161.0L625.0 161.5L626.0 160.7L627.0 159.9L628.0 161.3L629.0 163.1L630.0 162.1L631.0 160.3L632.0 160.6L633.0 161.9L634.0 161.7L635.0 161.8L636.0 160.9L637.0 159.4L638.0 160.1L639.0 161.0L640.0 162.2L641.0 160.0L642.0 158.2L643.0 159.9L644.0 160.2L645.0 158.5L646.0 160.0L647.0 161.9L648.0 161.4L649.0 160.5L650.0 161.0L651.0 161.2L652.0 161.3L653.0 160.7L654.0 158.9L655.0 159.9L656.0 160.1L657.0 160.5L658.0 161.4L659.0 159.9L660.0 159.8L661.0 160.3L662.0 161.1L663.0 160.8L664.0 159.6L665.0 161.3L666.0 163.7L667.0 164.5L668.0 162.5L669.0 160.9L670.0 162.2L671.0 161.9L672.0 159.6L673.0 159.8L674.0 161.1L675.0 160.3L676.0 158.4L677.0 157.8L678.0 159.9L679.0 160.6L680.0 159.8L681.0 160.7L682.0 161.4L683.0 161.0L684.0 160.9L685.0 160.3L686.0 159.6L687.0 159.5L688.0 160.8L689.0 161.8L690.0 160.0L691.0 159.8L692.0 160.2L693.0 161.2L694.0 160.0L695.0 158.4L696.0 159.5L697.0 162.8L698.0 164.0L699.0 161.6L700.0 161.4L701.0 163.4L702.0 162.6L703.0 160.3L704.0 161.7L705.0 162.5L706.0 162.0L707.0 161.1L708.0 162.2L709.0 164.3L710.0 163.1L711.0 162.1L712.0 159.8L713.0 159.7L714.0 161.4L715.0 161.3L716.0 162.1L717.0 161.4L718.0 159.2L719.0 159.9L720.0 160.8L721.0 160.1L722.0 160.3L723.0 160.3L724.0 158.7L725.0 160.2L726.0 162.5" fill="none" stroke="#3953a4" stroke-width="2.7" stroke-linejoin="round"/>
<path d="M53.3 474L61.3 474L60.5 485L59 490L58 500L55 506L53.3 505Z" fill="#ed1c24"/>
<path d="M772.5 156.6L773.5 156.6L774.5 156.6L775.5 156.6L776.5 156.6L777.5 156.6L778.5 156.6L779.5 156.6L780.5 156.6L781.5 156.6L782.5 156.6L783.5 156.6L784.5 156.6L785.5 156.6L786.5 156.6L787.5 156.6L788.5 156.6L789.5 156.6L790.5 156.6L791.5 156.6L792.5 156.6L793.5 156.6L794.5 156.6L795.5 156.6L796.5 156.6L797.5 156.6L798.5 156.6L799.5 156.6L800.5 156.6L801.5 156.6L802.5 156.6L803.5 156.6L804.5 156.6L805.5 156.6L806.5 156.6L807.5 156.6L808.5 156.6L809.5 156.6L810.5 156.6L811.5 156.6L812.5 156.6L813.5 156.6L814.5 156.6L815.5 156.6L816.5 156.6L817.5 156.6L818.5 156.6L819.5 156.6L820.5 156.6L821.5 156.6L822.5 156.6L823.5 156.6L824.5 156.6L825.5 156.6L826.5 156.6L827.5 156.6L828.5 156.6L829.5 156.6L830.5 156.6L831.5 156.6L832.5 156.6L833.5 156.6L834.5 156.6L835.5 156.6L836.5 156.6L837.5 156.6L838.5 156.6L839.5 156.6L840.5 156.6L841.5 156.6L842.5 156.6L843.5 156.6L844.5 156.6L845.5 187.2L846.5 271.7L847.5 312.1L848.5 330.0L849.5 357.0L850.5 386.7L851.5 412.2L852.5 435.4L853.5 455.0L854.5 472.2L855.5 486.0L856.5 492.6L857.5 496.9L858.5 500.1L859.5 502.3L860.5 503.6L861.5 504.8L862.5 505.8L863.5 506.5L864.5 507.0L865.5 507.1L866.5 506.2L867.5 504.3L868.5 502.1L869.5 499.9L870.5 498.1L871.5 496.3L872.5 494.6L873.5 492.9L874.5 491.3L875.5 489.6L876.5 487.9L877.5 486.2L878.5 484.6L879.5 482.9L880.5 481.3L881.5 479.7L882.5 478.1L883.5 476.5L884.5 474.8L885.5 473.2L886.5 471.7L887.5 470.1L888.5 468.5L889.5 466.9L890.5 465.3L891.5 463.8L892.5 462.2L893.5 460.7L894.5 459.1L895.5 457.6L896.5 456.0L897.5 454.5L898.5 452.9L899.5 451.4L900.5 449.9L901.5 448.4L902.5 446.8L903.5 445.3L904.5 443.8L905.5 442.3L906.5 440.8L907.5 439.3L908.5 437.8L909.5 436.3L910.5 434.8L911.5 433.4L912.5 431.9L913.5 430.4L914.5 428.9L915.5 427.5L916.5 426.0L917.5 424.6L918.5 423.1L919.5 421.7L920.5 420.2L921.5 418.8L922.5 417.4L923.5 416.0L924.5 414.5L925.5 413.1L926.5 411.7L927.5 410.3L928.5 408.9L929.5 407.5L930.5 406.2L931.5 404.8L932.5 403.4L933.5 402.0L934.5 400.7L935.5 399.3L936.5 398.0L937.5 396.6L938.5 395.3L939.5 394.0L940.5 392.7L941.5 391.3L942.5 390.0L943.5 388.7L944.5 387.4L945.5 386.1L946.5 384.9L947.5 383.6L948.5 382.3L949.5 381.1L950.5 379.8L951.5 378.6L952.5 377.3L953.5 376.1L954.5 374.9L955.5 373.6L956.5 372.4L957.5 371.2L958.5 370.0L959.5 368.9L960.5 367.7L961.5 366.5L962.5 365.3L963.5 364.2L964.5 363.0L965.5 361.9L966.5 360.8L967.5 359.6L968.5 358.5L969.5 357.4L970.5 356.3L971.5 355.2L972.5 354.1L973.5 353.0L974.5 352.0L975.5 350.9L976.5 349.8L977.5 348.8L978.5 347.7L979.5 346.7L980.5 345.7L981.5 344.6L982.5 343.6L983.5 342.6L984.5 341.6L985.5 340.6L986.5 339.6L987.5 338.6L988.5 337.6L989.5 336.6L990.5 335.7L991.5 334.7L992.5 333.7L993.5 332.8L994.5 331.8L995.5 330.9L996.5 329.9L997.5 329.0L998.5 328.0L999.5 327.1L1000.5 326.2L1001.5 325.2L1002.5 324.3L1003.5 323.4L1004.5 322.5L1005.5 321.6L1006.5 320.7L1007.5 319.8L1008.5 318.9L1009.5 318.0L1010.5 317.1L1011.5 316.2L1012.5 315.3L1013.5 314.4L1014.5 313.6L1015.5 312.7L1016.5 311.8L1017.5 311.0L1018.5 310.1L1019.5 309.2L1020.5 308.4L1021.5 307.5L1022.5 306.6L1023.5 305.8L1024.5 304.9L1025.5 304.1L1026.5 303.2L1027.5 302.4L1028.5 301.5L1029.5 300.7L1030.5 299.8L1031.5 299.0L1032.5 298.2L1033.5 297.3L1034.5 296.5L1035.5 295.6L1036.5 294.8L1037.5 294.0L1038.5 293.2L1039.5 292.3L1040.5 291.5L1041.5 290.7L1042.5 289.8L1043.5 289.0L1044.5 288.2L1045.5 287.4L1046.5 286.6L1047.5 285.8L1048.5 285.0L1049.5 284.2L1050.5 283.4L1051.5 282.6L1052.5 281.8L1053.5 281.0L1054.5 280.2L1055.5 279.4L1056.5 278.6L1057.5 277.8L1058.5 277.1L1059.5 276.3L1060.5 275.5L1061.5 274.8L1062.5 274.0L1063.5 273.3L1064.5 272.5L1065.5 271.8L1066.5 271.0L1067.5 270.3L1068.5 269.5L1069.5 268.8L1070.5 268.1L1071.5 267.4L1072.5 266.6L1073.5 265.9L1074.5 265.2L1075.5 264.5L1076.5 263.8L1077.5 263.1L1078.5 262.5L1079.5 261.8L1080.5 261.1L1081.5 260.4L1082.5 259.8L1083.5 259.1L1084.5 258.4L1085.5 257.8L1086.5 257.1L1087.5 256.5L1088.5 255.8L1089.5 255.2L1090.5 254.6L1091.5 253.9L1092.5 253.3L1093.5 252.7L1094.5 252.1L1095.5 251.5L1096.5 250.9L1097.5 250.3L1098.5 249.7L1099.5 249.1L1100.5 248.5L1101.5 247.9L1102.5 247.3L1103.5 246.8L1104.5 246.2L1105.5 245.6L1106.5 245.1L1107.5 244.5L1108.5 243.9L1109.5 243.4L1110.5 242.8L1111.5 242.3L1112.5 241.8L1113.5 241.2L1114.5 240.7L1115.5 240.2L1116.5 239.6L1117.5 239.1L1118.5 238.6L1119.5 238.1L1120.5 237.6L1121.5 237.1L1122.5 236.6L1123.5 236.1L1124.5 235.6L1125.5 235.1L1126.5 234.6L1127.5 234.1L1128.5 233.6L1129.5 233.2L1130.5 232.7L1131.5 232.2L1132.5 231.8L1133.5 231.3L1134.5 230.8L1135.5 230.4L1136.5 229.9L1137.5 229.5L1138.5 229.0L1139.5 228.6L1140.5 228.2L1141.5 227.7L1142.5 227.3L1143.5 226.9L1144.5 226.5L1145.5 226.0L1146.5 225.6L1147.5 225.2L1148.5 224.8L1149.5 224.4L1150.5 224.0L1151.5 223.6L1152.5 223.2L1153.5 222.8L1154.5 222.4L1155.5 222.0L1156.5 221.6L1157.5 221.2L1158.5 220.9L1159.5 220.5L1160.5 220.1L1161.5 219.7L1162.5 219.4L1163.5 219.0L1164.5 218.6L1165.5 218.3L1166.5 217.9L1167.5 217.6L1168.5 217.2L1169.5 216.9L1170.5 216.5L1171.5 216.2L1172.5 215.8L1173.5 215.5L1174.5 215.2L1175.5 214.8L1176.5 214.5L1177.5 214.2L1178.5 213.8L1179.5 213.5L1180.5 213.2L1181.5 212.9L1182.5 212.6L1183.5 212.3L1184.5 212.0L1185.5 211.6L1186.5 211.3L1187.5 211.0L1188.5 210.7L1189.5 210.4L1190.5 210.1L1191.5 209.8L1192.5 209.6L1193.5 209.3L1194.5 209.0L1195.5 208.7L1196.5 208.4L1197.5 208.1L1198.5 207.9L1199.5 207.6L1200.5 207.3L1201.5 207.0L1202.5 206.8L1203.5 206.5L1204.5 206.2L1205.5 206.0L1206.5 205.7L1207.5 205.4L1208.5 205.2L1209.5 204.9L1210.5 204.7L1211.5 204.4L1212.5 204.2L1213.5 203.9L1214.5 203.7L1215.5 203.4L1216.5 203.2L1217.5 202.9L1218.5 202.7L1219.5 202.5L1220.5 202.2L1221.5 202.0L1222.5 201.8L1223.5 201.5L1224.5 201.3L1225.5 201.1L1226.5 200.9L1227.5 200.6L1228.5 200.4L1229.5 200.2L1230.5 200.0L1231.5 199.8L1232.5 199.6L1233.5 199.3L1234.5 199.1L1235.5 198.9L1236.5 198.7L1237.5 198.5L1238.5 198.3L1239.5 198.1L1240.5 197.9L1241.5 197.7L1242.5 197.5L1243.5 197.3L1244.5 197.1L1245.5 196.9L1246.5 196.7L1247.5 196.5L1248.5 196.4L1249.5 196.2L1250.5 196.0L1251.5 195.8L1252.5 195.6L1253.5 195.4L1254.5 195.3L1255.5 195.1L1256.5 194.9L1257.5 194.7L1258.5 194.6L1259.5 194.4L1260.5 194.2L1261.5 194.0L1262.5 193.9L1263.5 193.7L1264.5 193.5L1265.5 193.4L1266.5 193.2L1267.5 193.0L1268.5 192.9L1269.5 192.7L1270.5 192.6L1271.5 192.4L1272.5 192.2L1273.5 192.1L1274.5 191.9L1275.5 191.8L1276.5 191.6L1277.5 191.5L1278.5 191.3L1279.5 191.2L1280.5 191.0L1281.5 190.9L1282.5 190.7L1283.5 190.6L1284.5 190.5L1285.5 190.3L1286.5 190.2L1287.5 190.0L1288.5 189.9L1289.5 189.8L1290.5 189.6L1291.5 189.5L1292.5 189.4L1293.5 189.2L1294.5 189.1L1295.5 189.0L1296.5 188.8L1297.5 188.7L1298.5 188.6L1299.5 188.4L1300.5 188.3L1301.5 188.2L1302.5 188.1L1303.5 187.9L1304.5 187.8L1305.5 187.7L1306.5 187.6L1307.5 187.4L1308.5 187.3L1309.5 187.2L1310.5 187.1L1311.5 186.9L1312.5 186.8L1313.5 186.7L1314.5 186.6L1315.5 186.5L1316.5 186.4L1317.5 186.2L1318.5 186.1L1319.5 186.0L1320.5 185.9L1321.5 185.8L1322.5 185.7L1323.5 185.6L1324.5 185.5L1325.5 185.4L1326.5 185.2L1327.5 185.1L1328.5 185.0L1329.5 184.9L1330.5 184.8L1331.5 184.7L1332.5 184.6L1333.5 184.5L1334.5 184.4L1335.5 184.3L1336.5 184.2L1337.5 184.1L1338.5 184.0L1339.5 183.9L1340.5 183.8L1341.5 183.7L1342.5 183.6L1343.5 183.5L1344.5 183.4L1345.5 183.3L1346.5 183.2L1347.5 183.1L1348.5 183.0L1349.5 182.9L1350.5 182.8L1351.5 182.7L1352.5 182.6L1353.5 182.6L1354.5 182.5L1355.5 182.4L1356.5 182.3L1357.5 182.2L1358.5 182.1L1359.5 182.0L1360.5 181.9L1361.5 181.9L1362.5 181.8L1363.5 181.7L1364.5 181.6L1365.5 181.5L1366.5 181.4L1367.5 181.4L1368.5 181.3L1369.5 181.2L1370.5 181.1L1371.5 181.0L1372.5 181.0L1373.5 180.9L1374.5 180.8L1375.5 180.7L1376.5 180.6L1377.5 180.6L1378.5 180.5L1379.5 180.4L1380.5 180.3L1381.5 180.3L1382.5 180.2L1383.5 180.1L1384.5 180.1L1385.5 180.0L1386.5 179.9L1387.5 179.8L1388.5 179.8L1389.5 179.7L1390.5 179.6L1391.5 179.6L1392.5 179.5L1393.5 179.4L1394.5 179.4L1395.5 179.3L1396.5 179.2L1397.5 179.2L1398.5 179.1L1399.5 179.0L1400.5 179.0L1401.5 178.9L1402.5 178.9L1403.5 178.8L1404.5 178.7L1405.5 178.7L1406.5 178.6L1407.5 178.6L1408.5 178.5L1409.5 178.4L1410.5 178.4L1411.5 178.3L1412.5 178.3L1413.5 178.2L1414.5 178.2L1415.5 178.1L1416.5 178.1L1417.5 178.0L1418.5 177.9L1419.5 177.9L1420.5 177.8L1421.5 177.8L1422.5 177.7L1423.5 177.7L1424.5 177.6L1425.5 177.6L1426.5 177.5L1427.5 177.5L1428.5 177.4L1429.5 177.4L1430.5 177.4L1431.5 177.3L1432.5 177.3L1433.5 177.2L1434.5 177.2L1435.5 177.1L1436.5 177.1L1437.5 177.0L1438.5 177.0L1439.5 177.0L1440.5 176.9L1441.5 176.9L1442.5 176.8L1443.5 176.8L1444.5 176.8L1445.5 176.7L1446.5 176.7L1447.5 176.6L1448.5 176.6L1449.5 176.6L1450.5 176.5L1451.5 176.5L1452.5 176.4L1453.5 176.4L1454.5 176.4L1455.5 176.3L1456.5 176.3L1457.5 176.3L1458.5 176.2L1459.5 176.2L1460.5 176.2L1461.5 176.1L1462.5 176.1L1463.5 176.1L1464.5 176.1L1465.5 176.0L1466.5 176.0L1467.5 176.0L1468.5 175.9L1469.5 175.9L1470.5 175.9L1471.5 175.8L1472.5 175.8L1473.5 175.8L1474.5 175.8L1475.5 175.7L1476.5 175.7L1477.5 175.7L1478.5 175.7L1479.5 175.6L1480.5 175.6L1481.5 175.6L1482.5 175.6L1483.5 175.5L1484.5 175.5L1485.5 175.5L1486.5 175.5L1487.5 175.5L1488.5 175.4L1489.5 175.4L1490.5 175.4L1491.5 175.4L1492.5 175.4L1493.5 175.3L1494.5 175.3L1495.5 175.3" fill="none" stroke="#111" stroke-width="2.7" stroke-linejoin="round"/>
<path d="M773.0 153.0L773.5 159.1L774.0 158.4L774.5 150.5L775.0 151.4L775.5 150.4L776.0 155.4L776.5 152.5L777.0 156.2L777.5 144.3L778.0 160.0L778.5 152.4L779.0 155.9L779.5 152.2L780.0 151.1L780.5 154.9L781.0 156.6L781.5 148.6L782.0 152.1L782.5 156.0L783.0 148.8L783.5 145.8L784.0 154.6L784.5 149.7L785.0 144.0L785.5 149.1L786.0 150.6L786.5 147.3L787.0 147.7L787.5 153.0L788.0 156.9L788.5 151.7L789.0 149.4L789.5 154.6L790.0 156.1L790.5 151.4L791.0 155.3L791.5 157.6L792.0 152.4L792.5 149.1L793.0 154.4L793.5 153.9L794.0 157.9L794.5 146.9L795.0 149.8L795.5 148.9L796.0 144.8L796.5 153.4L797.0 155.2L797.5 149.4L798.0 159.2L798.5 156.6L799.0 155.7L799.5 154.6L800.0 157.2L800.5 146.7L801.0 155.6L801.5 155.6L802.0 143.6L802.5 154.4L803.0 151.6L803.5 156.4L804.0 150.8L804.5 152.7L805.0 154.4L805.5 148.8L806.0 155.6L806.5 152.3L807.0 155.1L807.5 150.4L808.0 158.0L808.5 155.6L809.0 152.0L809.5 155.7L810.0 158.6L810.5 161.0L811.0 145.6L811.5 156.9L812.0 154.9L812.5 152.4L813.0 148.2L813.5 158.6L814.0 147.0L814.5 155.4L815.0 158.8L815.5 145.4L816.0 151.4L816.5 146.8L817.0 153.9L817.5 159.8L818.0 162.1L818.5 144.6L819.0 150.2L819.5 156.0L820.0 160.1L820.5 154.7L821.0 149.4L821.5 154.2L822.0 152.7L822.5 151.9L823.0 149.4L823.5 154.6L824.0 154.2L824.5 152.4L825.0 151.8L825.5 146.9L826.0 150.6L826.5 158.3L827.0 152.5L827.5 146.2L828.0 158.9L828.5 155.2L829.0 162.5L829.5 153.1L830.0 150.7L830.5 146.1L831.0 158.9L831.5 164.6L832.0 146.5L832.5 149.8L833.0 155.5L833.5 149.0L834.0 155.2L834.5 151.2L835.0 156.6L835.5 157.8L836.0 152.9L836.5 153.6L837.0 150.9L837.5 154.3L838.0 143.0L838.5 146.1L839.0 156.5L839.5 150.1L840.0 155.5L840.5 155.3L841.0 158.9L841.5 156.5L842.0 157.5L842.5 152.3L843.0 149.6L843.5 149.4L844.0 150.6L844.5 147.6L845.0 153.8L845.5 152.4L846.0 154.0L846.5 151.2L847.0 144.0L847.5 152.5L848.0 153.8L848.5 157.8L849.0 154.7L849.5 150.6L850.0 150.4L850.5 165.2L851.0 173.4L851.5 211.7L852.0 264.5L852.5 295.4L853.0 339.6L853.5 374.5L854.0 403.1L854.5 424.6L855.0 439.2L855.5 456.0L856.0 459.8L856.5 478.8L857.0 485.8L857.5 501.8L858.0 508.7L858.5 519.3L859.0 517.5L859.5 508.3L860.0 501.8L860.5 494.8L861.0 485.4L861.5 477.7L862.0 467.4L862.5 464.6L863.0 455.5L863.5 452.4L864.0 436.0L864.5 443.3L865.0 429.4L865.5 425.5L866.0 424.8L866.5 419.5L867.0 421.4L867.5 412.5L868.0 408.1L868.5 408.2L869.0 418.5L869.5 409.8L870.0 401.7L870.5 407.0L871.0 397.1L871.5 414.7L872.0 395.2L872.5 402.4L873.0 404.6L873.5 392.3L874.0 400.9L874.5 403.5L875.0 397.7L875.5 396.2L876.0 398.3L876.5 392.0L877.0 391.0L877.5 386.3L878.0 388.4L878.5 377.4L879.0 384.9L879.5 375.3L880.0 369.8L880.5 375.6L881.0 383.2L881.5 374.4L882.0 363.9L882.5 368.5L883.0 359.9L883.5 359.6L884.0 358.8L884.5 343.4L885.0 355.5L885.5 346.8L886.0 346.9L886.5 340.7L887.0 338.7L887.5 340.1L888.0 348.2L888.5 351.1L889.0 335.6L889.5 344.1L890.0 334.6L890.5 323.4L891.0 333.0L891.5 332.6L892.0 325.5L892.5 327.4L893.0 326.6L893.5 316.2L894.0 310.4L894.5 314.9L895.0 312.5L895.5 309.2L896.0 314.2L896.5 321.9L897.0 301.4L897.5 305.2L898.0 304.2L898.5 300.5L899.0 306.2L899.5 289.7L900.0 293.8L900.5 298.8L901.0 289.7L901.5 279.6L902.0 284.4L902.5 282.9L903.0 279.0L903.5 272.7L904.0 281.7L904.5 264.2L905.0 272.2L905.5 267.6L906.0 259.3L906.5 271.1L907.0 264.7L907.5 254.6L908.0 263.1L908.5 255.9L909.0 246.3L909.5 251.7L910.0 255.8L910.5 257.8L911.0 253.0L911.5 251.3L912.0 252.7L912.5 248.0L913.0 254.9L913.5 248.4L914.0 249.9L914.5 249.2L915.0 239.7L915.5 241.1L916.0 253.2L916.5 246.3L917.0 242.2L917.5 245.3L918.0 240.3L918.5 244.3L919.0 238.7L919.5 243.6L920.0 232.9L920.5 248.9L921.0 238.2L921.5 231.9L922.0 239.1L922.5 237.9L923.0 240.4L923.5 232.7L924.0 240.8L924.5 258.4L925.0 230.4L925.5 238.9L926.0 234.7L926.5 236.9L927.0 225.1L927.5 228.2L928.0 236.5L928.5 233.1L929.0 241.8L929.5 228.0L930.0 232.3L930.5 246.9L931.0 225.6L931.5 224.1L932.0 228.3L932.5 227.5L933.0 231.8L933.5 227.1L934.0 221.4L934.5 226.1L935.0 239.0L935.5 230.7L936.0 209.6L936.5 221.4L937.0 216.6L937.5 224.4L938.0 219.3L938.5 230.4L939.0 224.2L939.5 223.4L940.0 218.9L940.5 217.0L941.0 218.6L941.5 223.5L942.0 218.7L942.5 213.3L943.0 221.9L943.5 215.4L944.0 217.4L944.5 209.1L945.0 210.0L945.5 209.2L946.0 196.8L946.5 217.8L947.0 215.0L947.5 210.3L948.0 217.0L948.5 213.3L949.0 212.7L949.5 196.5L950.0 208.8L950.5 212.8L951.0 218.6L951.5 219.7L952.0 217.1L952.5 202.4L953.0 196.4L953.5 211.6L954.0 208.4L954.5 213.4L955.0 207.1L955.5 208.8L956.0 198.9L956.5 209.6L957.0 204.4L957.5 208.7L958.0 209.0L958.5 205.6L959.0 207.8L959.5 205.7L960.0 209.8L960.5 208.2L961.0 202.1L961.5 201.6L962.0 216.3L962.5 203.9L963.0 209.8L963.5 206.2L964.0 200.7L964.5 199.4L965.0 204.0L965.5 204.6L966.0 209.9L966.5 195.6L967.0 199.2L967.5 205.3L968.0 211.0L968.5 188.6L969.0 204.1L969.5 198.4L970.0 203.6L970.5 198.2L971.0 202.8L971.5 209.2L972.0 202.2L972.5 202.5L973.0 201.9L973.5 195.4L974.0 202.4L974.5 198.0L975.0 194.4L975.5 191.4L976.0 197.2L976.5 202.5L977.0 197.8L977.5 194.9L978.0 205.8L978.5 202.9L979.0 204.3L979.5 200.4L980.0 196.1L980.5 194.2L981.0 194.7L981.5 201.4L982.0 196.5L982.5 187.3L983.0 193.7L983.5 187.3L984.0 195.9L984.5 188.0L985.0 187.5L985.5 195.0L986.0 193.7L986.5 184.6L987.0 197.9L987.5 205.6L988.0 185.0L988.5 203.2L989.0 189.0L989.5 189.9L990.0 191.4L990.5 185.4L991.0 199.3L991.5 194.5L992.0 187.4L992.5 189.8L993.0 182.7L993.5 189.0L994.0 196.0L994.5 180.9L995.0 187.9L995.5 190.9L996.0 195.8L996.5 197.3L997.0 187.0L997.5 185.2L998.0 191.6L998.5 186.9L999.0 187.0L999.5 194.6L1000.0 197.8L1000.5 189.6L1001.0 186.8L1001.5 188.2L1002.0 176.9L1002.5 187.2L1003.0 181.2L1003.5 200.3L1004.0 190.8L1004.5 185.5L1005.0 185.3L1005.5 172.1L1006.0 189.9L1006.5 194.9L1007.0 181.5L1007.5 189.2L1008.0 189.2L1008.5 176.5L1009.0 190.0L1009.5 192.1L1010.0 185.7L1010.5 184.0L1011.0 188.4L1011.5 175.6L1012.0 184.3L1012.5 189.3L1013.0 176.7L1013.5 188.6L1014.0 180.8L1014.5 171.7L1015.0 182.1L1015.5 177.4L1016.0 184.1L1016.5 176.0L1017.0 187.6L1017.5 178.0L1018.0 183.6L1018.5 178.4L1019.0 172.6L1019.5 187.5L1020.0 182.2L1020.5 178.8L1021.0 174.2L1021.5 186.6L1022.0 184.2L1022.5 178.6L1023.0 181.4L1023.5 174.6L1024.0 174.5L1024.5 175.4L1025.0 179.6L1025.5 180.8L1026.0 175.4L1026.5 182.8L1027.0 182.9L1027.5 179.6L1028.0 183.8L1028.5 177.0L1029.0 177.7L1029.5 180.5L1030.0 177.8L1030.5 181.8L1031.0 171.5L1031.5 184.7L1032.0 173.6L1032.5 176.5L1033.0 170.3L1033.5 180.0L1034.0 183.2L1034.5 181.2L1035.0 180.7L1035.5 168.8L1036.0 172.5L1036.5 174.0L1037.0 171.5L1037.5 181.4L1038.0 176.7L1038.5 175.6L1039.0 177.9L1039.5 170.8L1040.0 170.9L1040.5 173.8L1041.0 177.5L1041.5 179.5L1042.0 177.6L1042.5 179.9L1043.0 168.1L1043.5 170.7L1044.0 179.8L1044.5 167.8L1045.0 171.6L1045.5 174.2L1046.0 175.3L1046.5 178.8L1047.0 173.8L1047.5 172.5L1048.0 178.5L1048.5 171.5L1049.0 174.8L1049.5 179.3L1050.0 171.2L1050.5 170.0L1051.0 172.7L1051.5 175.4L1052.0 174.8L1052.5 173.1L1053.0 174.9L1053.5 162.5L1054.0 168.1L1054.5 179.8L1055.0 167.6L1055.5 165.6L1056.0 166.1L1056.5 167.4L1057.0 170.6L1057.5 166.7L1058.0 172.3L1058.5 178.9L1059.0 170.4L1059.5 177.6L1060.0 172.2L1060.5 165.7L1061.0 169.5L1061.5 166.1L1062.0 173.9L1062.5 165.2L1063.0 176.2L1063.5 172.8L1064.0 161.0L1064.5 173.5L1065.0 176.8L1065.5 166.3L1066.0 174.1L1066.5 161.6L1067.0 170.6L1067.5 162.1L1068.0 171.5L1068.5 161.4L1069.0 157.6L1069.5 170.8L1070.0 179.0L1070.5 167.0L1071.0 172.4L1071.5 169.2L1072.0 167.2L1072.5 171.2L1073.0 175.6L1073.5 163.0L1074.0 170.7L1074.5 169.7L1075.0 162.0L1075.5 173.3L1076.0 176.4L1076.5 163.8L1077.0 175.3L1077.5 168.0L1078.0 166.9L1078.5 174.0L1079.0 168.4L1079.5 167.5L1080.0 173.8L1080.5 172.7L1081.0 171.0L1081.5 161.1L1082.0 160.3L1082.5 171.7L1083.0 162.9L1083.5 167.4L1084.0 162.1L1084.5 165.8L1085.0 161.1L1085.5 173.3L1086.0 162.1L1086.5 165.8L1087.0 165.4L1087.5 171.2L1088.0 160.1L1088.5 165.8L1089.0 165.0L1089.5 168.0L1090.0 167.7L1090.5 163.8L1091.0 165.3L1091.5 164.0L1092.0 167.4L1092.5 165.0L1093.0 162.6L1093.5 165.1L1094.0 166.7L1094.5 174.4L1095.0 163.0L1095.5 166.2L1096.0 170.9L1096.5 156.3L1097.0 157.6L1097.5 159.8L1098.0 164.2L1098.5 174.5L1099.0 166.1L1099.5 169.3L1100.0 163.4L1100.5 154.3L1101.0 154.8L1101.5 168.3L1102.0 164.8L1102.5 158.8L1103.0 168.5L1103.5 157.7L1104.0 168.4L1104.5 169.6L1105.0 160.6L1105.5 159.2L1106.0 166.9L1106.5 159.1L1107.0 166.9L1107.5 158.6L1108.0 166.5L1108.5 163.6L1109.0 161.5L1109.5 159.6L1110.0 164.0L1110.5 155.5L1111.0 161.8L1111.5 161.3L1112.0 165.5L1112.5 157.8L1113.0 170.7L1113.5 161.4L1114.0 158.1L1114.5 168.0L1115.0 169.0L1115.5 161.7L1116.0 158.8L1116.5 162.3L1117.0 160.9L1117.5 160.9L1118.0 168.2L1118.5 163.6L1119.0 162.6L1119.5 163.3L1120.0 161.7L1120.5 165.1L1121.0 165.2L1121.5 160.3L1122.0 162.1L1122.5 171.0L1123.0 163.2L1123.5 160.8L1124.0 177.0L1124.5 161.4L1125.0 157.1L1125.5 163.9L1126.0 157.8L1126.5 159.3L1127.0 162.4L1127.5 160.6L1128.0 158.1L1128.5 158.9L1129.0 158.7L1129.5 165.3L1130.0 152.1L1130.5 158.6L1131.0 168.5L1131.5 158.6L1132.0 166.3L1132.5 165.6L1133.0 159.9L1133.5 155.1L1134.0 167.3L1134.5 162.9L1135.0 164.0L1135.5 160.6L1136.0 164.8L1136.5 165.4L1137.0 156.2L1137.5 165.5L1138.0 160.7L1138.5 157.9L1139.0 158.8L1139.5 167.0L1140.0 163.6L1140.5 153.1L1141.0 160.1L1141.5 159.2L1142.0 159.0L1142.5 157.7L1143.0 154.2L1143.5 162.8L1144.0 156.0L1144.5 158.1L1145.0 157.2L1145.5 156.7L1146.0 162.1L1146.5 160.7L1147.0 156.8L1147.5 155.7L1148.0 157.4L1148.5 162.7L1149.0 159.6L1149.5 159.9L1150.0 157.8L1150.5 158.0L1151.0 159.7L1151.5 152.1L1152.0 164.8L1152.5 155.9L1153.0 156.7L1153.5 163.6L1154.0 159.5L1154.5 158.8L1155.0 156.5L1155.5 152.9L1156.0 159.2L1156.5 162.9L1157.0 155.2L1157.5 163.4L1158.0 154.3L1158.5 155.7L1159.0 160.2L1159.5 158.3L1160.0 160.8L1160.5 155.5L1161.0 154.4L1161.5 151.4L1162.0 153.7L1162.5 154.2L1163.0 152.9L1163.5 159.1L1164.0 155.6L1164.5 150.7L1165.0 166.9L1165.5 154.9L1166.0 153.3L1166.5 159.4L1167.0 162.6L1167.5 153.6L1168.0 152.4L1168.5 154.1L1169.0 161.7L1169.5 156.5L1170.0 154.7L1170.5 157.4L1171.0 161.8L1171.5 152.5L1172.0 156.1L1172.5 152.5L1173.0 165.2L1173.5 163.9L1174.0 160.7L1174.5 156.8L1175.0 159.6L1175.5 149.7L1176.0 158.2L1176.5 152.4L1177.0 152.4L1177.5 152.6L1178.0 155.9L1178.5 159.1L1179.0 159.5L1179.5 155.8L1180.0 153.6L1180.5 159.4L1181.0 156.5L1181.5 161.1L1182.0 153.6L1182.5 147.1L1183.0 155.1L1183.5 164.4L1184.0 158.4L1184.5 156.1L1185.0 159.9L1185.5 158.5L1186.0 158.3L1186.5 154.8L1187.0 156.9L1187.5 157.3L1188.0 154.3L1188.5 152.6L1189.0 157.0L1189.5 159.9L1190.0 158.8L1190.5 158.2L1191.0 158.2L1191.5 165.5L1192.0 157.3L1192.5 160.0L1193.0 163.2L1193.5 156.5L1194.0 157.2L1194.5 160.7L1195.0 162.2L1195.5 157.3L1196.0 157.5L1196.5 156.5L1197.0 152.0L1197.5 157.6L1198.0 155.3L1198.5 150.1L1199.0 155.6L1199.5 150.1L1200.0 152.6L1200.5 156.1L1201.0 152.8L1201.5 159.8L1202.0 150.9L1202.5 156.9L1203.0 157.9L1203.5 161.0L1204.0 159.1L1204.5 156.7L1205.0 156.2L1205.5 155.7L1206.0 159.8L1206.5 153.6L1207.0 157.6L1207.5 155.5L1208.0 156.6L1208.5 154.9L1209.0 163.2L1209.5 153.6L1210.0 156.6L1210.5 156.7L1211.0 157.8L1211.5 157.3L1212.0 157.2L1212.5 159.1L1213.0 150.5L1213.5 155.7L1214.0 151.4L1214.5 154.4L1215.0 151.5L1215.5 152.3L1216.0 155.4L1216.5 160.4L1217.0 157.5L1217.5 156.5L1218.0 160.3L1218.5 152.2L1219.0 148.3L1219.5 154.0L1220.0 154.5L1220.5 159.7L1221.0 162.8L1221.5 150.8L1222.0 163.9L1222.5 160.8L1223.0 158.3L1223.5 156.6L1224.0 163.7L1224.5 155.6L1225.0 153.7L1225.5 155.8L1226.0 150.6L1226.5 156.9L1227.0 154.9L1227.5 156.4L1228.0 156.5L1228.5 151.6L1229.0 159.8L1229.5 151.8L1230.0 158.3L1230.5 149.8L1231.0 156.5L1231.5 152.4L1232.0 155.3L1232.5 153.0L1233.0 147.7L1233.5 151.4L1234.0 158.4L1234.5 157.3L1235.0 150.1L1235.5 147.9L1236.0 152.1L1236.5 154.4L1237.0 152.9L1237.5 152.3L1238.0 158.0L1238.5 158.4L1239.0 157.6L1239.5 151.9L1240.0 150.4L1240.5 154.4L1241.0 150.2L1241.5 158.0L1242.0 155.3L1242.5 153.4L1243.0 159.4L1243.5 157.6L1244.0 157.9L1244.5 159.1L1245.0 157.1L1245.5 150.7L1246.0 153.6L1246.5 158.4L1247.0 152.3L1247.5 155.1L1248.0 156.3L1248.5 159.8L1249.0 159.4L1249.5 158.0L1250.0 154.3L1250.5 158.0L1251.0 156.7L1251.5 154.4L1252.0 159.5L1252.5 156.6L1253.0 152.3L1253.5 159.2L1254.0 154.0L1254.5 156.9L1255.0 149.7L1255.5 154.8L1256.0 151.6L1256.5 151.6L1257.0 148.4L1257.5 162.1L1258.0 154.3L1258.5 155.6L1259.0 158.6L1259.5 154.4L1260.0 156.6L1260.5 150.2L1261.0 155.5L1261.5 154.5L1262.0 156.5L1262.5 155.4L1263.0 150.1L1263.5 148.5L1264.0 151.4L1264.5 157.3L1265.0 159.0L1265.5 156.2L1266.0 147.5L1266.5 145.7L1267.0 152.7L1267.5 153.7L1268.0 152.7L1268.5 156.0L1269.0 154.2L1269.5 150.7L1270.0 151.8L1270.5 155.3L1271.0 155.0L1271.5 154.5L1272.0 162.5L1272.5 153.9L1273.0 155.2L1273.5 151.4L1274.0 154.2L1274.5 156.5L1275.0 156.7L1275.5 154.2L1276.0 155.9L1276.5 154.9L1277.0 146.6L1277.5 143.6L1278.0 164.5L1278.5 157.6L1279.0 154.5L1279.5 148.8L1280.0 150.6L1280.5 159.3L1281.0 145.3L1281.5 153.6L1282.0 157.7L1282.5 155.2L1283.0 157.3L1283.5 152.3L1284.0 162.9L1284.5 151.3L1285.0 151.9L1285.5 155.7L1286.0 159.6L1286.5 154.6L1287.0 161.6L1287.5 153.0L1288.0 150.7L1288.5 159.5L1289.0 160.1L1289.5 160.0L1290.0 151.1L1290.5 150.8L1291.0 150.8L1291.5 154.0L1292.0 156.7L1292.5 157.5L1293.0 149.9L1293.5 155.4L1294.0 154.8L1294.5 155.1L1295.0 154.7L1295.5 154.1L1296.0 156.8L1296.5 155.2L1297.0 155.6L1297.5 152.4L1298.0 156.1L1298.5 154.4L1299.0 147.6L1299.5 156.4L1300.0 153.9L1300.5 158.0L1301.0 154.3L1301.5 154.5L1302.0 155.5L1302.5 154.8L1303.0 153.3L1303.5 148.7L1304.0 161.1L1304.5 149.5L1305.0 153.7L1305.5 157.1L1306.0 156.1L1306.5 156.3L1307.0 161.3L1307.5 159.2L1308.0 155.9L1308.5 164.7L1309.0 151.4L1309.5 155.6L1310.0 153.6L1310.5 153.0L1311.0 155.9L1311.5 159.8L1312.0 152.5L1312.5 152.5L1313.0 157.4L1313.5 156.7L1314.0 161.6L1314.5 161.4L1315.0 155.7L1315.5 153.8L1316.0 155.6L1316.5 154.3L1317.0 150.3L1317.5 155.0L1318.0 154.3L1318.5 154.1L1319.0 153.5L1319.5 160.7L1320.0 157.3L1320.5 158.1L1321.0 152.9L1321.5 151.5L1322.0 154.0L1322.5 155.8L1323.0 153.8L1323.5 154.3L1324.0 158.3L1324.5 156.1L1325.0 151.6L1325.5 153.5L1326.0 152.8L1326.5 155.6L1327.0 151.0L1327.5 154.4L1328.0 157.4L1328.5 155.1L1329.0 151.9L1329.5 152.9L1330.0 155.5L1330.5 156.7L1331.0 157.9L1331.5 154.6L1332.0 150.6L1332.5 161.7L1333.0 156.1L1333.5 156.5L1334.0 156.1L1334.5 151.5L1335.0 154.0L1335.5 156.0L1336.0 158.6L1336.5 155.3L1337.0 144.4L1337.5 154.3L1338.0 156.3L1338.5 159.6L1339.0 157.6L1339.5 163.6L1340.0 160.0L1340.5 159.7L1341.0 159.6L1341.5 150.4L1342.0 158.0L1342.5 157.2L1343.0 153.4L1343.5 157.2L1344.0 156.6L1344.5 153.6L1345.0 154.7L1345.5 154.3L1346.0 156.0L1346.5 153.7L1347.0 157.1L1347.5 148.6L1348.0 154.2L1348.5 150.2L1349.0 153.6L1349.5 157.0L1350.0 155.3L1350.5 154.8L1351.0 156.3L1351.5 160.6L1352.0 151.4L1352.5 155.9L1353.0 150.1L1353.5 153.6L1354.0 155.8L1354.5 152.3L1355.0 156.0L1355.5 157.8L1356.0 151.2L1356.5 155.0L1357.0 154.0L1357.5 148.6L1358.0 154.6L1358.5 152.5L1359.0 159.9L1359.5 152.3L1360.0 161.1L1360.5 153.5L1361.0 162.0L1361.5 157.2L1362.0 156.9L1362.5 158.1L1363.0 158.4L1363.5 160.1L1364.0 161.3L1364.5 154.1L1365.0 151.0L1365.5 146.2L1366.0 154.0L1366.5 158.0L1367.0 156.7L1367.5 153.8L1368.0 154.2L1368.5 153.2L1369.0 154.4L1369.5 156.7L1370.0 149.3L1370.5 157.9L1371.0 150.4L1371.5 154.8L1372.0 153.2L1372.5 154.1L1373.0 151.8L1373.5 151.4L1374.0 154.6L1374.5 151.7L1375.0 162.6L1375.5 154.0L1376.0 153.1L1376.5 153.5L1377.0 151.7L1377.5 146.9L1378.0 152.1L1378.5 156.5L1379.0 150.2L1379.5 155.4L1380.0 151.2L1380.5 152.7L1381.0 156.4L1381.5 157.1L1382.0 156.9L1382.5 153.0L1383.0 158.4L1383.5 153.9L1384.0 156.6L1384.5 157.8L1385.0 154.4L1385.5 152.7L1386.0 157.5L1386.5 151.6L1387.0 152.4L1387.5 150.5L1388.0 158.3L1388.5 154.9L1389.0 147.7L1389.5 158.0L1390.0 162.6L1390.5 161.6L1391.0 153.5L1391.5 155.7L1392.0 157.2L1392.5 158.5L1393.0 155.5L1393.5 151.7L1394.0 158.0L1394.5 157.5L1395.0 150.8L1395.5 154.2L1396.0 156.4L1396.5 155.4L1397.0 157.2L1397.5 158.2L1398.0 157.3L1398.5 156.4L1399.0 150.8L1399.5 157.5L1400.0 160.2L1400.5 162.2L1401.0 155.3L1401.5 155.3L1402.0 160.4L1402.5 160.4L1403.0 156.6L1403.5 157.9L1404.0 152.8L1404.5 157.4L1405.0 152.6L1405.5 154.9L1406.0 155.0L1406.5 153.8L1407.0 148.1L1407.5 152.6L1408.0 156.5L1408.5 155.2L1409.0 154.0L1409.5 156.9L1410.0 157.8L1410.5 158.3L1411.0 152.6L1411.5 155.5L1412.0 154.2L1412.5 152.3L1413.0 150.2L1413.5 153.4L1414.0 152.4L1414.5 162.8L1415.0 154.2L1415.5 154.6L1416.0 154.0L1416.5 161.8L1417.0 152.1L1417.5 155.4L1418.0 152.7L1418.5 154.9L1419.0 155.2L1419.5 159.1L1420.0 150.4L1420.5 155.2L1421.0 164.1L1421.5 153.6L1422.0 154.7L1422.5 152.2L1423.0 146.3L1423.5 154.9L1424.0 159.3L1424.5 153.7L1425.0 148.9L1425.5 156.2L1426.0 155.5L1426.5 158.7L1427.0 158.4L1427.5 154.0L1428.0 156.6L1428.5 149.1L1429.0 159.0L1429.5 155.9L1430.0 158.9L1430.5 158.8L1431.0 154.2L1431.5 154.7L1432.0 152.2L1432.5 148.1L1433.0 155.6L1433.5 155.7L1434.0 151.4L1434.5 157.6L1435.0 157.4L1435.5 156.7L1436.0 152.5L1436.5 149.1L1437.0 157.8L1437.5 157.2L1438.0 154.7L1438.5 153.6L1439.0 154.1L1439.5 154.6L1440.0 153.3L1440.5 148.2L1441.0 157.7L1441.5 149.9L1442.0 153.9L1442.5 154.0L1443.0 155.9L1443.5 149.5L1444.0 159.1L1444.5 157.2L1445.0 157.6L1445.5 159.3L1446.0 152.2L1446.5 144.2L1447.0 156.1L1447.5 159.4L1448.0 158.9L1448.5 153.1L1449.0 154.6L1449.5 155.9L1450.0 148.7L1450.5 152.6L1451.0 155.5L1451.5 160.2L1452.0 152.6L1452.5 160.2L1453.0 154.9L1453.5 149.1L1454.0 162.3L1454.5 151.5L1455.0 156.9L1455.5 160.6L1456.0 152.9L1456.5 152.8L1457.0 158.9L1457.5 155.6L1458.0 150.5L1458.5 151.0L1459.0 153.4L1459.5 157.9L1460.0 153.7L1460.5 156.8L1461.0 160.2L1461.5 158.9L1462.0 159.4L1462.5 158.7L1463.0 149.1L1463.5 158.7L1464.0 155.6L1464.5 154.1L1465.0 145.5L1465.5 149.1L1466.0 150.7L1466.5 154.4L1467.0 150.5L1467.5 151.7L1468.0 152.3L1468.5 156.6L1469.0 153.4L1469.5 153.2L1470.0 158.8L1470.5 153.2L1471.0 156.1L1471.5 149.0L1472.0 155.4L1472.5 154.6L1473.0 154.8L1473.5 152.6L1474.0 150.7L1474.5 153.1L1475.0 152.6L1475.5 157.6L1476.0 157.1L1476.5 150.0L1477.0 156.2L1477.5 152.4L1478.0 155.5L1478.5 152.4L1479.0 149.1L1479.5 157.3L1480.0 155.4L1480.5 149.8L1481.0 147.6L1481.5 152.1L1482.0 149.9L1482.5 152.6L1483.0 155.9L1483.5 158.7L1484.0 152.6L1484.5 158.3L1485.0 157.6L1485.5 152.2L1486.0 148.1L1486.5 156.5L1487.0 155.6L1487.5 162.1L1488.0 158.3L1488.5 156.1L1489.0 159.1L1489.5 150.0L1490.0 154.1L1490.5 152.5L1491.0 159.2L1491.5 155.3L1492.0 143.3L1492.5 157.9L1493.0 150.3L1493.5 155.9L1494.0 151.7L1494.5 154.1L1495.0 155.3L1495.5 153.9" fill="none" stroke="#ed1c24" stroke-width="2.8" stroke-linejoin="round"/>
<path d="M772.5 157.9L773.0 153.9L773.5 157.2L774.0 156.5L774.5 157.5L775.0 156.7L775.5 157.9L776.0 156.4L776.5 156.0L777.0 156.9L777.5 156.7L778.0 156.1L778.5 156.2L779.0 157.0L779.5 157.0L780.0 156.0L780.5 156.1L781.0 154.9L781.5 157.8L782.0 156.2L782.5 157.5L783.0 156.7L783.5 158.0L784.0 157.6L784.5 156.7L785.0 157.6L785.5 155.6L786.0 157.4L786.5 155.2L787.0 156.7L787.5 157.3L788.0 156.6L788.5 156.1L789.0 155.8L789.5 156.1L790.0 157.2L790.5 157.1L791.0 156.2L791.5 155.4L792.0 156.9L792.5 155.2L793.0 156.0L793.5 155.8L794.0 157.0L794.5 156.6L795.0 156.8L795.5 156.6L796.0 155.9L796.5 156.8L797.0 157.5L797.5 156.4L798.0 156.9L798.5 156.3L799.0 157.2L799.5 156.9L800.0 157.1L800.5 156.7L801.0 157.7L801.5 156.1L802.0 156.1L802.5 155.9L803.0 156.9L803.5 155.9L804.0 155.9L804.5 157.0L805.0 157.3L805.5 156.9L806.0 154.2L806.5 155.6L807.0 155.5L807.5 155.4L808.0 156.1L808.5 157.9L809.0 156.2L809.5 155.8L810.0 157.0L810.5 156.5L811.0 156.5L811.5 155.8L812.0 156.4L812.5 156.7L813.0 154.9L813.5 155.1L814.0 157.3L814.5 157.1L815.0 156.0L815.5 155.6L816.0 156.3L816.5 155.4L817.0 156.1L817.5 157.7L818.0 156.5L818.5 157.3L819.0 156.2L819.5 156.7L820.0 157.5L820.5 155.3L821.0 156.1L821.5 156.3L822.0 156.6L822.5 157.7L823.0 157.0L823.5 155.2L824.0 156.2L824.5 155.7L825.0 155.7L825.5 158.0L826.0 155.5L826.5 156.6L827.0 155.8L827.5 157.1L828.0 156.7L828.5 156.5L829.0 156.3L829.5 157.3L830.0 155.7L830.5 155.8L831.0 155.5L831.5 157.5L832.0 156.2L832.5 155.6L833.0 156.1L833.5 158.4L834.0 156.3L834.5 157.1L835.0 156.8L835.5 156.4L836.0 155.8L836.5 156.1L837.0 156.1L837.5 154.6L838.0 158.5L838.5 157.1L839.0 156.5L839.5 156.2L840.0 155.8L840.5 157.2L841.0 156.2L841.5 156.8L842.0 155.3L842.5 156.7L843.0 158.0L843.5 156.2L844.0 157.0L844.5 156.4L845.0 157.3L845.5 157.3L846.0 156.4L846.5 155.9L847.0 156.6L847.5 156.4L848.0 155.9L848.5 156.8L849.0 158.5L849.5 179.5L850.0 299.8L850.5 365.9L851.0 410.6L851.5 451.2L852.0 468.0L852.5 472.3L853.0 475.5L853.5 481.1L854.0 486.7L854.5 495.5L855.0 503.4L855.5 505.4L856.0 514.9L856.5 514.0L857.0 516.1L857.5 516.1L858.0 515.5L858.5 514.3L859.0 513.8L859.5 511.2L860.0 512.4L860.5 512.5L861.0 511.5L861.5 512.7L862.0 509.3L862.5 507.5L863.0 507.3L863.5 503.6L864.0 499.4L864.5 495.8L865.0 498.3L865.5 494.8L866.0 492.8L866.5 488.9L867.0 487.8L867.5 487.9L868.0 483.7L868.5 479.7L869.0 478.7L869.5 479.3L870.0 473.9L870.5 469.9L871.0 468.4L871.5 467.9L872.0 469.1L872.5 466.2L873.0 463.2L873.5 460.7L874.0 460.6L874.5 458.7L875.0 456.4L875.5 455.1L876.0 452.6L876.5 454.4L877.0 446.9L877.5 448.6L878.0 445.3L878.5 446.0L879.0 442.9L879.5 442.1L880.0 440.6L880.5 438.4L881.0 437.8L881.5 432.8L882.0 434.4L882.5 431.0L883.0 430.2L883.5 430.1L884.0 427.8L884.5 427.3L885.0 419.7L885.5 419.8L886.0 420.8L886.5 416.2L887.0 415.8L887.5 416.8L888.0 413.9L888.5 409.6L889.0 409.9L889.5 408.5L890.0 405.9L890.5 404.0L891.0 402.6L891.5 398.6L892.0 399.1L892.5 395.9L893.0 396.0L893.5 394.3L894.0 390.7L894.5 391.1L895.0 389.0L895.5 386.7L896.0 386.0L896.5 382.9L897.0 381.2L897.5 380.0L898.0 378.1L898.5 378.1L899.0 371.5L899.5 372.7L900.0 368.6L900.5 369.1L901.0 368.5L901.5 366.6L902.0 366.3L902.5 363.8L903.0 358.0L903.5 358.7L904.0 361.0L904.5 359.5L905.0 356.0L905.5 352.3L906.0 356.1L906.5 348.7L907.0 350.7L907.5 348.9L908.0 348.0L908.5 344.7L909.0 344.6L909.5 345.4L910.0 342.0L910.5 339.5L911.0 340.2L911.5 339.2L912.0 337.7L912.5 335.6L913.0 336.3L913.5 334.3L914.0 331.7L914.5 332.5L915.0 331.1L915.5 330.2L916.0 326.5L916.5 326.7L917.0 327.4L917.5 326.9L918.0 325.0L918.5 323.7L919.0 323.4L919.5 322.7L920.0 322.7L920.5 319.7L921.0 317.2L921.5 317.5L922.0 313.0L922.5 314.7L923.0 312.9L923.5 312.4L924.0 312.0L924.5 310.2L925.0 307.0L925.5 307.4L926.0 305.7L926.5 305.6L927.0 305.0L927.5 302.1L928.0 303.3L928.5 303.0L929.0 299.7L929.5 300.0L930.0 295.8L930.5 296.0L931.0 297.0L931.5 292.1L932.0 292.8L932.5 291.2L933.0 293.0L933.5 291.9L934.0 288.4L934.5 288.4L935.0 283.6L935.5 287.4L936.0 285.7L936.5 286.1L937.0 279.9L937.5 282.8L938.0 280.8L938.5 276.7L939.0 278.5L939.5 278.4L940.0 278.7L940.5 277.0L941.0 275.1L941.5 275.6L942.0 273.9L942.5 272.3L943.0 270.9L943.5 271.7L944.0 270.9L944.5 272.5L945.0 268.5L945.5 270.5L946.0 268.0L946.5 268.4L947.0 264.7L947.5 264.0L948.0 264.0L948.5 264.9L949.0 263.2L949.5 263.3L950.0 262.0L950.5 262.2L951.0 260.4L951.5 258.7L952.0 259.4L952.5 258.2L953.0 259.8L953.5 256.5L954.0 256.2L954.5 255.0L955.0 256.4L955.5 255.3L956.0 254.4L956.5 251.1L957.0 250.1L957.5 252.0L958.0 252.0L958.5 252.5L959.0 247.3L959.5 249.0L960.0 246.3L960.5 246.7L961.0 247.2L961.5 248.3L962.0 245.6L962.5 244.8L963.0 244.8L963.5 246.5L964.0 247.6L964.5 241.5L965.0 242.7L965.5 242.0L966.0 243.7L966.5 242.1L967.0 243.2L967.5 239.1L968.0 240.0L968.5 238.8L969.0 237.4L969.5 238.2L970.0 236.3L970.5 240.5L971.0 237.6L971.5 235.1L972.0 235.2L972.5 237.9L973.0 234.4L973.5 235.5L974.0 234.9L974.5 235.1L975.0 234.0L975.5 232.4L976.0 231.4L976.5 229.3L977.0 231.2L977.5 231.0L978.0 229.9L978.5 229.7L979.0 227.8L979.5 232.0L980.0 227.9L980.5 226.7L981.0 226.9L981.5 227.0L982.0 227.8L982.5 223.1L983.0 226.6L983.5 224.7L984.0 224.8L984.5 226.0L985.0 225.2L985.5 222.8L986.0 223.2L986.5 225.4L987.0 224.2L987.5 223.2L988.0 221.6L988.5 222.4L989.0 221.2L989.5 219.6L990.0 218.6L990.5 220.1L991.0 219.5L991.5 220.2L992.0 217.6L992.5 219.6L993.0 216.9L993.5 218.6L994.0 217.3L994.5 215.4L995.0 214.6L995.5 215.2L996.0 214.7L996.5 215.8L997.0 213.4L997.5 212.0L998.0 213.5L998.5 215.5L999.0 214.8L999.5 211.6L1000.0 211.7L1000.5 212.1L1001.0 210.5L1001.5 210.7L1002.0 210.3L1002.5 209.0L1003.0 209.2L1003.5 209.0L1004.0 209.6L1004.5 207.5L1005.0 208.8L1005.5 207.2L1006.0 207.1L1006.5 206.4L1007.0 212.2L1007.5 208.6L1008.0 208.4L1008.5 207.5L1009.0 205.9L1009.5 206.0L1010.0 206.0L1010.5 205.9L1011.0 205.8L1011.5 206.6L1012.0 201.0L1012.5 203.6L1013.0 204.8L1013.5 203.3L1014.0 203.2L1014.5 204.9L1015.0 203.1L1015.5 204.7L1016.0 202.3L1016.5 202.4L1017.0 200.7L1017.5 199.4L1018.0 200.9L1018.5 201.2L1019.0 200.5L1019.5 199.1L1020.0 201.2L1020.5 200.3L1021.0 200.0L1021.5 198.9L1022.0 201.4L1022.5 201.0L1023.0 199.5L1023.5 198.8L1024.0 199.0L1024.5 200.4L1025.0 201.4L1025.5 198.1L1026.0 197.4L1026.5 195.6L1027.0 200.6L1027.5 196.0L1028.0 198.0L1028.5 197.4L1029.0 198.2L1029.5 195.5L1030.0 194.5L1030.5 196.3L1031.0 196.4L1031.5 197.0L1032.0 193.7L1032.5 194.9L1033.0 194.9L1033.5 193.5L1034.0 194.7L1034.5 195.6L1035.0 194.5L1035.5 192.7L1036.0 194.5L1036.5 194.9L1037.0 194.4L1037.5 194.5L1038.0 191.7L1038.5 193.8L1039.0 193.8L1039.5 192.6L1040.0 192.8L1040.5 191.9L1041.0 193.9L1041.5 192.1L1042.0 191.2L1042.5 192.3L1043.0 192.1L1043.5 192.5L1044.0 190.7L1044.5 190.8L1045.0 191.8L1045.5 193.6L1046.0 191.6L1046.5 189.4L1047.0 190.9L1047.5 189.8L1048.0 188.5L1048.5 189.6L1049.0 189.6L1049.5 190.5L1050.0 191.3L1050.5 191.0L1051.0 190.5L1051.5 189.0L1052.0 189.5L1052.5 189.2L1053.0 190.6L1053.5 188.3L1054.0 188.2L1054.5 190.3L1055.0 189.2L1055.5 187.9L1056.0 188.4L1056.5 188.3L1057.0 188.2L1057.5 188.7L1058.0 188.1L1058.5 187.4L1059.0 187.0L1059.5 185.5L1060.0 186.8L1060.5 188.3L1061.0 187.2L1061.5 186.1L1062.0 186.4L1062.5 185.7L1063.0 186.7L1063.5 188.4L1064.0 188.1L1064.5 187.3L1065.0 186.7L1065.5 185.6L1066.0 184.4L1066.5 185.6L1067.0 185.0L1067.5 186.2L1068.0 185.3L1068.5 184.5L1069.0 185.4L1069.5 187.8L1070.0 183.8L1070.5 185.7L1071.0 185.1L1071.5 184.2L1072.0 183.4L1072.5 184.1L1073.0 184.2L1073.5 184.6L1074.0 184.4L1074.5 183.9L1075.0 182.8L1075.5 183.7L1076.0 182.8L1076.5 182.1L1077.0 183.9L1077.5 182.2L1078.0 181.6L1078.5 182.7L1079.0 180.6L1079.5 182.4L1080.0 182.8L1080.5 181.8L1081.0 182.3L1081.5 184.1L1082.0 183.3L1082.5 182.7L1083.0 182.2L1083.5 181.0L1084.0 181.2L1084.5 181.0L1085.0 181.2L1085.5 181.2L1086.0 180.1L1086.5 182.4L1087.0 179.7L1087.5 181.0L1088.0 181.5L1088.5 180.4L1089.0 179.6L1089.5 180.2L1090.0 182.0L1090.5 180.6L1091.0 179.6L1091.5 180.3L1092.0 179.4L1092.5 177.7L1093.0 179.7L1093.5 180.3L1094.0 180.3L1094.5 179.0L1095.0 177.6L1095.5 180.1L1096.0 178.6L1096.5 179.4L1097.0 179.7L1097.5 178.8L1098.0 178.3L1098.5 177.7L1099.0 177.7L1099.5 178.1L1100.0 177.5L1100.5 178.2L1101.0 175.9L1101.5 176.7L1102.0 177.5L1102.5 176.8L1103.0 176.8L1103.5 176.2L1104.0 177.8L1104.5 178.6L1105.0 176.0L1105.5 178.0L1106.0 175.4L1106.5 176.8L1107.0 174.7L1107.5 176.9L1108.0 176.4L1108.5 176.4L1109.0 177.4L1109.5 176.7L1110.0 176.0L1110.5 175.1L1111.0 175.9L1111.5 175.1L1112.0 175.2L1112.5 176.9L1113.0 176.3L1113.5 175.6L1114.0 175.8L1114.5 173.8L1115.0 175.2L1115.5 173.4L1116.0 174.3L1116.5 175.1L1117.0 175.1L1117.5 175.3L1118.0 174.7L1118.5 174.5L1119.0 174.3L1119.5 175.6L1120.0 175.4L1120.5 172.7L1121.0 174.1L1121.5 175.1L1122.0 173.6L1122.5 173.9L1123.0 173.1L1123.5 172.4L1124.0 173.6L1124.5 173.0L1125.0 173.1L1125.5 171.8L1126.0 172.0L1126.5 172.9L1127.0 172.5L1127.5 173.3L1128.0 171.8L1128.5 173.3L1129.0 173.1L1129.5 172.6L1130.0 173.0L1130.5 172.2L1131.0 172.1L1131.5 172.1L1132.0 170.9L1132.5 172.0L1133.0 172.6L1133.5 170.3L1134.0 172.4L1134.5 171.1L1135.0 171.3L1135.5 171.6L1136.0 171.7L1136.5 172.6L1137.0 171.1L1137.5 172.8L1138.0 171.2L1138.5 171.5L1139.0 171.6L1139.5 170.3L1140.0 169.8L1140.5 170.9L1141.0 171.3L1141.5 171.4L1142.0 170.2L1142.5 172.1L1143.0 170.3L1143.5 169.7L1144.0 171.3L1144.5 171.3L1145.0 169.3L1145.5 170.9L1146.0 168.9L1146.5 170.0L1147.0 172.0L1147.5 171.0L1148.0 170.4L1148.5 170.3L1149.0 168.9L1149.5 169.9L1150.0 169.9L1150.5 168.6L1151.0 169.6L1151.5 169.8L1152.0 169.5L1152.5 169.6L1153.0 169.0L1153.5 168.1L1154.0 169.1L1154.5 167.2L1155.0 168.3L1155.5 169.8L1156.0 170.4L1156.5 169.1L1157.0 166.5L1157.5 169.8L1158.0 169.0L1158.5 168.3L1159.0 169.1L1159.5 168.8L1160.0 167.2L1160.5 167.1L1161.0 169.1L1161.5 166.0L1162.0 168.6L1162.5 168.2L1163.0 168.8L1163.5 169.4L1164.0 169.0L1164.5 169.1L1165.0 168.4L1165.5 168.1L1166.0 168.5L1166.5 167.5L1167.0 166.6L1167.5 167.3L1168.0 165.9L1168.5 166.8L1169.0 169.0L1169.5 167.6L1170.0 166.9L1170.5 166.5L1171.0 165.4L1171.5 166.4L1172.0 166.2L1172.5 166.8L1173.0 166.8L1173.5 166.6L1174.0 164.9L1174.5 167.8L1175.0 166.9L1175.5 166.5L1176.0 166.1L1176.5 166.7L1177.0 167.4L1177.5 166.8L1178.0 165.2L1178.5 165.0L1179.0 164.0L1179.5 166.1L1180.0 166.6L1180.5 167.0L1181.0 166.0L1181.5 166.5L1182.0 164.9L1182.5 166.1L1183.0 165.5L1183.5 165.0L1184.0 164.1L1184.5 166.5L1185.0 163.5L1185.5 165.9L1186.0 164.6L1186.5 165.8L1187.0 164.7L1187.5 165.8L1188.0 164.9L1188.5 164.2L1189.0 164.6L1189.5 163.6L1190.0 165.2L1190.5 165.8L1191.0 165.2L1191.5 164.9L1192.0 165.9L1192.5 163.7L1193.0 165.1L1193.5 164.6L1194.0 164.2L1194.5 165.0L1195.0 163.5L1195.5 164.3L1196.0 164.7L1196.5 163.3L1197.0 164.1L1197.5 164.7L1198.0 165.0L1198.5 163.4L1199.0 164.9L1199.5 163.8L1200.0 164.1L1200.5 163.5L1201.0 164.6L1201.5 163.3L1202.0 164.1L1202.5 164.1L1203.0 164.4L1203.5 162.9L1204.0 164.4L1204.5 163.7L1205.0 164.9L1205.5 163.3L1206.0 163.1L1206.5 163.4L1207.0 163.2L1207.5 163.3L1208.0 162.3L1208.5 161.6L1209.0 162.1L1209.5 162.8L1210.0 163.6L1210.5 162.9L1211.0 162.3L1211.5 163.0L1212.0 163.1L1212.5 165.4L1213.0 164.1L1213.5 163.1L1214.0 161.7L1214.5 162.7L1215.0 162.6L1215.5 163.3L1216.0 164.6L1216.5 162.7L1217.0 161.0L1217.5 162.6L1218.0 161.2L1218.5 163.3L1219.0 163.5L1219.5 162.8L1220.0 161.3L1220.5 162.3L1221.0 163.5L1221.5 161.6L1222.0 161.9L1222.5 162.6L1223.0 162.7L1223.5 162.3L1224.0 162.5L1224.5 162.4L1225.0 161.7L1225.5 162.1L1226.0 162.4L1226.5 161.2L1227.0 162.2L1227.5 162.1L1228.0 162.4L1228.5 162.3L1229.0 161.1L1229.5 160.9L1230.0 162.1L1230.5 161.7L1231.0 161.9L1231.5 161.3L1232.0 160.7L1232.5 162.0L1233.0 161.6L1233.5 162.2L1234.0 162.6L1234.5 162.5L1235.0 162.4L1235.5 160.8L1236.0 159.8L1236.5 161.0L1237.0 160.5L1237.5 160.3L1238.0 162.0L1238.5 160.0L1239.0 162.1L1239.5 162.3L1240.0 163.5L1240.5 162.2L1241.0 163.0L1241.5 160.7L1242.0 160.6L1242.5 162.0L1243.0 160.1L1243.5 162.1L1244.0 160.9L1244.5 159.4L1245.0 162.6L1245.5 160.1L1246.0 163.1L1246.5 159.8L1247.0 160.3L1247.5 161.1L1248.0 160.9L1248.5 159.6L1249.0 161.0L1249.5 161.0L1250.0 161.2L1250.5 159.5L1251.0 160.3L1251.5 160.7L1252.0 161.4L1252.5 160.8L1253.0 160.4L1253.5 160.3L1254.0 161.9L1254.5 159.9L1255.0 160.9L1255.5 158.8L1256.0 162.0L1256.5 160.9L1257.0 159.1L1257.5 161.0L1258.0 161.6L1258.5 161.1L1259.0 160.5L1259.5 161.1L1260.0 159.8L1260.5 160.2L1261.0 160.1L1261.5 160.4L1262.0 159.5L1262.5 161.4L1263.0 160.2L1263.5 159.4L1264.0 160.1L1264.5 160.5L1265.0 160.3L1265.5 161.1L1266.0 159.9L1266.5 159.5L1267.0 160.6L1267.5 161.2L1268.0 159.3L1268.5 158.8L1269.0 159.5L1269.5 160.0L1270.0 159.2L1270.5 160.2L1271.0 159.3L1271.5 160.7L1272.0 159.0L1272.5 159.2L1273.0 160.0L1273.5 160.5L1274.0 160.7L1274.5 159.3L1275.0 159.9L1275.5 160.3L1276.0 161.0L1276.5 159.1L1277.0 158.8L1277.5 160.2L1278.0 159.6L1278.5 160.9L1279.0 159.8L1279.5 160.0L1280.0 159.1L1280.5 159.9L1281.0 160.7L1281.5 159.5L1282.0 158.7L1282.5 160.4L1283.0 159.4L1283.5 159.7L1284.0 159.0L1284.5 160.4L1285.0 159.0L1285.5 159.2L1286.0 159.6L1286.5 159.4L1287.0 157.7L1287.5 159.9L1288.0 158.6L1288.5 159.7L1289.0 159.2L1289.5 159.4L1290.0 158.9L1290.5 158.6L1291.0 159.6L1291.5 159.6L1292.0 160.3L1292.5 159.9L1293.0 158.8L1293.5 160.4L1294.0 161.2L1294.5 160.0L1295.0 159.2L1295.5 158.6L1296.0 159.4L1296.5 158.2L1297.0 160.0L1297.5 159.0L1298.0 158.8L1298.5 159.5L1299.0 158.3L1299.5 157.8L1300.0 158.9L1300.5 160.2L1301.0 158.6L1301.5 159.9L1302.0 157.7L1302.5 159.2L1303.0 159.6L1303.5 160.7L1304.0 157.8L1304.5 159.1L1305.0 158.4L1305.5 159.4L1306.0 158.7L1306.5 159.2L1307.0 158.5L1307.5 158.7L1308.0 159.5L1308.5 160.3L1309.0 159.3L1309.5 159.2L1310.0 158.7L1310.5 160.4L1311.0 157.5L1311.5 157.4L1312.0 158.4L1312.5 159.4L1313.0 159.8L1313.5 159.5L1314.0 159.7L1314.5 159.2L1315.0 158.6L1315.5 158.2L1316.0 159.4L1316.5 158.2L1317.0 159.3L1317.5 159.6L1318.0 158.5L1318.5 158.6L1319.0 158.5L1319.5 159.5L1320.0 159.1L1320.5 158.4L1321.0 159.2L1321.5 160.2L1322.0 159.2L1322.5 159.0L1323.0 158.6L1323.5 158.2L1324.0 158.9L1324.5 159.0L1325.0 158.7L1325.5 159.9L1326.0 158.7L1326.5 158.8L1327.0 159.1L1327.5 159.3L1328.0 157.4L1328.5 159.1L1329.0 159.9L1329.5 158.0L1330.0 159.2L1330.5 158.5L1331.0 158.1L1331.5 159.1L1332.0 158.8L1332.5 157.2L1333.0 158.4L1333.5 159.5L1334.0 158.4L1334.5 158.2L1335.0 158.5L1335.5 158.5L1336.0 159.4L1336.5 158.1L1337.0 157.9L1337.5 159.2L1338.0 159.6L1338.5 159.4L1339.0 159.5L1339.5 158.3L1340.0 157.6L1340.5 158.2L1341.0 158.8L1341.5 157.4L1342.0 158.5L1342.5 159.3L1343.0 158.2L1343.5 160.4L1344.0 159.4L1344.5 157.8L1345.0 157.9L1345.5 158.2L1346.0 159.3L1346.5 159.1L1347.0 158.3L1347.5 158.9L1348.0 159.4L1348.5 159.2L1349.0 157.5L1349.5 157.9L1350.0 158.0L1350.5 157.4L1351.0 159.4L1351.5 158.2L1352.0 158.2L1352.5 158.1L1353.0 159.0L1353.5 159.2L1354.0 159.3L1354.5 159.7L1355.0 158.0L1355.5 160.0L1356.0 160.7L1356.5 158.3L1357.0 158.4L1357.5 159.2L1358.0 159.7L1358.5 158.5L1359.0 158.1L1359.5 160.4L1360.0 158.3L1360.5 156.5L1361.0 159.2L1361.5 159.5L1362.0 160.1L1362.5 160.2L1363.0 161.2L1363.5 158.3L1364.0 157.9L1364.5 157.5L1365.0 160.1L1365.5 158.4L1366.0 157.4L1366.5 157.0L1367.0 158.8L1367.5 158.4L1368.0 159.0L1368.5 158.0L1369.0 158.1L1369.5 159.1L1370.0 158.5L1370.5 159.2L1371.0 158.6L1371.5 158.5L1372.0 159.0L1372.5 158.4L1373.0 158.8L1373.5 159.1L1374.0 158.3L1374.5 158.6L1375.0 158.8L1375.5 159.2L1376.0 158.9L1376.5 158.9L1377.0 159.1L1377.5 158.4L1378.0 159.0L1378.5 158.1L1379.0 157.2L1379.5 159.0L1380.0 157.1L1380.5 158.6L1381.0 159.9L1381.5 159.3L1382.0 157.9L1382.5 159.3L1383.0 158.9L1383.5 158.0L1384.0 158.6L1384.5 158.2L1385.0 158.4L1385.5 158.9L1386.0 157.4L1386.5 159.4L1387.0 160.3L1387.5 158.5L1388.0 157.9L1388.5 158.3L1389.0 159.7L1389.5 158.3L1390.0 159.1L1390.5 160.5L1391.0 158.1L1391.5 158.7L1392.0 158.2L1392.5 158.4L1393.0 158.8L1393.5 158.1L1394.0 159.0L1394.5 158.8L1395.0 159.6L1395.5 159.2L1396.0 159.0L1396.5 159.9L1397.0 158.5L1397.5 159.2L1398.0 158.1L1398.5 159.8L1399.0 158.1L1399.5 159.5L1400.0 158.1L1400.5 158.8L1401.0 157.8L1401.5 158.1L1402.0 157.9L1402.5 159.0L1403.0 159.1L1403.5 159.3L1404.0 159.0L1404.5 158.5L1405.0 159.2L1405.5 159.9L1406.0 158.4L1406.5 158.1L1407.0 159.1L1407.5 160.3L1408.0 158.6L1408.5 158.4L1409.0 157.9L1409.5 158.1L1410.0 157.9L1410.5 157.9L1411.0 159.5L1411.5 159.7L1412.0 158.8L1412.5 158.8L1413.0 159.4L1413.5 158.7L1414.0 158.8L1414.5 159.2L1415.0 158.7L1415.5 159.7L1416.0 161.3L1416.5 158.7L1417.0 158.9L1417.5 158.0L1418.0 158.3L1418.5 158.8L1419.0 159.0L1419.5 158.5L1420.0 157.7L1420.5 159.0L1421.0 158.2L1421.5 159.0L1422.0 158.5L1422.5 158.6L1423.0 158.6L1423.5 156.9L1424.0 159.7L1424.5 157.9L1425.0 158.9L1425.5 159.1L1426.0 158.2L1426.5 157.5L1427.0 159.1L1427.5 157.9L1428.0 158.6L1428.5 159.0L1429.0 158.2L1429.5 157.2L1430.0 158.1L1430.5 159.0L1431.0 157.9L1431.5 159.3L1432.0 157.3L1432.5 157.8L1433.0 157.1L1433.5 157.8L1434.0 159.8L1434.5 159.0L1435.0 158.3L1435.5 158.0L1436.0 159.4L1436.5 158.4L1437.0 157.7L1437.5 159.7L1438.0 157.4L1438.5 158.6L1439.0 159.0L1439.5 159.2L1440.0 160.0L1440.5 159.1L1441.0 157.9L1441.5 159.4L1442.0 158.7L1442.5 157.4L1443.0 157.5L1443.5 157.7L1444.0 156.7L1444.5 158.7L1445.0 158.8L1445.5 158.8L1446.0 157.7L1446.5 158.3L1447.0 159.3L1447.5 158.6L1448.0 158.2L1448.5 157.7L1449.0 158.3L1449.5 159.3L1450.0 158.3L1450.5 160.1L1451.0 160.2L1451.5 158.9L1452.0 157.0L1452.5 158.1L1453.0 159.3L1453.5 157.8L1454.0 157.7L1454.5 158.3L1455.0 160.4L1455.5 157.8L1456.0 156.6L1456.5 158.4L1457.0 158.5L1457.5 158.8L1458.0 158.2L1458.5 158.4L1459.0 157.8L1459.5 158.9L1460.0 158.1L1460.5 158.5L1461.0 157.5L1461.5 159.2L1462.0 158.3L1462.5 157.7L1463.0 158.1L1463.5 157.2L1464.0 157.6L1464.5 158.7L1465.0 158.5L1465.5 158.7L1466.0 158.6L1466.5 157.8L1467.0 158.1L1467.5 159.5L1468.0 157.9L1468.5 156.7L1469.0 157.9L1469.5 157.6L1470.0 157.8L1470.5 157.9L1471.0 157.1L1471.5 158.2L1472.0 157.7L1472.5 158.3L1473.0 157.3L1473.5 157.0L1474.0 157.5L1474.5 159.1L1475.0 156.3L1475.5 158.7L1476.0 157.7L1476.5 158.7L1477.0 157.4L1477.5 158.0L1478.0 158.0L1478.5 159.4L1479.0 157.6L1479.5 157.8L1480.0 157.0L1480.5 157.9L1481.0 157.0L1481.5 157.5L1482.0 157.9L1482.5 158.0L1483.0 156.8L1483.5 156.8L1484.0 158.5L1484.5 157.1L1485.0 157.6L1485.5 157.3L1486.0 156.2L1486.5 157.4L1487.0 157.3L1487.5 158.8L1488.0 155.9L1488.5 157.0L1489.0 157.9L1489.5 156.9L1490.0 155.6L1490.5 157.8L1491.0 157.5L1491.5 156.6L1492.0 156.5L1492.5 156.7L1493.0 157.4L1493.5 157.1L1494.0 156.7L1494.5 157.5L1495.0 158.0L1495.5 156.7" fill="none" stroke="#1cb0ea" stroke-width="3.0" stroke-linejoin="round"/>
<path d="M772.5 157.3L773.0 156.7L773.5 156.0L774.0 155.4L774.5 154.9L775.0 156.4L775.5 155.7L776.0 155.7L776.5 156.2L777.0 156.4L777.5 154.6L778.0 157.1L778.5 154.8L779.0 157.9L779.5 156.9L780.0 156.0L780.5 157.5L781.0 156.4L781.5 157.0L782.0 156.5L782.5 157.3L783.0 157.3L783.5 155.7L784.0 155.9L784.5 156.7L785.0 156.2L785.5 154.6L786.0 158.0L786.5 154.6L787.0 154.7L787.5 155.4L788.0 156.9L788.5 157.8L789.0 156.2L789.5 156.1L790.0 156.5L790.5 156.1L791.0 156.5L791.5 155.5L792.0 156.8L792.5 156.7L793.0 154.4L793.5 156.3L794.0 156.5L794.5 156.9L795.0 155.7L795.5 155.3L796.0 155.6L796.5 156.8L797.0 155.7L797.5 155.8L798.0 157.3L798.5 155.8L799.0 155.7L799.5 156.3L800.0 156.6L800.5 157.2L801.0 155.7L801.5 155.1L802.0 156.3L802.5 156.9L803.0 155.2L803.5 156.0L804.0 156.6L804.5 156.6L805.0 156.5L805.5 156.2L806.0 155.8L806.5 155.7L807.0 157.3L807.5 155.5L808.0 157.4L808.5 155.3L809.0 158.7L809.5 155.0L810.0 157.7L810.5 155.7L811.0 156.3L811.5 156.3L812.0 155.9L812.5 158.2L813.0 156.5L813.5 155.3L814.0 156.9L814.5 157.0L815.0 155.5L815.5 156.8L816.0 156.5L816.5 157.1L817.0 157.0L817.5 156.4L818.0 156.1L818.5 157.1L819.0 156.7L819.5 155.2L820.0 156.0L820.5 156.0L821.0 156.2L821.5 158.2L822.0 156.1L822.5 156.8L823.0 157.7L823.5 156.8L824.0 156.7L824.5 157.4L825.0 156.6L825.5 156.5L826.0 157.0L826.5 156.7L827.0 155.9L827.5 155.5L828.0 156.3L828.5 157.5L829.0 156.2L829.5 157.3L830.0 156.7L830.5 156.2L831.0 154.3L831.5 156.6L832.0 156.2L832.5 155.1L833.0 156.8L833.5 156.4L834.0 156.7L834.5 155.9L835.0 156.6L835.5 156.0L836.0 157.3L836.5 156.5L837.0 155.3L837.5 156.6L838.0 156.5L838.5 156.2L839.0 155.3L839.5 157.3L840.0 155.8L840.5 157.7L841.0 155.9L841.5 156.4L842.0 156.4L842.5 156.5L843.0 158.5L843.5 156.0L844.0 158.1L844.5 156.9L845.0 155.8L845.5 157.4L846.0 157.1L846.5 157.2L847.0 155.3L847.5 156.8L848.0 156.1L848.5 156.3L849.0 156.3L849.5 158.3L850.0 178.9L850.5 269.6L851.0 327.8L851.5 373.8L852.0 400.1L852.5 418.2L853.0 429.5L853.5 444.0L854.0 452.5L854.5 463.5L855.0 471.0L855.5 478.8L856.0 483.4L856.5 486.6L857.0 494.7L857.5 497.6L858.0 499.8L858.5 502.1L859.0 503.8L859.5 504.3L860.0 506.8L860.5 509.9L861.0 513.5L861.5 512.8L862.0 514.9L862.5 511.1L863.0 513.6L863.5 510.2L864.0 511.8L864.5 510.8L865.0 509.2L865.5 510.3L866.0 513.3L866.5 512.1L867.0 511.6L867.5 516.8L868.0 518.8L868.5 512.7L869.0 514.7L869.5 511.6L870.0 511.3L870.5 508.6L871.0 508.0L871.5 500.9L872.0 495.7L872.5 489.3L873.0 488.4L873.5 483.7L874.0 481.0L874.5 478.8L875.0 474.3L875.5 473.9L876.0 469.3L876.5 469.0L877.0 466.9L877.5 464.5L878.0 462.8L878.5 460.1L879.0 459.9L879.5 457.2L880.0 454.7L880.5 453.1L881.0 450.6L881.5 449.5L882.0 447.4L882.5 443.4L883.0 446.4L883.5 441.6L884.0 439.4L884.5 438.9L885.0 433.7L885.5 434.2L886.0 433.3L886.5 430.7L887.0 429.3L887.5 426.7L888.0 425.0L888.5 423.6L889.0 422.1L889.5 418.5L890.0 418.6L890.5 416.8L891.0 413.7L891.5 411.9L892.0 411.1L892.5 410.8L893.0 408.9L893.5 404.4L894.0 403.0L894.5 401.2L895.0 400.7L895.5 398.2L896.0 397.1L896.5 396.6L897.0 393.4L897.5 391.9L898.0 390.1L898.5 386.8L899.0 385.9L899.5 384.1L900.0 382.0L900.5 383.1L901.0 380.1L901.5 373.8L902.0 374.8L902.5 374.1L903.0 372.6L903.5 369.8L904.0 368.8L904.5 367.1L905.0 365.3L905.5 365.3L906.0 362.7L906.5 360.4L907.0 359.2L907.5 358.0L908.0 354.9L908.5 354.1L909.0 354.2L909.5 353.2L910.0 347.0L910.5 352.2L911.0 346.4L911.5 346.9L912.0 342.4L912.5 343.8L913.0 341.5L913.5 339.9L914.0 338.1L914.5 336.8L915.0 336.8L915.5 333.3L916.0 332.6L916.5 331.1L917.0 328.0L917.5 329.1L918.0 327.6L918.5 325.6L919.0 323.1L919.5 323.3L920.0 322.3L920.5 321.2L921.0 320.1L921.5 317.1L922.0 319.1L922.5 317.6L923.0 316.4L923.5 314.8L924.0 314.9L924.5 312.9L925.0 312.4L925.5 310.2L926.0 308.9L926.5 308.6L927.0 305.8L927.5 305.5L928.0 305.2L928.5 303.2L929.0 299.8L929.5 301.6L930.0 300.7L930.5 302.2L931.0 297.6L931.5 298.6L932.0 301.2L932.5 295.1L933.0 297.4L933.5 296.3L934.0 294.2L934.5 296.1L935.0 294.3L935.5 291.2L936.0 293.5L936.5 291.9L937.0 294.7L937.5 292.6L938.0 290.5L938.5 291.7L939.0 293.4L939.5 288.2L940.0 287.9L940.5 288.4L941.0 287.8L941.5 287.2L942.0 284.0L942.5 285.4L943.0 282.7L943.5 282.3L944.0 283.8L944.5 280.5L945.0 281.5L945.5 279.2L946.0 278.9L946.5 277.9L947.0 277.7L947.5 276.8L948.0 273.8L948.5 276.2L949.0 273.8L949.5 273.4L950.0 272.5L950.5 269.6L951.0 269.3L951.5 268.7L952.0 268.1L952.5 269.3L953.0 268.7L953.5 270.2L954.0 267.2L954.5 266.3L955.0 263.2L955.5 261.4L956.0 261.9L956.5 260.9L957.0 259.2L957.5 259.7L958.0 260.0L958.5 258.9L959.0 259.5L959.5 258.5L960.0 257.7L960.5 258.3L961.0 255.8L961.5 255.5L962.0 256.9L962.5 255.6L963.0 251.6L963.5 253.3L964.0 254.8L964.5 252.8L965.0 253.3L965.5 248.9L966.0 251.2L966.5 247.2L967.0 250.5L967.5 247.3L968.0 250.5L968.5 247.0L969.0 247.7L969.5 247.4L970.0 246.5L970.5 243.9L971.0 246.6L971.5 244.4L972.0 248.0L972.5 243.8L973.0 244.0L973.5 242.8L974.0 245.2L974.5 244.4L975.0 242.7L975.5 242.9L976.0 239.7L976.5 239.2L977.0 241.9L977.5 238.5L978.0 238.8L978.5 236.6L979.0 237.8L979.5 238.6L980.0 237.4L980.5 235.0L981.0 237.9L981.5 236.6L982.0 232.4L982.5 234.0L983.0 234.6L983.5 234.0L984.0 234.6L984.5 235.5L985.0 233.5L985.5 233.1L986.0 234.7L986.5 234.7L987.0 231.7L987.5 234.0L988.0 228.9L988.5 233.2L989.0 231.3L989.5 229.1L990.0 229.3L990.5 229.8L991.0 231.1L991.5 230.1L992.0 229.0L992.5 227.7L993.0 228.0L993.5 225.9L994.0 226.7L994.5 225.8L995.0 226.1L995.5 226.9L996.0 225.5L996.5 223.2L997.0 226.8L997.5 225.0L998.0 225.3L998.5 223.4L999.0 223.7L999.5 223.4L1000.0 225.4L1000.5 221.5L1001.0 224.0L1001.5 222.5L1002.0 223.2L1002.5 221.2L1003.0 219.5L1003.5 222.6L1004.0 220.6L1004.5 221.5L1005.0 221.5L1005.5 218.0L1006.0 219.4L1006.5 219.5L1007.0 220.2L1007.5 220.0L1008.0 220.0L1008.5 218.4L1009.0 220.2L1009.5 218.2L1010.0 217.8L1010.5 217.0L1011.0 216.0L1011.5 217.1L1012.0 217.2L1012.5 217.0L1013.0 219.2L1013.5 216.5L1014.0 216.4L1014.5 214.0L1015.0 215.1L1015.5 215.2L1016.0 215.6L1016.5 214.5L1017.0 214.9L1017.5 213.0L1018.0 215.4L1018.5 215.1L1019.0 212.1L1019.5 211.4L1020.0 212.3L1020.5 213.1L1021.0 211.6L1021.5 212.6L1022.0 213.2L1022.5 213.2L1023.0 213.2L1023.5 209.8L1024.0 208.9L1024.5 211.8L1025.0 210.0L1025.5 209.8L1026.0 209.2L1026.5 209.5L1027.0 210.8L1027.5 208.1L1028.0 208.0L1028.5 210.7L1029.0 210.1L1029.5 207.0L1030.0 206.7L1030.5 209.1L1031.0 209.5L1031.5 210.8L1032.0 208.9L1032.5 208.7L1033.0 207.4L1033.5 207.6L1034.0 206.8L1034.5 208.6L1035.0 207.4L1035.5 208.1L1036.0 207.0L1036.5 205.3L1037.0 206.3L1037.5 207.4L1038.0 206.4L1038.5 203.7L1039.0 206.9L1039.5 204.9L1040.0 206.9L1040.5 204.7L1041.0 203.9L1041.5 205.8L1042.0 203.2L1042.5 205.9L1043.0 203.7L1043.5 204.9L1044.0 202.3L1044.5 203.9L1045.0 203.1L1045.5 205.4L1046.0 202.5L1046.5 203.0L1047.0 202.2L1047.5 203.0L1048.0 203.0L1048.5 204.0L1049.0 203.3L1049.5 200.6L1050.0 204.4L1050.5 202.3L1051.0 203.3L1051.5 201.5L1052.0 202.6L1052.5 201.5L1053.0 201.1L1053.5 201.2L1054.0 200.2L1054.5 201.6L1055.0 201.3L1055.5 201.5L1056.0 202.1L1056.5 201.7L1057.0 200.9L1057.5 201.5L1058.0 200.3L1058.5 201.1L1059.0 199.8L1059.5 197.7L1060.0 198.8L1060.5 198.4L1061.0 198.9L1061.5 199.1L1062.0 199.3L1062.5 199.6L1063.0 197.7L1063.5 198.3L1064.0 199.4L1064.5 199.2L1065.0 199.8L1065.5 198.0L1066.0 200.7L1066.5 197.3L1067.0 196.3L1067.5 197.5L1068.0 196.2L1068.5 198.3L1069.0 197.4L1069.5 195.7L1070.0 197.4L1070.5 198.2L1071.0 196.3L1071.5 196.5L1072.0 195.9L1072.5 196.0L1073.0 195.0L1073.5 196.2L1074.0 195.1L1074.5 196.4L1075.0 197.3L1075.5 196.8L1076.0 196.2L1076.5 197.0L1077.0 196.3L1077.5 194.9L1078.0 195.9L1078.5 196.0L1079.0 195.0L1079.5 195.8L1080.0 194.1L1080.5 195.3L1081.0 195.5L1081.5 194.9L1082.0 194.3L1082.5 194.8L1083.0 193.5L1083.5 193.7L1084.0 194.8L1084.5 195.2L1085.0 194.9L1085.5 193.9L1086.0 194.3L1086.5 193.1L1087.0 193.9L1087.5 192.9L1088.0 192.1L1088.5 193.7L1089.0 192.9L1089.5 192.9L1090.0 192.1L1090.5 194.6L1091.0 193.3L1091.5 191.9L1092.0 193.3L1092.5 192.6L1093.0 191.7L1093.5 191.5L1094.0 193.3L1094.5 191.8L1095.0 192.5L1095.5 191.3L1096.0 192.4L1096.5 192.3L1097.0 192.2L1097.5 192.1L1098.0 192.6L1098.5 192.3L1099.0 190.8L1099.5 193.0L1100.0 190.7L1100.5 190.5L1101.0 191.0L1101.5 191.8L1102.0 191.3L1102.5 189.6L1103.0 190.2L1103.5 191.6L1104.0 190.7L1104.5 190.6L1105.0 188.6L1105.5 190.2L1106.0 190.4L1106.5 188.9L1107.0 188.0L1107.5 190.1L1108.0 190.6L1108.5 188.3L1109.0 189.3L1109.5 190.9L1110.0 191.1L1110.5 189.5L1111.0 186.9L1111.5 189.4L1112.0 190.1L1112.5 191.7L1113.0 190.0L1113.5 189.7L1114.0 188.5L1114.5 187.2L1115.0 187.8L1115.5 187.6L1116.0 187.9L1116.5 189.2L1117.0 188.4L1117.5 186.1L1118.0 187.8L1118.5 189.3L1119.0 188.8L1119.5 189.5L1120.0 186.7L1120.5 188.1L1121.0 187.3L1121.5 186.5L1122.0 186.8L1122.5 185.6L1123.0 185.6L1123.5 187.4L1124.0 187.0L1124.5 186.7L1125.0 188.3L1125.5 186.6L1126.0 187.5L1126.5 185.7L1127.0 185.5L1127.5 186.2L1128.0 186.0L1128.5 186.2L1129.0 186.5L1129.5 188.1L1130.0 185.4L1130.5 184.9L1131.0 186.7L1131.5 187.4L1132.0 187.8L1132.5 184.9L1133.0 186.4L1133.5 184.0L1134.0 185.7L1134.5 184.6L1135.0 185.0L1135.5 184.0L1136.0 186.7L1136.5 186.4L1137.0 185.8L1137.5 184.3L1138.0 186.9L1138.5 186.2L1139.0 184.8L1139.5 186.1L1140.0 185.4L1140.5 185.5L1141.0 185.6L1141.5 185.5L1142.0 184.7L1142.5 183.3L1143.0 183.5L1143.5 184.9L1144.0 184.0L1144.5 184.7L1145.0 182.4L1145.5 183.8L1146.0 183.7L1146.5 185.6L1147.0 183.7L1147.5 183.3L1148.0 184.0L1148.5 185.0L1149.0 186.3L1149.5 182.3L1150.0 185.4L1150.5 181.6L1151.0 184.9L1151.5 184.9L1152.0 184.5L1152.5 181.1L1153.0 182.3L1153.5 185.0L1154.0 183.6L1154.5 184.2L1155.0 183.1L1155.5 183.3L1156.0 183.3L1156.5 182.2L1157.0 183.8L1157.5 185.1L1158.0 181.6L1158.5 181.7L1159.0 181.6L1159.5 181.7L1160.0 182.6L1160.5 182.9L1161.0 182.9L1161.5 182.5L1162.0 181.0L1162.5 182.0L1163.0 181.1L1163.5 181.9L1164.0 182.5L1164.5 182.0L1165.0 183.2L1165.5 182.0L1166.0 182.8L1166.5 184.6L1167.0 182.5L1167.5 180.1L1168.0 180.4L1168.5 181.4L1169.0 182.2L1169.5 181.0L1170.0 182.0L1170.5 180.8L1171.0 181.0L1171.5 180.9L1172.0 183.1L1172.5 182.0L1173.0 179.7L1173.5 180.9L1174.0 182.6L1174.5 181.0L1175.0 183.1L1175.5 181.0L1176.0 181.0L1176.5 180.4L1177.0 180.5L1177.5 180.4L1178.0 181.1L1178.5 181.7L1179.0 180.1L1179.5 181.0L1180.0 179.1L1180.5 180.4L1181.0 180.8L1181.5 180.1L1182.0 179.4L1182.5 180.7L1183.0 181.0L1183.5 181.2L1184.0 180.5L1184.5 181.7L1185.0 179.6L1185.5 180.4L1186.0 178.2L1186.5 179.7L1187.0 179.7L1187.5 181.7L1188.0 180.8L1188.5 180.7L1189.0 178.5L1189.5 179.2L1190.0 179.5L1190.5 178.1L1191.0 178.9L1191.5 180.0L1192.0 179.1L1192.5 178.3L1193.0 181.0L1193.5 179.5L1194.0 179.0L1194.5 177.7L1195.0 179.8L1195.5 178.6L1196.0 178.4L1196.5 178.2L1197.0 180.0L1197.5 176.9L1198.0 177.7L1198.5 179.4L1199.0 178.9L1199.5 179.0L1200.0 178.2L1200.5 178.9L1201.0 177.7L1201.5 177.7L1202.0 178.1L1202.5 177.8L1203.0 178.7L1203.5 178.2L1204.0 177.5L1204.5 177.0L1205.0 179.8L1205.5 177.1L1206.0 178.1L1206.5 176.6L1207.0 176.7L1207.5 178.1L1208.0 179.4L1208.5 179.3L1209.0 177.3L1209.5 176.8L1210.0 178.4L1210.5 178.9L1211.0 176.9L1211.5 176.9L1212.0 179.0L1212.5 176.7L1213.0 178.3L1213.5 176.7L1214.0 177.8L1214.5 176.1L1215.0 177.8L1215.5 176.3L1216.0 176.1L1216.5 176.7L1217.0 178.4L1217.5 177.4L1218.0 177.1L1218.5 177.8L1219.0 176.4L1219.5 178.1L1220.0 175.7L1220.5 178.9L1221.0 177.3L1221.5 177.0L1222.0 174.6L1222.5 176.8L1223.0 176.7L1223.5 177.4L1224.0 175.6L1224.5 178.3L1225.0 176.4L1225.5 176.9L1226.0 176.0L1226.5 178.9L1227.0 175.9L1227.5 176.6L1228.0 177.4L1228.5 178.7L1229.0 176.4L1229.5 175.9L1230.0 176.0L1230.5 176.4L1231.0 176.9L1231.5 176.3L1232.0 175.2L1232.5 176.2L1233.0 176.3L1233.5 175.6L1234.0 177.0L1234.5 177.3L1235.0 173.8L1235.5 176.6L1236.0 176.6L1236.5 177.4L1237.0 176.7L1237.5 177.4L1238.0 176.9L1238.5 174.9L1239.0 175.3L1239.5 175.1L1240.0 176.3L1240.5 175.3L1241.0 174.8L1241.5 176.1L1242.0 177.0L1242.5 175.6L1243.0 175.0L1243.5 174.8L1244.0 175.3L1244.5 175.5L1245.0 175.6L1245.5 176.1L1246.0 175.5L1246.5 173.5L1247.0 176.2L1247.5 178.2L1248.0 174.5L1248.5 173.9L1249.0 176.5L1249.5 176.8L1250.0 175.4L1250.5 177.1L1251.0 176.8L1251.5 176.0L1252.0 177.4L1252.5 173.3L1253.0 176.0L1253.5 173.8L1254.0 174.2L1254.5 174.6L1255.0 174.5L1255.5 174.8L1256.0 176.9L1256.5 175.1L1257.0 174.3L1257.5 174.2L1258.0 174.5L1258.5 173.0L1259.0 176.5L1259.5 173.9L1260.0 176.4L1260.5 173.2L1261.0 173.7L1261.5 173.8L1262.0 174.9L1262.5 175.2L1263.0 173.3L1263.5 173.0L1264.0 174.2L1264.5 174.6L1265.0 174.8L1265.5 172.4L1266.0 175.7L1266.5 174.2L1267.0 174.6L1267.5 174.7L1268.0 173.3L1268.5 175.1L1269.0 175.8L1269.5 174.6L1270.0 173.4L1270.5 173.6L1271.0 174.3L1271.5 174.2L1272.0 175.0L1272.5 173.2L1273.0 173.8L1273.5 174.3L1274.0 174.0L1274.5 173.7L1275.0 173.1L1275.5 173.4L1276.0 173.8L1276.5 174.9L1277.0 173.7L1277.5 175.2L1278.0 174.5L1278.5 174.0L1279.0 174.1L1279.5 173.9L1280.0 173.4L1280.5 173.1L1281.0 174.9L1281.5 173.0L1282.0 174.6L1282.5 172.9L1283.0 173.8L1283.5 174.3L1284.0 174.8L1284.5 173.9L1285.0 172.7L1285.5 172.4L1286.0 172.8L1286.5 174.2L1287.0 172.4L1287.5 174.3L1288.0 173.4L1288.5 171.8L1289.0 172.7L1289.5 173.7L1290.0 172.5L1290.5 173.5L1291.0 173.7L1291.5 171.1L1292.0 171.2L1292.5 172.3L1293.0 171.7L1293.5 173.5L1294.0 173.0L1294.5 172.4L1295.0 173.3L1295.5 173.5L1296.0 171.2L1296.5 172.1L1297.0 172.7L1297.5 174.5L1298.0 172.8L1298.5 174.2L1299.0 171.7L1299.5 171.8L1300.0 173.5L1300.5 172.5L1301.0 174.2L1301.5 173.7L1302.0 171.9L1302.5 171.6L1303.0 173.7L1303.5 173.2L1304.0 173.2L1304.5 171.7L1305.0 173.1L1305.5 171.4L1306.0 173.1L1306.5 173.3L1307.0 172.0L1307.5 172.1L1308.0 175.8L1308.5 172.9L1309.0 172.8L1309.5 171.7L1310.0 173.2L1310.5 172.8L1311.0 172.9L1311.5 173.8L1312.0 173.2L1312.5 175.0L1313.0 172.1L1313.5 171.9L1314.0 173.4L1314.5 171.8L1315.0 173.3L1315.5 171.4L1316.0 172.6L1316.5 174.5L1317.0 172.6L1317.5 172.9L1318.0 174.3L1318.5 173.0L1319.0 172.0L1319.5 172.3L1320.0 174.0L1320.5 173.9L1321.0 173.8L1321.5 172.5L1322.0 171.8L1322.5 172.7L1323.0 170.9L1323.5 171.0L1324.0 171.6L1324.5 172.2L1325.0 172.8L1325.5 170.1L1326.0 173.9L1326.5 172.1L1327.0 173.0L1327.5 173.8L1328.0 172.7L1328.5 174.0L1329.0 171.9L1329.5 171.2L1330.0 172.2L1330.5 171.4L1331.0 173.6L1331.5 170.3L1332.0 172.6L1332.5 172.4L1333.0 172.5L1333.5 171.7L1334.0 171.3L1334.5 171.9L1335.0 170.4L1335.5 170.9L1336.0 171.5L1336.5 171.0L1337.0 171.4L1337.5 172.4L1338.0 169.7L1338.5 171.1L1339.0 170.4L1339.5 172.2L1340.0 172.7L1340.5 172.0L1341.0 170.4L1341.5 171.3L1342.0 171.2L1342.5 171.9L1343.0 172.9L1343.5 171.4L1344.0 173.5L1344.5 172.3L1345.0 173.1L1345.5 171.5L1346.0 170.5L1346.5 174.4L1347.0 171.9L1347.5 171.1L1348.0 170.4L1348.5 169.7L1349.0 173.1L1349.5 172.0L1350.0 171.8L1350.5 171.1L1351.0 172.1L1351.5 172.8L1352.0 170.8L1352.5 171.3L1353.0 170.1L1353.5 170.3L1354.0 171.1L1354.5 171.8L1355.0 173.7L1355.5 172.1L1356.0 172.0L1356.5 171.7L1357.0 172.6L1357.5 171.4L1358.0 170.6L1358.5 170.9L1359.0 171.6L1359.5 172.2L1360.0 172.1L1360.5 171.8L1361.0 171.4L1361.5 172.2L1362.0 171.9L1362.5 173.0L1363.0 171.0L1363.5 171.8L1364.0 171.3L1364.5 171.0L1365.0 172.5L1365.5 171.9L1366.0 171.2L1366.5 171.3L1367.0 170.9L1367.5 172.2L1368.0 171.7L1368.5 172.0L1369.0 171.5L1369.5 172.4L1370.0 172.8L1370.5 170.8L1371.0 170.9L1371.5 171.3L1372.0 170.7L1372.5 171.2L1373.0 172.3L1373.5 170.8L1374.0 170.4L1374.5 171.4L1375.0 172.1L1375.5 171.2L1376.0 170.4L1376.5 171.6L1377.0 171.1L1377.5 170.8L1378.0 171.3L1378.5 171.8L1379.0 170.7L1379.5 171.3L1380.0 171.6L1380.5 170.4L1381.0 171.2L1381.5 170.8L1382.0 171.0L1382.5 171.9L1383.0 172.1L1383.5 171.4L1384.0 172.3L1384.5 170.2L1385.0 171.8L1385.5 170.6L1386.0 170.6L1386.5 172.5L1387.0 171.9L1387.5 172.3L1388.0 172.5L1388.5 169.0L1389.0 171.9L1389.5 170.1L1390.0 171.9L1390.5 173.3L1391.0 171.0L1391.5 169.2L1392.0 171.3L1392.5 170.9L1393.0 172.4L1393.5 173.0L1394.0 170.9L1394.5 169.8L1395.0 170.0L1395.5 169.6L1396.0 169.6L1396.5 170.4L1397.0 171.2L1397.5 169.8L1398.0 170.6L1398.5 173.5L1399.0 169.2L1399.5 171.4L1400.0 171.0L1400.5 170.6L1401.0 171.3L1401.5 170.4L1402.0 169.8L1402.5 170.9L1403.0 170.6L1403.5 171.2L1404.0 169.7L1404.5 169.6L1405.0 172.1L1405.5 170.6L1406.0 171.2L1406.5 170.1L1407.0 170.6L1407.5 170.6L1408.0 169.8L1408.5 171.1L1409.0 171.7L1409.5 170.8L1410.0 171.5L1410.5 171.2L1411.0 170.4L1411.5 170.6L1412.0 169.5L1412.5 170.6L1413.0 170.5L1413.5 171.6L1414.0 169.4L1414.5 169.2L1415.0 170.9L1415.5 168.7L1416.0 170.4L1416.5 171.1L1417.0 168.9L1417.5 170.7L1418.0 170.5L1418.5 171.3L1419.0 169.4L1419.5 169.7L1420.0 169.5L1420.5 169.3L1421.0 171.0L1421.5 170.9L1422.0 171.8L1422.5 171.3L1423.0 168.9L1423.5 170.1L1424.0 170.7L1424.5 171.2L1425.0 169.8L1425.5 168.6L1426.0 169.5L1426.5 169.1L1427.0 170.1L1427.5 170.8L1428.0 171.1L1428.5 170.1L1429.0 170.2L1429.5 170.4L1430.0 169.5L1430.5 170.5L1431.0 171.5L1431.5 168.9L1432.0 170.9L1432.5 170.6L1433.0 170.7L1433.5 170.9L1434.0 173.0L1434.5 169.6L1435.0 169.8L1435.5 168.6L1436.0 169.6L1436.5 170.4L1437.0 169.1L1437.5 168.8L1438.0 168.9L1438.5 168.2L1439.0 171.7L1439.5 169.9L1440.0 168.4L1440.5 169.4L1441.0 169.8L1441.5 169.2L1442.0 169.1L1442.5 169.7L1443.0 168.4L1443.5 169.4L1444.0 168.5L1444.5 168.3L1445.0 169.7L1445.5 168.4L1446.0 168.7L1446.5 169.2L1447.0 170.1L1447.5 168.9L1448.0 169.7L1448.5 167.8L1449.0 168.1L1449.5 170.5L1450.0 169.1L1450.5 168.7L1451.0 167.9L1451.5 168.5L1452.0 169.2L1452.5 168.7L1453.0 169.2L1453.5 168.5L1454.0 168.0L1454.5 171.1L1455.0 168.6L1455.5 168.6L1456.0 169.0L1456.5 168.6L1457.0 170.8L1457.5 168.9L1458.0 169.3L1458.5 168.7L1459.0 170.0L1459.5 169.9L1460.0 168.5L1460.5 167.4L1461.0 168.9L1461.5 166.6L1462.0 168.4L1462.5 169.2L1463.0 168.4L1463.5 167.4L1464.0 170.1L1464.5 168.9L1465.0 167.3L1465.5 166.6L1466.0 167.1L1466.5 169.0L1467.0 167.8L1467.5 168.5L1468.0 168.0L1468.5 168.4L1469.0 167.3L1469.5 169.2L1470.0 167.5L1470.5 167.6L1471.0 168.0L1471.5 168.4L1472.0 167.5L1472.5 167.2L1473.0 167.5L1473.5 169.6L1474.0 165.8L1474.5 168.0L1475.0 167.6L1475.5 166.4L1476.0 166.3L1476.5 166.7L1477.0 166.1L1477.5 167.0L1478.0 167.4L1478.5 167.3L1479.0 165.6L1479.5 165.9L1480.0 168.6L1480.5 165.9L1481.0 166.3L1481.5 168.2L1482.0 166.2L1482.5 166.8L1483.0 167.7L1483.5 168.0L1484.0 167.3L1484.5 166.2L1485.0 164.7L1485.5 166.1L1486.0 166.8L1486.5 166.2L1487.0 166.2L1487.5 166.9L1488.0 165.8L1488.5 165.0L1489.0 166.0L1489.5 166.3L1490.0 166.7L1490.5 166.0L1491.0 166.1L1491.5 165.2L1492.0 165.6L1492.5 165.4L1493.0 165.2L1493.5 165.6L1494.0 167.1L1494.5 165.4L1495.0 165.7L1495.5 164.1" fill="none" stroke="#2e3192" stroke-width="3.0" stroke-linejoin="round"/>
<line x1="582.5" y1="302.7" x2="703.5" y2="302.7" stroke="#000" stroke-width="5" stroke-linecap="round"/>
<line x1="1348.5" y1="302.7" x2="1456.5" y2="302.7" stroke="#000" stroke-width="5" stroke-linecap="round"/>
<text transform="translate(8.6 37.5) scale(0.915 1)" font-family="Liberation Sans, sans-serif" font-size="48" font-weight="bold" fill="#231f20">a</text>
<text transform="translate(772.8 36.8) scale(1.06 1)" font-family="Liberation Sans, sans-serif" font-size="48" font-weight="bold" fill="#231f20">b</text>
<text x="12.0" y="79.4" font-family="Liberation Sans, sans-serif" font-size="32.4" fill="#231f20" textLength="66.2" lengthAdjust="spacingAndGlyphs" >100-</text>
<text x="75.8" y="79.4" font-family="Liberation Serif, serif" font-size="34" fill="#231f20" textLength="24.5" lengthAdjust="spacingAndGlyphs">&#956;</text>
<text x="96.2" y="79.4" font-family="Liberation Sans, sans-serif" font-size="32.4" fill="#231f20" textLength="34.2" lengthAdjust="spacingAndGlyphs" >M</text>
<text x="136.9" y="79.4" font-family="Liberation Sans, sans-serif" font-size="32.4" fill="#231f20" textLength="58.9" lengthAdjust="spacingAndGlyphs" >ACh</text>
<text x="1072.1" y="79.1" font-family="Liberation Sans, sans-serif" font-size="32.4" fill="#231f20" textLength="66.2" lengthAdjust="spacingAndGlyphs" >100-</text>
<text x="1135.8999999999999" y="79.1" font-family="Liberation Serif, serif" font-size="34" fill="#231f20" textLength="24.5" lengthAdjust="spacingAndGlyphs">&#956;</text>
<text x="1156.3" y="79.1" font-family="Liberation Sans, sans-serif" font-size="32.4" fill="#231f20" textLength="34.2" lengthAdjust="spacingAndGlyphs" >M</text>
<text x="1197.0" y="79.1" font-family="Liberation Sans, sans-serif" font-size="32.4" fill="#231f20" textLength="58.9" lengthAdjust="spacingAndGlyphs" >ACh</text>
<text x="590.4" y="337.9" font-family="Liberation Sans, sans-serif" font-size="31.6" fill="#231f20" textLength="107" lengthAdjust="spacingAndGlyphs" >150 ms</text>
<text x="1347.7" y="337.9" font-family="Liberation Sans, sans-serif" font-size="31.6" fill="#231f20" textLength="106.2" lengthAdjust="spacingAndGlyphs" >300 ms</text>
<rect x="346.5" y="399" width="64" height="36.3" fill="#bcbec0"/>
<line x1="346.5" y1="416.8" x2="409.5" y2="416.8" stroke="#231f20" stroke-width="4" stroke-linecap="round"/>
<line x1="346.3" y1="456.1" x2="409.5" y2="456.1" stroke="#ed1c24" stroke-width="3.7" stroke-linecap="round"/>
<line x1="346.3" y1="485.2" x2="409.5" y2="485.2" stroke="#27aae1" stroke-width="3.7" stroke-linecap="round"/>
<line x1="346.3" y1="514.4" x2="409.5" y2="514.4" stroke="#2e3192" stroke-width="3.7" stroke-linecap="round"/>
<text x="416.9" y="424.8" font-family="Liberation Sans, sans-serif" font-size="26" fill="#231f20" textLength="284" lengthAdjust="spacingAndGlyphs" >Wild-type muscle AChR</text>
<text x="421" y="464.7" font-size="26" fill="#231f20"><tspan font-family="Liberation Serif, serif" font-size="29">&#946;</tspan><tspan font-family="Liberation Sans, sans-serif" dx="1.5">1-less muscle AChR</tspan></text>
<text x="421" y="493.6" font-size="26" fill="#231f20"><tspan font-family="Liberation Serif, serif" font-size="29">&#948;</tspan><tspan font-family="Liberation Sans, sans-serif">-less muscle AChR</tspan></text>
<text x="421" y="521.7" font-size="26" fill="#231f20"><tspan font-family="Liberation Serif, serif" font-size="29">&#949;</tspan><tspan font-family="Liberation Sans, sans-serif">-less muscle AChR</tspan></text>
<rect x="1077.1" y="399" width="64" height="36.3" fill="#bcbec0"/>
<line x1="1077.1" y1="416.8" x2="1140.1" y2="416.8" stroke="#231f20" stroke-width="4" stroke-linecap="round"/>
<line x1="1076.9" y1="456.1" x2="1140.1" y2="456.1" stroke="#ed1c24" stroke-width="3.7" stroke-linecap="round"/>
<line x1="1076.9" y1="485.2" x2="1140.1" y2="485.2" stroke="#1cb0ea" stroke-width="3.7" stroke-linecap="round"/>
<line x1="1076.9" y1="514.4" x2="1140.1" y2="514.4" stroke="#2e3192" stroke-width="3.7" stroke-linecap="round"/>
<text x="1147.5" y="424.8" font-family="Liberation Sans, sans-serif" font-size="26" fill="#231f20" textLength="284" lengthAdjust="spacingAndGlyphs" >Wild-type muscle AChR</text>
<text x="1151.6" y="464.7" font-size="26" fill="#231f20"><tspan font-family="Liberation Serif, serif" font-size="29">&#946;</tspan><tspan font-family="Liberation Sans, sans-serif" dx="1.5">1-less muscle AChR</tspan></text>
<text x="1151.6" y="493.6" font-size="26" fill="#231f20"><tspan font-family="Liberation Serif, serif" font-size="29">&#948;</tspan><tspan font-family="Liberation Sans, sans-serif">-less muscle AChR</tspan></text>
<text x="1151.6" y="521.7" font-size="26" fill="#231f20"><tspan font-family="Liberation Serif, serif" font-size="29">&#949;</tspan><tspan font-family="Liberation Sans, sans-serif">-less muscle AChR</tspan></text>
</svg>
</body></html>
